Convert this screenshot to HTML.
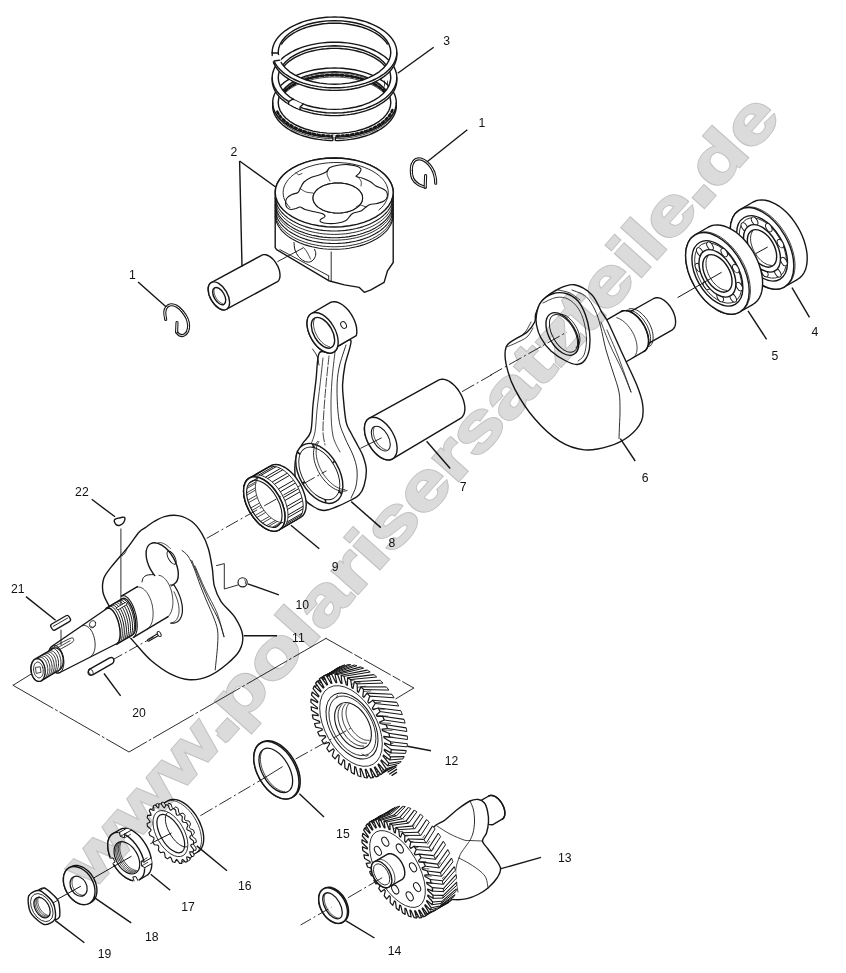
<!DOCTYPE html>
<html><head><meta charset="utf-8"><title>Crankshaft and piston - exploded view</title>
<style>
html,body{margin:0;padding:0;background:#fff;}
body{width:846px;height:973px;overflow:hidden;font-family:"Liberation Sans",sans-serif;}
svg{display:block;font-family:"Liberation Sans",sans-serif;}
</style></head><body>
<svg width="846" height="973" viewBox="0 0 846 973">
<rect width="846" height="973" fill="#fff"/>
<!-- piston_rings -->
<path d="M272.7 102.6 L272.8 100.3 L273.2 98.1 L273.9 95.8 L274.8 93.6 L276 91.5 L277.4 89.4 L279.1 87.3 L281 85.3 L283.1 83.4 L285.5 81.5 L288 79.8 L290.8 78.1 L293.8 76.6 L296.9 75.1 L300.2 73.8 L303.6 72.6 L307.2 71.6 L310.9 70.6 L314.6 69.8 L318.5 69.2 L322.4 68.7 L326.4 68.3 L330.5 68.1 L334.5 68 L338.5 68.1 L342.6 68.3 L346.6 68.7 L350.5 69.2 L354.4 69.8 L358.1 70.6 L361.8 71.6 L365.4 72.6 L368.8 73.8 L372.1 75.1 L375.2 76.6 L378.2 78.1 L381 79.8 L383.5 81.5 L385.9 83.4 L388 85.3 L389.9 87.3 L391.6 89.4 L393 91.5 L394.2 93.6 L395.1 95.8 L395.8 98.1 L396.2 100.3 L396.3 102.6 L396.3 106 L396.2 108.3 L395.8 110.5 L395.1 112.8 L394.2 115 L393 117.1 L391.6 119.2 L389.9 121.3 L388 123.3 L385.9 125.2 L383.5 127.1 L381 128.8 L378.2 130.5 L375.2 132 L372.1 133.5 L368.8 134.8 L365.4 136 L361.8 137 L358.1 138 L354.4 138.8 L350.5 139.4 L346.6 139.9 L342.6 140.3 L338.5 140.5 L334.5 140.6 L330.5 140.5 L326.4 140.3 L322.4 139.9 L318.5 139.4 L314.6 138.8 L310.9 138 L307.2 137 L303.6 136 L300.2 134.8 L296.9 133.5 L293.8 132 L290.8 130.5 L288 128.8 L285.5 127.1 L283.1 125.2 L281 123.3 L279.1 121.3 L277.4 119.2 L276 117.1 L274.8 115 L273.9 112.8 L273.2 110.5 L272.8 108.3 L272.7 106 Z M390.8 102.6 L390.3 106.6 L388.9 110.6 L386.5 114.4 L383.3 118 L379.2 121.3 L374.3 124.4 L368.8 127 L362.6 129.3 L356 131.1 L349.1 132.4 L341.8 133.1 L334.5 133.4 L327.2 133.1 L319.9 132.4 L313 131.1 L306.4 129.3 L300.2 127 L294.7 124.4 L289.8 121.3 L285.7 118 L282.5 114.4 L280.1 110.6 L278.7 106.6 L278.2 102.6 L278.7 98.6 L280.1 94.6 L282.5 90.8 L285.7 87.2 L289.8 83.9 L294.7 80.8 L300.2 78.2 L306.3 75.9 L313 74.1 L319.9 72.8 L327.2 72.1 L334.5 71.8 L341.8 72.1 L349.1 72.8 L356 74.1 L362.6 75.9 L368.8 78.2 L374.3 80.8 L379.2 83.9 L383.3 87.2 L386.5 90.8 L388.9 94.6 L390.3 98.6 L390.8 102.6 Z" fill="#fff" stroke="#161616" stroke-width="1.4" stroke-linejoin="round" stroke-linecap="round" fill-rule="evenodd"/>
<path d="M396.3 102.6 L396.2 104.9 L395.8 107.1 L395.1 109.4 L394.2 111.6 L393 113.7 L391.6 115.8 L389.9 117.9 L388 119.9 L385.9 121.8 L383.5 123.7 L381 125.4 L378.2 127.1 L375.2 128.6 L372.1 130.1 L368.8 131.4 L365.4 132.6 L361.8 133.6 L358.1 134.6 L354.4 135.4 L350.5 136 L346.6 136.5 L342.6 136.9 L338.5 137.1 L334.5 137.2 L330.5 137.1 L326.4 136.9 L322.4 136.5 L318.5 136 L314.6 135.4 L310.9 134.6 L307.2 133.6 L303.6 132.6 L300.2 131.4 L296.9 130.1 L293.8 128.6 L290.8 127.1 L288 125.4 L285.5 123.7 L283.1 121.8 L281 119.9 L279.1 117.9 L277.4 115.8 L276 113.7 L274.8 111.6 L273.9 109.4 L273.2 107.1 L272.8 104.9 L272.7 102.6" fill="none" stroke="#161616" stroke-width="1.4" stroke-linejoin="round" stroke-linecap="round" />
<path d="M395.4 109.1 L394.8 111.1 L394 113.1 L392.9 115.1 L391.7 117 L390.2 118.9 L388.5 120.7 L386.7 122.5 L384.7 124.2 L382.5 125.8 L380.1 127.4 L377.5 128.9 L374.8 130.3 L372 131.6 L369 132.8 L365.9 133.9 L362.7 134.9 L359.4 135.7 L356 136.5 L352.6 137.2 L349 137.7 L345.4 138.2 L341.8 138.5 L338.2 138.6 L334.5 138.7 L330.8 138.6 L327.2 138.5 L323.6 138.2 L320 137.7 L316.4 137.2 L313 136.5 L309.6 135.7 L306.3 134.9 L303.1 133.9 L300 132.8 L297 131.6 L294.2 130.3 L291.5 128.9 L288.9 127.4 L286.5 125.8 L284.3 124.2 L282.3 122.5 L280.5 120.7 L278.8 118.9 L277.3 117 L276.1 115.1 L275 113.1 L274.2 111.1 L273.6 109.1" fill="none" stroke="#161616" stroke-width="0.8" stroke-linejoin="round" stroke-linecap="round" />
<path d="M392.4 110 L391.6 111.8 L390.6 113.6 L389.5 115.4 L388.2 117.1 L386.6 118.7 L385 120.3 L383.1 121.9 L381.2 123.4 L379 124.8 L376.7 126.2 L374.3 127.5 L371.8 128.7 L369.1 129.8 L366.3 130.9 L363.4 131.8 L360.5 132.7 L357.4 133.4 L354.3 134.1 L351.1 134.7 L347.8 135.2 L344.5 135.5 L341.2 135.8 L337.9 135.9 L334.5 136 L331.1 135.9 L327.8 135.8 L324.5 135.5 L321.2 135.2 L317.9 134.7 L314.7 134.1 L311.6 133.4 L308.5 132.7 L305.6 131.8 L302.7 130.9 L299.9 129.8 L297.2 128.7 L294.7 127.5 L292.3 126.2 L290 124.8 L287.8 123.4 L285.9 121.9 L284 120.3 L282.4 118.7 L280.8 117.1 L279.5 115.4 L278.4 113.6 L277.4 111.8 L276.6 110" fill="none" stroke="#161616" stroke-width="2.6" stroke-linejoin="round" stroke-linecap="round" stroke-dasharray="2.2 2.6"/>
<path d="M281.6 95.3 L282.6 93.8 L283.8 92.4 L285.1 91 L286.6 89.6 L288.1 88.3 L289.8 87.1 L291.6 85.8 L293.5 84.7 L295.6 83.6 L297.7 82.5 L299.9 81.5 L302.2 80.6 L304.6 79.7 L307.1 78.9 L309.6 78.2 L312.2 77.5 L314.9 76.9 L317.6 76.4 L320.3 76 L323.1 75.6 L325.9 75.4 L328.8 75.2 L331.6 75 L334.5 75 L337.4 75 L340.2 75.2 L343.1 75.4 L345.9 75.6 L348.7 76 L351.4 76.4 L354.1 76.9 L356.8 77.5 L359.4 78.2 L361.9 78.9 L364.4 79.7 L366.8 80.6 L369.1 81.5 L371.3 82.5 L373.4 83.6 L375.5 84.7 L377.4 85.8 L379.2 87.1 L380.9 88.3 L382.4 89.6 L383.9 91 L385.2 92.4 L386.4 93.8 L387.4 95.3" fill="none" stroke="#161616" stroke-width="2.8" stroke-linejoin="round" stroke-linecap="round" stroke-dasharray="2.6 2.4"/>
<path d="M280.1 95.6 L281 94 L282 92.4 L283.2 90.9 L284.6 89.4 L286.1 87.9 L287.7 86.5 L289.5 85.1 L291.4 83.8 L293.4 82.5 L295.6 81.4 L297.8 80.2 L300.2 79.2 L302.7 78.2 L305.3 77.3 L308 76.4 L310.7 75.7 L313.5 75 L316.4 74.4 L319.3 73.9 L322.3 73.5 L325.3 73.2 L328.4 73 L331.4 72.8 L334.5 72.8 L337.6 72.8 L340.6 73 L343.7 73.2 L346.7 73.5 L349.7 73.9 L352.6 74.4 L355.5 75 L358.3 75.7 L361 76.4 L363.7 77.3 L366.3 78.2 L368.8 79.2 L371.2 80.2 L373.4 81.4 L375.6 82.5 L377.6 83.8 L379.5 85.1 L381.3 86.5 L382.9 87.9 L384.4 89.4 L385.8 90.9 L387 92.4 L388 94 L388.9 95.6" fill="none" stroke="#161616" stroke-width="0.8" stroke-linejoin="round" stroke-linecap="round" />
<path d="M281 98.3 L281.9 96.8 L283.1 95.3 L284.3 93.8 L285.7 92.4 L287.3 91 L289 89.7 L290.7 88.4 L292.7 87.2 L294.7 86 L296.8 84.9 L299.1 83.9 L301.4 82.9 L303.8 82 L306.3 81.1 L308.9 80.4 L311.6 79.7 L314.3 79 L317.1 78.5 L319.9 78 L322.8 77.7 L325.7 77.4 L328.6 77.2 L331.6 77 L334.5 77 L337.4 77 L340.4 77.2 L343.3 77.4 L346.2 77.7 L349.1 78 L351.9 78.5 L354.7 79 L357.4 79.7 L360.1 80.4 L362.6 81.1 L365.2 82 L367.6 82.9 L369.9 83.9 L372.2 84.9 L374.3 86 L376.3 87.2 L378.3 88.4 L380 89.7 L381.7 91 L383.3 92.4 L384.7 93.8 L385.9 95.3 L387.1 96.8 L388 98.3" fill="none" stroke="#161616" stroke-width="0.8" stroke-linejoin="round" stroke-linecap="round" />
<line x1="384.5" y1="80.6" x2="384.5" y2="86.6" stroke="#161616" stroke-width="0.8"/>
<line x1="387.5" y1="80.6" x2="387.5" y2="86.6" stroke="#161616" stroke-width="0.8"/>
<line x1="390" y1="80.6" x2="390" y2="86.6" stroke="#161616" stroke-width="0.8"/>
<rect x="332.9" y="135.2" width="2.4" height="7" fill="#fff"/>
<line x1="332.9" y1="136.7" x2="332.9" y2="140.8" stroke="#161616" stroke-width="1.4"/>
<line x1="335.3" y1="136.7" x2="335.3" y2="140.8" stroke="#161616" stroke-width="1.4"/>
<path d="M272.2 77.6 L272.3 75.3 L272.7 73 L273.4 70.7 L274.3 68.4 L275.5 66.2 L276.9 64.1 L278.6 61.9 L280.5 59.9 L282.7 57.9 L285.1 56 L287.7 54.3 L290.4 52.6 L293.4 51 L296.6 49.5 L299.9 48.2 L303.3 46.9 L306.9 45.9 L310.7 44.9 L314.5 44.1 L318.4 43.4 L322.3 42.9 L326.4 42.5 L330.4 42.3 L334.5 42.2 L338.6 42.3 L342.6 42.5 L346.7 42.9 L350.6 43.4 L354.5 44.1 L358.3 44.9 L362.1 45.9 L365.6 46.9 L369.1 48.2 L372.4 49.5 L375.6 51 L378.6 52.6 L381.3 54.3 L383.9 56 L386.3 57.9 L388.5 59.9 L390.4 61.9 L392.1 64.1 L393.5 66.2 L394.7 68.4 L395.6 70.7 L396.3 73 L396.7 75.3 L396.8 77.6 L396.8 80.2 L396.7 82.5 L396.3 84.8 L395.6 87.1 L394.7 89.4 L393.5 91.6 L392.1 93.7 L390.4 95.9 L388.5 97.9 L386.3 99.9 L383.9 101.8 L381.3 103.5 L378.6 105.2 L375.6 106.8 L372.4 108.3 L369.1 109.6 L365.6 110.9 L362.1 111.9 L358.3 112.9 L354.5 113.7 L350.6 114.4 L346.7 114.9 L342.6 115.3 L338.6 115.5 L334.5 115.6 L330.4 115.5 L326.4 115.3 L322.3 114.9 L318.4 114.4 L314.5 113.7 L310.7 112.9 L306.9 111.9 L303.4 110.9 L299.9 109.6 L296.6 108.3 L293.4 106.8 L290.4 105.2 L287.7 103.5 L285.1 101.8 L282.7 99.9 L280.5 97.9 L278.6 95.9 L276.9 93.7 L275.5 91.6 L274.3 89.4 L273.4 87.1 L272.7 84.8 L272.3 82.5 L272.2 80.2 Z M390.8 77.6 L390.3 81.8 L388.9 85.8 L386.5 89.8 L383.3 93.5 L379.2 97 L374.3 100.1 L368.8 102.8 L362.6 105.2 L356 107 L349.1 108.3 L341.8 109.1 L334.5 109.4 L327.2 109.1 L319.9 108.3 L313 107 L306.4 105.2 L300.2 102.8 L294.7 100.1 L289.8 97 L285.7 93.5 L282.5 89.8 L280.1 85.8 L278.7 81.8 L278.2 77.6 L278.7 73.4 L280.1 69.4 L282.5 65.4 L285.7 61.7 L289.8 58.2 L294.7 55.1 L300.2 52.4 L306.3 50 L313 48.2 L319.9 46.9 L327.2 46.1 L334.5 45.8 L341.8 46.1 L349.1 46.9 L356 48.2 L362.6 50 L368.8 52.4 L374.3 55.1 L379.2 58.2 L383.3 61.7 L386.5 65.4 L388.9 69.4 L390.3 73.4 L390.8 77.6 Z" fill="#fff" stroke="#161616" stroke-width="1.4" stroke-linejoin="round" stroke-linecap="round" fill-rule="evenodd"/>
<path d="M396.8 77.6 L396.7 79.9 L396.3 82.2 L395.6 84.5 L394.7 86.8 L393.5 89 L392.1 91.1 L390.4 93.3 L388.5 95.3 L386.3 97.3 L383.9 99.2 L381.3 100.9 L378.6 102.6 L375.6 104.2 L372.4 105.7 L369.1 107 L365.6 108.3 L362.1 109.3 L358.3 110.3 L354.5 111.1 L350.6 111.8 L346.7 112.3 L342.6 112.7 L338.6 112.9 L334.5 113 L330.4 112.9 L326.4 112.7 L322.3 112.3 L318.4 111.8 L314.5 111.1 L310.7 110.3 L306.9 109.3 L303.4 108.3 L299.9 107 L296.6 105.7 L293.4 104.2 L290.4 102.6 L287.7 100.9 L285.1 99.2 L282.7 97.3 L280.5 95.3 L278.6 93.3 L276.9 91.1 L275.5 89 L274.3 86.8 L273.4 84.5 L272.7 82.2 L272.3 79.9 L272.2 77.6" fill="none" stroke="#161616" stroke-width="1.4" stroke-linejoin="round" stroke-linecap="round" />
<path d="M281.6 69.3 L282.6 67.8 L283.8 66.3 L285.1 64.9 L286.6 63.5 L288.1 62.1 L289.8 60.8 L291.6 59.6 L293.5 58.4 L295.6 57.2 L297.7 56.1 L299.9 55.1 L302.2 54.1 L304.6 53.2 L307.1 52.4 L309.6 51.7 L312.2 51 L314.9 50.4 L317.6 49.9 L320.3 49.4 L323.1 49 L325.9 48.8 L328.8 48.5 L331.6 48.4 L334.5 48.4 L337.4 48.4 L340.2 48.5 L343.1 48.8 L345.9 49 L348.7 49.4 L351.4 49.9 L354.1 50.4 L356.8 51 L359.4 51.7 L361.9 52.4 L364.4 53.2 L366.8 54.1 L369.1 55.1 L371.3 56.1 L373.4 57.2 L375.5 58.4 L377.4 59.6 L379.2 60.8 L380.9 62.1 L382.4 63.5 L383.9 64.9 L385.2 66.3 L386.4 67.8 L387.4 69.3" fill="none" stroke="#161616" stroke-width="1.4" stroke-linejoin="round" stroke-linecap="round" />
<path d="M299 108.8 L287.1 102.9 L294.5 100.3 L304.5 105.1 Z" fill="#fff" stroke="none"/>
<path d="M300.1 109.7 L300.1 107.1 L303.4 104.1" fill="none" stroke="#161616" stroke-width="1.4" stroke-linejoin="round" stroke-linecap="round" />
<path d="M288.6 104.1 L288.6 101.5 L293 99.1" fill="none" stroke="#161616" stroke-width="1.4" stroke-linejoin="round" stroke-linecap="round" />
<path d="M272.2 52.4 L272.3 50.1 L272.7 47.8 L273.4 45.5 L274.3 43.2 L275.5 41 L276.9 38.9 L278.6 36.7 L280.5 34.7 L282.7 32.7 L285.1 30.8 L287.7 29.1 L290.4 27.4 L293.4 25.8 L296.6 24.3 L299.9 23 L303.3 21.7 L306.9 20.7 L310.7 19.7 L314.5 18.9 L318.4 18.2 L322.3 17.7 L326.4 17.3 L330.4 17.1 L334.5 17 L338.6 17.1 L342.6 17.3 L346.7 17.7 L350.6 18.2 L354.5 18.9 L358.3 19.7 L362.1 20.7 L365.6 21.7 L369.1 23 L372.4 24.3 L375.6 25.8 L378.6 27.4 L381.3 29.1 L383.9 30.8 L386.3 32.7 L388.5 34.7 L390.4 36.7 L392.1 38.9 L393.5 41 L394.7 43.2 L395.6 45.5 L396.3 47.8 L396.7 50.1 L396.8 52.4 L396.8 55 L396.7 57.3 L396.3 59.6 L395.6 61.9 L394.7 64.2 L393.5 66.4 L392.1 68.5 L390.4 70.7 L388.5 72.7 L386.3 74.7 L383.9 76.6 L381.3 78.3 L378.6 80 L375.6 81.6 L372.4 83.1 L369.1 84.4 L365.6 85.7 L362.1 86.7 L358.3 87.7 L354.5 88.5 L350.6 89.2 L346.7 89.7 L342.6 90.1 L338.6 90.3 L334.5 90.4 L330.4 90.3 L326.4 90.1 L322.3 89.7 L318.4 89.2 L314.5 88.5 L310.7 87.7 L306.9 86.7 L303.4 85.7 L299.9 84.4 L296.6 83.1 L293.4 81.6 L290.4 80 L287.7 78.3 L285.1 76.6 L282.7 74.7 L280.5 72.7 L278.6 70.7 L276.9 68.5 L275.5 66.4 L274.3 64.2 L273.4 61.9 L272.7 59.6 L272.3 57.3 L272.2 55 Z M390.8 52.4 L390.3 56.6 L388.9 60.6 L386.5 64.6 L383.3 68.3 L379.2 71.8 L374.3 74.9 L368.8 77.6 L362.6 80 L356 81.8 L349.1 83.1 L341.8 83.9 L334.5 84.2 L327.2 83.9 L319.9 83.1 L313 81.8 L306.4 80 L300.2 77.6 L294.7 74.9 L289.8 71.8 L285.7 68.3 L282.5 64.6 L280.1 60.6 L278.7 56.6 L278.2 52.4 L278.7 48.2 L280.1 44.2 L282.5 40.2 L285.7 36.5 L289.8 33 L294.7 29.9 L300.2 27.2 L306.3 24.8 L313 23 L319.9 21.7 L327.2 20.9 L334.5 20.6 L341.8 20.9 L349.1 21.7 L356 23 L362.6 24.8 L368.8 27.2 L374.3 29.9 L379.2 33 L383.3 36.5 L386.5 40.2 L388.9 44.2 L390.3 48.2 L390.8 52.4 Z" fill="#fff" stroke="#161616" stroke-width="1.4" stroke-linejoin="round" stroke-linecap="round" fill-rule="evenodd"/>
<path d="M396.8 52.4 L396.7 54.7 L396.3 57 L395.6 59.3 L394.7 61.6 L393.5 63.8 L392.1 65.9 L390.4 68.1 L388.5 70.1 L386.3 72.1 L383.9 74 L381.3 75.7 L378.6 77.4 L375.6 79 L372.4 80.5 L369.1 81.8 L365.6 83.1 L362.1 84.1 L358.3 85.1 L354.5 85.9 L350.6 86.6 L346.7 87.1 L342.6 87.5 L338.6 87.7 L334.5 87.8 L330.4 87.7 L326.4 87.5 L322.3 87.1 L318.4 86.6 L314.5 85.9 L310.7 85.1 L306.9 84.1 L303.4 83.1 L299.9 81.8 L296.6 80.5 L293.4 79 L290.4 77.4 L287.7 75.7 L285.1 74 L282.7 72.1 L280.5 70.1 L278.6 68.1 L276.9 65.9 L275.5 63.8 L274.3 61.6 L273.4 59.3 L272.7 57 L272.3 54.7 L272.2 52.4" fill="none" stroke="#161616" stroke-width="1.4" stroke-linejoin="round" stroke-linecap="round" />
<path d="M281.6 44.1 L282.6 42.6 L283.8 41.1 L285.1 39.7 L286.6 38.3 L288.1 36.9 L289.8 35.6 L291.6 34.4 L293.5 33.2 L295.6 32 L297.7 30.9 L299.9 29.9 L302.2 28.9 L304.6 28 L307.1 27.2 L309.6 26.5 L312.2 25.8 L314.9 25.2 L317.6 24.7 L320.3 24.2 L323.1 23.8 L325.9 23.6 L328.8 23.3 L331.6 23.2 L334.5 23.2 L337.4 23.2 L340.2 23.3 L343.1 23.6 L345.9 23.8 L348.7 24.2 L351.4 24.7 L354.1 25.2 L356.8 25.8 L359.4 26.5 L361.9 27.2 L364.4 28 L366.8 28.9 L369.1 29.9 L371.3 30.9 L373.4 32 L375.5 33.2 L377.4 34.4 L379.2 35.6 L380.9 36.9 L382.4 38.3 L383.9 39.7 L385.2 41.1 L386.4 42.6 L387.4 44.1" fill="none" stroke="#161616" stroke-width="1.4" stroke-linejoin="round" stroke-linecap="round" />
<path d="M272.1 61.4 L270.2 53.1 L280.2 55.5 L281.8 62.2 Z" fill="#fff" stroke="none"/>
<path d="M274.1 63.6 L274.1 61 L279.9 60.1" fill="none" stroke="#161616" stroke-width="1.4" stroke-linejoin="round" stroke-linecap="round" />
<path d="M272.2 55.6 L272.2 53 L278.2 53" fill="none" stroke="#161616" stroke-width="1.4" stroke-linejoin="round" stroke-linecap="round" />
<!-- wrist_pin -->
<path d="M226.6 309.2 L225.7 309.6 L224.7 309.9 L223.7 309.9 L222.6 309.8 L221.5 309.5 L220.3 309 L219.1 308.4 L217.9 307.6 L216.7 306.6 L215.5 305.6 L214.4 304.4 L213.4 303.1 L212.4 301.7 L211.5 300.2 L210.6 298.7 L209.9 297.1 L209.3 295.6 L208.8 294 L208.5 292.4 L208.3 290.9 L208.2 289.5 L208.2 288.2 L208.4 286.9 L208.7 285.7 L209.2 284.7 L209.7 283.9 L210.4 283.1 L211.2 282.6 L261.6 255.3 L262.5 254.9 L263.5 254.6 L264.5 254.6 L265.6 254.7 L266.7 255 L267.9 255.5 L269.1 256.1 L270.3 256.9 L271.5 257.9 L272.7 258.9 L273.8 260.1 L274.8 261.4 L275.8 262.8 L276.7 264.3 L277.6 265.8 L278.3 267.4 L278.9 268.9 L279.4 270.5 L279.7 272.1 L279.9 273.6 L280 275 L280 276.3 L279.8 277.6 L279.5 278.8 L279 279.8 L278.5 280.6 L277.8 281.4 L277 281.9 Z" fill="#fff" stroke="#161616" stroke-width="1.4" stroke-linejoin="round" stroke-linecap="round" />
<ellipse cx="218.9" cy="295.9" rx="8.6" ry="15.4" transform="rotate(-30 218.9 295.9)" fill="#fff" stroke="#161616" stroke-width="1.4" />
<ellipse cx="219.2" cy="296.1" rx="5.2" ry="9.5" transform="rotate(-30 219.2 296.1)" fill="none" stroke="#161616" stroke-width="1.4" />
<path d="M222.4 303.6 L221.9 303.4 L221.4 303.1 L220.8 302.8 L220.3 302.5 L219.8 302.1 L219.3 301.7 L218.7 301.2 L218.2 300.7 L217.7 300.1 L217.3 299.5 L216.8 298.9 L216.4 298.3 L216 297.6 L215.6 296.9 L215.3 296.3 L215 295.6 L214.7 294.9 L214.5 294.2 L214.3 293.5 L214.2 292.8 L214 292.1 L214 291.5 L214 290.8 L214 290.2 L214 289.7 L214.2 289.2 L214.3 288.7 L214.5 288.2" fill="none" stroke="#161616" stroke-width="0.8" stroke-linejoin="round" stroke-linecap="round" />
<!-- piston -->
<path d="M275.2 192.5 L275.2 247.6 L276.6 249.6 L328.7 280.7 L344.4 284.9 L359.3 287.4 L364.3 292.3 L370.9 289.8 L384.1 282.4 L387.5 270.8 L393.2 262.5 L393.2 192.5 L393.2 192.5 L393.1 190.2 L392.7 188 L392.1 185.8 L391.2 183.6 L390.1 181.4 L388.7 179.3 L387.1 177.2 L385.3 175.2 L383.3 173.3 L381 171.5 L378.6 169.8 L375.9 168.1 L373.1 166.6 L370.1 165.1 L367 163.8 L363.7 162.6 L360.3 161.6 L356.8 160.6 L353.2 159.8 L349.5 159.2 L345.7 158.7 L341.9 158.3 L338.1 158.1 L334.2 158 L330.3 158.1 L326.5 158.3 L322.7 158.7 L318.9 159.2 L315.2 159.8 L311.6 160.6 L308.1 161.6 L304.7 162.6 L301.4 163.8 L298.3 165.1 L295.3 166.6 L292.5 168.1 L289.8 169.8 L287.4 171.5 L285.1 173.3 L283.1 175.2 L281.3 177.2 L279.7 179.3 L278.3 181.4 L277.2 183.6 L276.3 185.8 L275.7 188 L275.3 190.2 L275.2 192.5 Z" fill="#fff" stroke="#161616" stroke-width="1.4" stroke-linejoin="round" stroke-linecap="round" />
<path d="M393.2 192.5 L392.7 197 L391.2 201.4 L388.7 205.7 L385.3 209.8 L381 213.5 L375.9 216.9 L370.1 219.9 L363.7 222.4 L356.8 224.4 L349.5 225.8 L341.9 226.7 L334.2 227 L326.5 226.7 L318.9 225.8 L311.6 224.4 L304.7 222.4 L298.3 219.9 L292.5 216.9 L287.4 213.5 L283.1 209.8 L279.7 205.7 L277.2 201.4 L275.7 197 L275.2 192.5 L275.7 188 L277.2 183.6 L279.7 179.3 L283.1 175.2 L287.4 171.5 L292.5 168.1 L298.3 165.1 L304.7 162.6 L311.6 160.6 L318.9 159.2 L326.5 158.3 L334.2 158 L341.9 158.3 L349.5 159.2 L356.8 160.6 L363.7 162.6 L370.1 165.1 L375.9 168.1 L381 171.5 L385.3 175.2 L388.7 179.3 L391.2 183.6 L392.7 188 L393.2 192.5 Z" fill="#fff" stroke="#161616" stroke-width="1.4" stroke-linejoin="round" stroke-linecap="round" />
<path d="M393.2 197.7 L392.9 199.9 L392.4 202.1 L391.7 204.3 L390.7 206.4 L389.5 208.5 L388.1 210.5 L386.5 212.5 L384.6 214.4 L382.5 216.3 L380.3 218.1 L377.8 219.7 L375.2 221.3 L372.4 222.8 L369.4 224.2 L366.3 225.4 L363.1 226.6 L359.8 227.6 L356.3 228.5 L352.8 229.2 L349.1 229.9 L345.5 230.4 L341.7 230.7 L338 230.9 L334.2 231 L330.4 230.9 L326.7 230.7 L322.9 230.4 L319.3 229.9 L315.6 229.2 L312.1 228.5 L308.6 227.6 L305.3 226.6 L302.1 225.4 L299 224.2 L296 222.8 L293.2 221.3 L290.6 219.7 L288.1 218.1 L285.9 216.3 L283.8 214.4 L281.9 212.5 L280.3 210.5 L278.9 208.5 L277.7 206.4 L276.7 204.3 L276 202.1 L275.5 199.9 L275.2 197.7" fill="none" stroke="#161616" stroke-width="1.1" stroke-linejoin="round" stroke-linecap="round" />
<path d="M393.2 201.1 L392.9 203.3 L392.4 205.5 L391.7 207.7 L390.7 209.8 L389.5 211.9 L388.1 213.9 L386.5 215.9 L384.6 217.8 L382.5 219.7 L380.3 221.5 L377.8 223.1 L375.2 224.7 L372.4 226.2 L369.4 227.6 L366.3 228.8 L363.1 230 L359.8 231 L356.3 231.9 L352.8 232.6 L349.1 233.3 L345.5 233.8 L341.7 234.1 L338 234.3 L334.2 234.4 L330.4 234.3 L326.7 234.1 L322.9 233.8 L319.3 233.3 L315.6 232.6 L312.1 231.9 L308.6 231 L305.3 230 L302.1 228.8 L299 227.6 L296 226.2 L293.2 224.7 L290.6 223.1 L288.1 221.5 L285.9 219.7 L283.8 217.8 L281.9 215.9 L280.3 213.9 L278.9 211.9 L277.7 209.8 L276.7 207.7 L276 205.5 L275.5 203.3 L275.2 201.1" fill="none" stroke="#161616" stroke-width="0.9" stroke-linejoin="round" stroke-linecap="round" />
<path d="M393.2 204.4 L392.9 206.6 L392.4 208.8 L391.7 211 L390.7 213.1 L389.5 215.2 L388.1 217.2 L386.5 219.2 L384.6 221.1 L382.5 223 L380.3 224.8 L377.8 226.4 L375.2 228 L372.4 229.5 L369.4 230.9 L366.3 232.1 L363.1 233.3 L359.8 234.3 L356.3 235.2 L352.8 235.9 L349.1 236.6 L345.5 237.1 L341.7 237.4 L338 237.6 L334.2 237.7 L330.4 237.6 L326.7 237.4 L322.9 237.1 L319.3 236.6 L315.6 235.9 L312.1 235.2 L308.6 234.3 L305.3 233.3 L302.1 232.1 L299 230.9 L296 229.5 L293.2 228 L290.6 226.4 L288.1 224.8 L285.9 223 L283.8 221.1 L281.9 219.2 L280.3 217.2 L278.9 215.2 L277.7 213.1 L276.7 211 L276 208.8 L275.5 206.6 L275.2 204.4" fill="none" stroke="#161616" stroke-width="1.1" stroke-linejoin="round" stroke-linecap="round" />
<path d="M393.2 206.9 L392.9 209.1 L392.4 211.3 L391.7 213.5 L390.7 215.6 L389.5 217.7 L388.1 219.7 L386.5 221.7 L384.6 223.6 L382.5 225.5 L380.3 227.3 L377.8 228.9 L375.2 230.5 L372.4 232 L369.4 233.4 L366.3 234.6 L363.1 235.8 L359.8 236.8 L356.3 237.7 L352.8 238.4 L349.1 239.1 L345.5 239.6 L341.7 239.9 L338 240.1 L334.2 240.2 L330.4 240.1 L326.7 239.9 L322.9 239.6 L319.3 239.1 L315.6 238.4 L312.1 237.7 L308.6 236.8 L305.3 235.8 L302.1 234.6 L299 233.4 L296 232 L293.2 230.5 L290.6 228.9 L288.1 227.3 L285.9 225.5 L283.8 223.6 L281.9 221.7 L280.3 219.7 L278.9 217.7 L277.7 215.6 L276.7 213.5 L276 211.3 L275.5 209.1 L275.2 206.9" fill="none" stroke="#161616" stroke-width="0.9" stroke-linejoin="round" stroke-linecap="round" />
<path d="M393.2 210.2 L392.9 212.4 L392.4 214.6 L391.7 216.8 L390.7 218.9 L389.5 221 L388.1 223 L386.5 225 L384.6 226.9 L382.5 228.8 L380.3 230.6 L377.8 232.2 L375.2 233.8 L372.4 235.3 L369.4 236.7 L366.3 237.9 L363.1 239.1 L359.8 240.1 L356.3 241 L352.8 241.7 L349.1 242.4 L345.5 242.9 L341.7 243.2 L338 243.4 L334.2 243.5 L330.4 243.4 L326.7 243.2 L322.9 242.9 L319.3 242.4 L315.6 241.7 L312.1 241 L308.6 240.1 L305.3 239.1 L302.1 237.9 L299 236.7 L296 235.3 L293.2 233.8 L290.6 232.2 L288.1 230.6 L285.9 228.8 L283.8 226.9 L281.9 225 L280.3 223 L278.9 221 L277.7 218.9 L276.7 216.8 L276 214.6 L275.5 212.4 L275.2 210.2" fill="none" stroke="#161616" stroke-width="1.1" stroke-linejoin="round" stroke-linecap="round" />
<path d="M393.2 213.5 L392.9 215.7 L392.4 217.9 L391.7 220.1 L390.7 222.2 L389.5 224.3 L388.1 226.3 L386.5 228.3 L384.6 230.2 L382.5 232.1 L380.3 233.9 L377.8 235.5 L375.2 237.1 L372.4 238.6 L369.4 240 L366.3 241.2 L363.1 242.4 L359.8 243.4 L356.3 244.3 L352.8 245 L349.1 245.7 L345.5 246.2 L341.7 246.5 L338 246.7 L334.2 246.8 L330.4 246.7 L326.7 246.5 L322.9 246.2 L319.3 245.7 L315.6 245 L312.1 244.3 L308.6 243.4 L305.3 242.4 L302.1 241.2 L299 240 L296 238.6 L293.2 237.1 L290.6 235.5 L288.1 233.9 L285.9 232.1 L283.8 230.2 L281.9 228.3 L280.3 226.3 L278.9 224.3 L277.7 222.2 L276.7 220.1 L276 217.9 L275.5 215.7 L275.2 213.5" fill="none" stroke="#161616" stroke-width="0.9" stroke-linejoin="round" stroke-linecap="round" />
<path d="M393.2 216 L392.9 218.2 L392.4 220.4 L391.7 222.6 L390.7 224.7 L389.5 226.8 L388.1 228.8 L386.5 230.8 L384.6 232.7 L382.5 234.6 L380.3 236.4 L377.8 238 L375.2 239.6 L372.4 241.1 L369.4 242.5 L366.3 243.7 L363.1 244.9 L359.8 245.9 L356.3 246.8 L352.8 247.5 L349.1 248.2 L345.5 248.7 L341.7 249 L338 249.2 L334.2 249.3 L330.4 249.2 L326.7 249 L322.9 248.7 L319.3 248.2 L315.6 247.5 L312.1 246.8 L308.6 245.9 L305.3 244.9 L302.1 243.7 L299 242.5 L296 241.1 L293.2 239.6 L290.6 238 L288.1 236.4 L285.9 234.6 L283.8 232.7 L281.9 230.8 L280.3 228.8 L278.9 226.8 L277.7 224.7 L276.7 222.6 L276 220.4 L275.5 218.2 L275.2 216" fill="none" stroke="#161616" stroke-width="1.1" stroke-linejoin="round" stroke-linecap="round" />
<line x1="276.7" y1="198.5" x2="276.7" y2="218.5" stroke="#161616" stroke-width="0.8"/>
<line x1="391.7" y1="198.5" x2="391.7" y2="216.5" stroke="#161616" stroke-width="0.8"/>
<path d="M279.9 249.6 L328.7 275.8" fill="none" stroke="#161616" stroke-width="0.9" stroke-linejoin="round" stroke-linecap="round" />
<line x1="331.2" y1="251.5" x2="331.2" y2="281" stroke="#161616" stroke-width="0.9"/>
<line x1="328.7" y1="275.8" x2="328.7" y2="280.7" stroke="#161616" stroke-width="0.9"/>
<path d="M294 242.5 C294.2 243.8 294.2 247.7 295 250 C295.8 252.3 297 254.7 298.5 256.5 C300 258.3 302.1 260.1 304 261 C305.9 261.9 308 262.3 309.7 262 C311.4 261.7 313 260.3 314 259 C315 257.7 315.7 255.6 315.8 254 C315.9 252.4 314.8 250.1 314.6 249.3" fill="none" stroke="#161616" stroke-width="1" stroke-linejoin="round" stroke-linecap="round" />
<path d="M303 247 C303.7 247.8 305.8 250 307 252 C308.2 254 309.9 257.8 310.5 259" fill="none" stroke="#161616" stroke-width="0.8" stroke-linejoin="round" stroke-linecap="round" />
<path d="M290.1 207.8 L288 205.4 L286.2 202.9 L284.8 200.4 L283.8 197.7 L283.3 195.1 L283.1 192.4 L283.4 189.7 L284 187 L285.1 184.4 L286.6 181.9 L288.5 179.4 L290.7 177 L293.3 174.8 L296.3 172.7 L299.5 170.8 L303.1 169 L306.9 167.4 L310.9 166.1 L315.1 164.9 L319.5 164 L324 163.3 L328.6 162.8 L333.3 162.5 L338 162.5 L342.7 162.8 L347.3 163.2 L351.8 163.9 L356.2 164.9 L360.4 166 L364.4 167.4 L368.2 169 L371.8 170.7 L375.1 172.7 L378 174.8 L380.6 177 L382.9 179.3 L384.8 181.8 L386.3 184.4 L387.3 187 L388 189.6 L388.3 192.3 L388.1 195 L387.6 197.7 L386.6 200.3 L385.2 202.9 L383.5 205.4 L381.3 207.8 L378.8 210" fill="none" stroke="#161616" stroke-width="0.9" stroke-linejoin="round" stroke-linecap="round" />
<path d="M362.6 198 L362.4 200 L361.8 201.9 L360.7 203.7 L359.3 205.5 L357.5 207.1 L355.3 208.6 L352.9 209.9 L350.2 211 L347.3 211.9 L344.2 212.5 L341 212.9 L337.8 213 L334.6 212.9 L331.4 212.5 L328.3 211.9 L325.4 211 L322.7 209.9 L320.3 208.6 L318.1 207.1 L316.3 205.5 L314.9 203.7 L313.8 201.9 L313.2 200 L313 198 L313.2 196 L313.8 194.1 L314.9 192.3 L316.3 190.5 L318.1 188.9 L320.3 187.4 L322.7 186.1 L325.4 185 L328.3 184.1 L331.4 183.5 L334.6 183.1 L337.8 183 L341 183.1 L344.2 183.5 L347.3 184.1 L350.2 185 L352.9 186.1 L355.3 187.4 L357.5 188.9 L359.3 190.5 L360.7 192.3 L361.8 194.1 L362.4 196 L362.6 198 Z" fill="#fff" stroke="#161616" stroke-width="1.1" stroke-linejoin="round" stroke-linecap="round" />
<path d="M285.5 203 C285.5 201.4 285.9 199.4 287 198 C288.1 196.6 290.2 195.4 292 194.5 C293.8 193.6 296.6 193.6 298 192.5 C299.4 191.4 299.5 189.8 300.5 188 C301.5 186.2 302.2 183.8 304 182 C305.8 180.2 308.5 178.7 311 177.5 C313.5 176.3 316.5 175.9 319 175 C321.5 174.1 324.2 173.2 326 172 C327.8 170.8 328 168.6 330 167.5 C332 166.4 335 165.7 338 165.2 C341 164.7 345 164.5 348 164.6 C351 164.7 353.8 165.3 356 166 C358.2 166.7 360.5 167.8 361 169 C361.5 170.2 359.8 172.2 359 173.5 C358.2 174.8 355.5 175.8 356 176.5 C356.5 177.2 359.7 177.2 362 178 C364.3 178.8 367.7 180.2 370 181.5 C372.3 182.8 374.2 184.9 376 186 C377.8 187.1 379.3 187.2 381 188 C382.7 188.8 384.9 189.7 386 191 C387.1 192.3 387.8 194.3 387.5 196 C387.2 197.7 385.8 199.8 384 201 C382.2 202.2 379.3 202.9 377 203.5 C374.7 204.1 371.8 203.9 370 204.5 C368.2 205.1 367.5 205.9 366 207 C364.5 208.1 363.2 210 361 211 C358.8 212 354.8 212.4 353 213.2 C351.2 214 351.2 214.8 350 216 C348.8 217.2 348 219.3 346 220.5 C344 221.7 341 222.5 338 223 C335 223.5 330.8 223.7 328 223.5 C325.2 223.3 322.2 222.7 321 222 C319.8 221.3 319.8 220.4 320.5 219.5 C321.2 218.6 324.8 217.5 325 216.5 C325.2 215.5 324 214.3 322 213.5 C320 212.7 315.8 212.2 313 211.5 C310.2 210.8 307.2 210.2 305 209.5 C302.8 208.8 301.5 207.2 300 207 C298.5 206.8 297.5 208.1 296 208.5 C294.5 208.9 292.5 209.7 291 209.5 C289.5 209.3 287.9 208.6 287 207.5 C286.1 206.4 285.5 204.6 285.5 203 Z" fill="none" stroke="#161616" stroke-width="1.1" stroke-linejoin="round" stroke-linecap="round" />
<path d="M362.6 198 L362.4 200 L361.8 201.9 L360.7 203.7 L359.3 205.5 L357.5 207.1 L355.3 208.6 L352.9 209.9 L350.2 211 L347.3 211.9 L344.2 212.5 L341 212.9 L337.8 213 L334.6 212.9 L331.4 212.5 L328.3 211.9 L325.4 211 L322.7 209.9 L320.3 208.6 L318.1 207.1 L316.3 205.5 L314.9 203.7 L313.8 201.9 L313.2 200 L313 198 L313.2 196 L313.8 194.1 L314.9 192.3 L316.3 190.5 L318.1 188.9 L320.3 187.4 L322.7 186.1 L325.4 185 L328.3 184.1 L331.4 183.5 L334.6 183.1 L337.8 183 L341 183.1 L344.2 183.5 L347.3 184.1 L350.2 185 L352.9 186.1 L355.3 187.4 L357.5 188.9 L359.3 190.5 L360.7 192.3 L361.8 194.1 L362.4 196 L362.6 198 Z" fill="#fff" stroke="#161616" stroke-width="1.1" stroke-linejoin="round" stroke-linecap="round" />
<path d="M300 188.5 C301 189.1 303.8 191.2 306 192 C308.2 192.8 311.8 192.8 313 193" fill="none" stroke="#161616" stroke-width="0.8" stroke-linejoin="round" stroke-linecap="round" />
<path d="M329 168 C328.7 169 326.8 171.8 327 174 C327.2 176.2 329.5 179.8 330 181" fill="none" stroke="#161616" stroke-width="0.8" stroke-linejoin="round" stroke-linecap="round" />
<path d="M357 176 C357.7 176.8 360.3 179.3 361 181 C361.7 182.7 361 185.2 361 186" fill="none" stroke="#161616" stroke-width="0.8" stroke-linejoin="round" stroke-linecap="round" />
<path d="M366 207 C365 206.7 361.7 205 360 205 C358.3 205 356.7 206.7 356 207" fill="none" stroke="#161616" stroke-width="0.8" stroke-linejoin="round" stroke-linecap="round" />
<path d="M296 172.5 L298.5 175 L302 173.5" fill="none" stroke="#161616" stroke-width="0.8" stroke-linejoin="round" stroke-linecap="round" />
<!-- circlips -->
<path d="M425.2 187.2 C424.1 186.8 420.6 185.9 418.5 184.5 C416.4 183.1 413.9 181.2 412.7 178.5 C411.5 175.8 411.2 170.9 411.4 168 C411.6 165.1 412.8 162.5 414 161 C415.2 159.5 416.9 159 418.6 158.9 C420.3 158.8 422.2 159.3 424 160.3 C425.8 161.3 427.9 163.1 429.5 165 C431.1 166.9 432.5 169.3 433.5 171.5 C434.5 173.7 434.9 176 435.3 178 C435.7 180 435.6 182.4 435.7 183.3" fill="none" stroke="#161616" stroke-width="3.1" stroke-linejoin="round" stroke-linecap="round" />
<path d="M425.2 187.2 C424.1 186.8 420.6 185.9 418.5 184.5 C416.4 183.1 413.9 181.2 412.7 178.5 C411.5 175.8 411.2 170.9 411.4 168 C411.6 165.1 412.8 162.5 414 161 C415.2 159.5 416.9 159 418.6 158.9 C420.3 158.8 422.2 159.3 424 160.3 C425.8 161.3 427.9 163.1 429.5 165 C431.1 166.9 432.5 169.3 433.5 171.5 C434.5 173.7 434.9 176 435.3 178 C435.7 180 435.6 182.4 435.7 183.3" fill="none" stroke="#fff" stroke-width="1" stroke-linejoin="round" stroke-linecap="round" />
<path d="M425.6 175.6 L425.2 187.2" fill="none" stroke="#161616" stroke-width="3.1" stroke-linejoin="round" stroke-linecap="round" />
<path d="M425.6 175.6 L425.2 187.2" fill="none" stroke="#fff" stroke-width="1" stroke-linejoin="round" stroke-linecap="round" />
<path d="M165.7 319.4 C165.5 318.2 164.6 314.1 164.8 312 C165 309.9 165.7 308.2 166.7 307 C167.7 305.8 169.4 304.9 171 304.8 C172.6 304.7 174.6 305.1 176.5 306.2 C178.4 307.3 180.8 309.4 182.5 311.5 C184.2 313.6 186 316.2 187 318.5 C188 320.8 188.5 323.3 188.6 325.5 C188.7 327.7 188.3 329.9 187.5 331.5 C186.7 333.1 185.1 334.6 183.8 335.2 C182.5 335.8 180.7 335.5 179.5 335 C178.3 334.5 177.1 332.5 176.6 332" fill="none" stroke="#161616" stroke-width="3.1" stroke-linejoin="round" stroke-linecap="round" />
<path d="M165.7 319.4 C165.5 318.2 164.6 314.1 164.8 312 C165 309.9 165.7 308.2 166.7 307 C167.7 305.8 169.4 304.9 171 304.8 C172.6 304.7 174.6 305.1 176.5 306.2 C178.4 307.3 180.8 309.4 182.5 311.5 C184.2 313.6 186 316.2 187 318.5 C188 320.8 188.5 323.3 188.6 325.5 C188.7 327.7 188.3 329.9 187.5 331.5 C186.7 333.1 185.1 334.6 183.8 335.2 C182.5 335.8 180.7 335.5 179.5 335 C178.3 334.5 177.1 332.5 176.6 332" fill="none" stroke="#fff" stroke-width="1" stroke-linejoin="round" stroke-linecap="round" />
<path d="M176.6 332 L177 322.6" fill="none" stroke="#161616" stroke-width="3.1" stroke-linejoin="round" stroke-linecap="round" />
<path d="M176.6 332 L177 322.6" fill="none" stroke="#fff" stroke-width="1" stroke-linejoin="round" stroke-linecap="round" />
<!-- bearings -->
<path d="M784.3 287 L781.6 288.2 L778.7 289 L775.6 289.2 L772.2 288.9 L768.8 288.1 L765.3 286.8 L761.7 285 L758.2 282.7 L754.7 280 L751.2 277 L747.9 273.5 L744.8 269.8 L741.9 265.7 L739.3 261.5 L737 257.1 L734.9 252.6 L733.2 248 L731.9 243.4 L730.9 238.9 L730.4 234.6 L730.2 230.4 L730.4 226.4 L731 222.7 L732.1 219.3 L733.5 216.3 L735.2 213.7 L737.3 211.5 L739.7 209.8 L753.1 202 L755.8 200.8 L758.7 200.1 L761.9 199.9 L765.2 200.2 L768.6 201 L772.1 202.3 L775.7 204.1 L779.3 206.3 L782.8 209 L786.2 212.1 L789.5 215.5 L792.6 219.3 L795.5 223.3 L798.1 227.6 L800.5 232 L802.5 236.5 L804.2 241 L805.5 245.6 L806.5 250.1 L807.1 254.5 L807.2 258.7 L807 262.7 L806.4 266.4 L805.4 269.8 L804 272.8 L802.2 275.4 L800.1 277.6 L797.7 279.3 Z" fill="#fff" stroke="#161616" stroke-width="1.4" stroke-linejoin="round" stroke-linecap="round" />
<ellipse cx="762" cy="248.4" rx="26.2" ry="44.6" transform="rotate(-30 762 248.4)" fill="#fff" stroke="#161616" stroke-width="1.4" />
<path d="M747.5 207 L750.3 206.9 L753.1 207.2 L756.1 207.9 L759.1 209 L762.2 210.4 L765.3 212.2 L768.3 214.3 L771.3 216.7 L774.2 219.4 L777.1 222.4 L779.8 225.6 L782.3 229 L784.7 232.6 L786.8 236.3 L788.8 240.1 L790.5 244 L791.9 248 L793.1 251.9 L794 255.8 L794.6 259.6 L795 263.3 L795 266.9 L794.7 270.3 L794.2 273.4 L793.3 276.4 L792.2 279 L790.8 281.4 L789.1 283.5" fill="none" stroke="#161616" stroke-width="0.8" stroke-linejoin="round" stroke-linecap="round" />
<ellipse cx="762" cy="248.4" rx="21" ry="35.7" transform="rotate(-30 762 248.4)" fill="#fff" stroke="#161616" stroke-width="1.4" />
<ellipse cx="762.8" cy="248" rx="19.4" ry="33" transform="rotate(-30 762.8 248)" fill="none" stroke="#161616" stroke-width="0.8" />
<ellipse cx="780.4" cy="243.6" rx="2.6" ry="4.6" transform="rotate(-30 780.4 243.6)" fill="#fff" stroke="#161616" stroke-width="0.9" />
<ellipse cx="783.9" cy="261.6" rx="2.6" ry="4.6" transform="rotate(-30 783.9 261.6)" fill="#fff" stroke="#161616" stroke-width="0.9" />
<ellipse cx="777.8" cy="273" rx="2.6" ry="4.6" transform="rotate(-30 777.8 273)" fill="#fff" stroke="#161616" stroke-width="0.9" />
<ellipse cx="764.8" cy="272.6" rx="2.6" ry="4.6" transform="rotate(-30 764.8 272.6)" fill="#fff" stroke="#161616" stroke-width="0.9" />
<ellipse cx="751.1" cy="260.5" rx="2.6" ry="4.6" transform="rotate(-30 751.1 260.5)" fill="#fff" stroke="#161616" stroke-width="0.9" />
<ellipse cx="743" cy="242.5" rx="2.6" ry="4.6" transform="rotate(-30 743 242.5)" fill="#fff" stroke="#161616" stroke-width="0.9" />
<ellipse cx="744.4" cy="226.9" rx="2.6" ry="4.6" transform="rotate(-30 744.4 226.9)" fill="#fff" stroke="#161616" stroke-width="0.9" />
<ellipse cx="754.6" cy="221" rx="2.6" ry="4.6" transform="rotate(-30 754.6 221)" fill="#fff" stroke="#161616" stroke-width="0.9" />
<ellipse cx="768.8" cy="227.6" rx="2.6" ry="4.6" transform="rotate(-30 768.8 227.6)" fill="#fff" stroke="#161616" stroke-width="0.9" />
<ellipse cx="762" cy="248.4" rx="15.2" ry="25.9" transform="rotate(-30 762 248.4)" fill="#fff" stroke="#161616" stroke-width="1.4" />
<ellipse cx="762" cy="248.4" rx="12.1" ry="20.5" transform="rotate(-30 762 248.4)" fill="#fff" stroke="#161616" stroke-width="1.4" />
<path d="M771.3 265.4 L770 265.2 L768.8 265 L767.5 264.6 L766.2 264 L764.8 263.3 L763.5 262.5 L762.2 261.5 L760.9 260.4 L759.7 259.2 L758.5 257.9 L757.3 256.5 L756.3 255 L755.3 253.4 L754.3 251.8 L753.5 250.2 L752.7 248.5 L752.1 246.8 L751.6 245.1 L751.1 243.5 L750.8 241.8 L750.6 240.2 L750.6 238.6 L750.6 237.1 L750.8 235.7 L751.1 234.4 L751.5 233.1 L752 232 L752.6 231" fill="none" stroke="#161616" stroke-width="0.9" stroke-linejoin="round" stroke-linecap="round" />
<path d="M739.7 312 L737 313.2 L734.1 314 L731 314.2 L727.6 313.9 L724.2 313.1 L720.7 311.8 L717.1 310 L713.6 307.7 L710.1 305 L706.6 302 L703.3 298.5 L700.2 294.8 L697.3 290.7 L694.7 286.5 L692.4 282.1 L690.3 277.6 L688.6 273 L687.3 268.4 L686.3 263.9 L685.8 259.6 L685.6 255.4 L685.8 251.4 L686.4 247.7 L687.5 244.3 L688.9 241.3 L690.6 238.7 L692.7 236.5 L695.1 234.8 L708.5 227 L711.2 225.8 L714.1 225.1 L717.3 224.9 L720.6 225.2 L724 226 L727.5 227.3 L731.1 229.1 L734.7 231.3 L738.2 234 L741.6 237.1 L744.9 240.5 L748 244.3 L750.9 248.3 L753.5 252.5 L755.9 257 L757.9 261.5 L759.6 266 L760.9 270.6 L761.9 275.1 L762.5 279.5 L762.6 283.7 L762.4 287.7 L761.8 291.4 L760.8 294.8 L759.4 297.8 L757.6 300.4 L755.5 302.6 L753.1 304.3 Z" fill="#fff" stroke="#161616" stroke-width="1.4" stroke-linejoin="round" stroke-linecap="round" />
<ellipse cx="717.4" cy="273.4" rx="26.2" ry="44.6" transform="rotate(-30 717.4 273.4)" fill="#fff" stroke="#161616" stroke-width="1.4" />
<path d="M702.9 232 L705.7 231.9 L708.5 232.2 L711.5 232.9 L714.5 234 L717.6 235.4 L720.7 237.2 L723.7 239.3 L726.7 241.7 L729.6 244.4 L732.5 247.4 L735.2 250.6 L737.7 254 L740.1 257.6 L742.2 261.3 L744.2 265.1 L745.9 269 L747.3 273 L748.5 276.9 L749.4 280.8 L750 284.6 L750.4 288.3 L750.4 291.9 L750.1 295.3 L749.6 298.4 L748.7 301.4 L747.6 304 L746.2 306.4 L744.5 308.5" fill="none" stroke="#161616" stroke-width="0.8" stroke-linejoin="round" stroke-linecap="round" />
<ellipse cx="717.4" cy="273.4" rx="21" ry="35.7" transform="rotate(-30 717.4 273.4)" fill="#fff" stroke="#161616" stroke-width="1.4" />
<ellipse cx="718.2" cy="273" rx="19.4" ry="33" transform="rotate(-30 718.2 273)" fill="none" stroke="#161616" stroke-width="0.8" />
<ellipse cx="735.8" cy="268.6" rx="2.6" ry="4.6" transform="rotate(-30 735.8 268.6)" fill="#fff" stroke="#161616" stroke-width="0.9" />
<ellipse cx="739.3" cy="286.6" rx="2.6" ry="4.6" transform="rotate(-30 739.3 286.6)" fill="#fff" stroke="#161616" stroke-width="0.9" />
<ellipse cx="733.2" cy="298" rx="2.6" ry="4.6" transform="rotate(-30 733.2 298)" fill="#fff" stroke="#161616" stroke-width="0.9" />
<ellipse cx="720.2" cy="297.6" rx="2.6" ry="4.6" transform="rotate(-30 720.2 297.6)" fill="#fff" stroke="#161616" stroke-width="0.9" />
<ellipse cx="706.5" cy="285.5" rx="2.6" ry="4.6" transform="rotate(-30 706.5 285.5)" fill="#fff" stroke="#161616" stroke-width="0.9" />
<ellipse cx="698.4" cy="267.5" rx="2.6" ry="4.6" transform="rotate(-30 698.4 267.5)" fill="#fff" stroke="#161616" stroke-width="0.9" />
<ellipse cx="699.8" cy="251.9" rx="2.6" ry="4.6" transform="rotate(-30 699.8 251.9)" fill="#fff" stroke="#161616" stroke-width="0.9" />
<ellipse cx="710" cy="246" rx="2.6" ry="4.6" transform="rotate(-30 710 246)" fill="#fff" stroke="#161616" stroke-width="0.9" />
<ellipse cx="724.2" cy="252.6" rx="2.6" ry="4.6" transform="rotate(-30 724.2 252.6)" fill="#fff" stroke="#161616" stroke-width="0.9" />
<ellipse cx="717.4" cy="273.4" rx="15.2" ry="25.9" transform="rotate(-30 717.4 273.4)" fill="#fff" stroke="#161616" stroke-width="1.4" />
<ellipse cx="717.4" cy="273.4" rx="12.1" ry="20.5" transform="rotate(-30 717.4 273.4)" fill="#fff" stroke="#161616" stroke-width="1.4" />
<path d="M726.7 290.4 L725.4 290.2 L724.2 290 L722.9 289.6 L721.6 289 L720.2 288.3 L718.9 287.5 L717.6 286.5 L716.3 285.4 L715.1 284.2 L713.9 282.9 L712.7 281.5 L711.7 280 L710.7 278.4 L709.7 276.8 L708.9 275.2 L708.1 273.5 L707.5 271.8 L707 270.1 L706.5 268.5 L706.2 266.8 L706 265.2 L706 263.6 L706 262.1 L706.2 260.7 L706.5 259.4 L706.9 258.1 L707.4 257 L708 256" fill="none" stroke="#161616" stroke-width="0.9" stroke-linejoin="round" stroke-linecap="round" />
<!-- crank_half_6 -->
<path d="M641.6 347.3 L640.5 347.7 L639.4 348 L638.1 348.1 L636.8 348 L635.4 347.6 L634 347.1 L632.6 346.3 L631.1 345.4 L629.7 344.3 L628.3 343 L627 341.6 L625.7 340.1 L624.6 338.4 L623.5 336.7 L622.5 334.9 L621.7 333.1 L621 331.2 L620.4 329.3 L620 327.5 L619.8 325.7 L619.7 324 L619.8 322.4 L620 320.9 L620.4 319.6 L620.9 318.3 L621.6 317.3 L622.4 316.4 L623.4 315.7 L653.7 298.5 L654.8 298.1 L655.9 297.8 L657.2 297.7 L658.5 297.8 L659.9 298.2 L661.3 298.7 L662.7 299.5 L664.2 300.4 L665.6 301.5 L667 302.8 L668.3 304.2 L669.6 305.7 L670.7 307.4 L671.8 309.1 L672.8 310.9 L673.6 312.7 L674.3 314.6 L674.9 316.5 L675.3 318.3 L675.5 320.1 L675.6 321.8 L675.5 323.4 L675.3 324.9 L674.9 326.2 L674.4 327.5 L673.7 328.5 L672.9 329.4 L671.9 330.1 Z" fill="#fff" stroke="#161616" stroke-width="1.4" stroke-linejoin="round" stroke-linecap="round" />
<path d="M626.6 310.3 L628 310.1 L629.4 310.2 L630.8 310.4 L632.3 310.9 L633.9 311.5 L635.4 312.3 L637 313.4 L638.5 314.6 L640 316 L641.5 317.5 L642.9 319.1 L644.2 320.9 L645.4 322.8 L646.6 324.7 L647.6 326.7 L648.4 328.7 L649.2 330.7 L649.7 332.8 L650.2 334.8 L650.4 336.7 L650.6 338.6 L650.5 340.3 L650.3 342 L649.9 343.5 L649.4 344.9 L648.7 346.1 L647.9 347.2 L647 348" fill="none" stroke="#161616" stroke-width="0.9" stroke-linejoin="round" stroke-linecap="round" />
<path d="M629.2 308.8 L630.6 308.6 L632 308.7 L633.4 308.9 L634.9 309.4 L636.5 310 L638 310.8 L639.6 311.9 L641.1 313.1 L642.6 314.5 L644.1 316 L645.5 317.6 L646.8 319.4 L648 321.3 L649.2 323.2 L650.2 325.2 L651 327.2 L651.8 329.2 L652.3 331.3 L652.8 333.3 L653 335.2 L653.1 337.1 L653.1 338.8 L652.9 340.5 L652.5 342 L652 343.4 L651.3 344.6 L650.5 345.7 L649.6 346.5" fill="none" stroke="#161616" stroke-width="0.9" stroke-linejoin="round" stroke-linecap="round" />
<path d="M621.5 364.5 L620.2 365.1 L618.7 365.5 L617.1 365.5 L615.5 365.4 L613.7 364.9 L612 364.2 L610.2 363.3 L608.4 362.1 L606.6 360.7 L604.8 359.1 L603.2 357.3 L601.6 355.4 L600.1 353.3 L598.7 351.1 L597.5 348.8 L596.5 346.5 L595.6 344.2 L594.9 341.8 L594.3 339.5 L594 337.3 L593.9 335.1 L594 333.1 L594.3 331.2 L594.8 329.5 L595.4 327.9 L596.3 326.6 L597.3 325.5 L598.5 324.7 L621 311.6 L622.3 311 L623.8 310.6 L625.4 310.6 L627 310.7 L628.8 311.2 L630.5 311.9 L632.3 312.8 L634.1 314 L635.9 315.4 L637.7 317 L639.3 318.8 L640.9 320.7 L642.4 322.8 L643.8 325 L645 327.3 L646 329.6 L646.9 331.9 L647.6 334.3 L648.2 336.6 L648.5 338.8 L648.6 341 L648.5 343 L648.2 344.9 L647.7 346.6 L647.1 348.2 L646.2 349.5 L645.2 350.6 L644 351.4 Z" fill="#fff" stroke="#161616" stroke-width="1.4" stroke-linejoin="round" stroke-linecap="round" />
<path d="M621 311.6 L622.3 311 L623.8 310.6 L625.4 310.6 L627 310.7 L628.8 311.2 L630.5 311.9 L632.3 312.8 L634.1 314 L635.9 315.4 L637.7 317 L639.3 318.8 L640.9 320.7 L642.4 322.8 L643.8 325 L645 327.3 L646 329.6 L646.9 331.9 L647.6 334.3 L648.2 336.6 L648.5 338.8 L648.6 341 L648.5 343 L648.2 344.9 L647.7 346.6 L647.1 348.2 L646.2 349.5 L645.2 350.6 L644 351.4" fill="none" stroke="#161616" stroke-width="1.4" stroke-linejoin="round" stroke-linecap="round" />
<path d="M616.7 317.7 L618.1 318.2 L619.6 318.8 L621.1 319.7 L622.6 320.6 L624 321.8 L625.5 323 L626.9 324.4 L628.2 325.9 L629.5 327.6 L630.7 329.3 L631.9 331.1 L632.9 332.9 L633.9 334.8 L634.7 336.7 L635.4 338.6 L636 340.6 L636.5 342.5 L636.8 344.4 L637 346.2 L637.1 347.9 L637 349.6 L636.8 351.2 L636.5 352.6 L636 354 L635.4 355.2 L634.7 356.2 L633.8 357.1 L632.9 357.9" fill="none" stroke="#161616" stroke-width="0.8" stroke-linejoin="round" stroke-linecap="round" />
<path d="M535.9 313.4 C537.3 309.7 539.5 303.8 543.4 299.7 C547.3 295.6 554.3 291 559.5 288.5 C564.7 286 569 283.8 574.4 284.8 C579.8 285.8 587.2 290.1 591.8 294.7 C596.3 299.2 599 307.6 601.7 312.1 C604.4 316.7 604.6 315.4 607.9 322 C611.2 328.6 616.8 341.4 621.5 351.8 C626.2 362.2 632.9 375.4 636.4 384.1 C639.9 392.8 641.8 397.8 642.6 404 C643.4 410.2 643.7 415.9 641.4 421.3 C639.1 426.7 634.4 432.1 629 436.2 C623.6 440.3 616.6 443.9 609.1 446.2 C601.6 448.5 592.6 450.7 584.3 449.9 C576 449.1 567.8 446.4 559.5 441.2 C551.2 436 542.2 427.5 534.7 418.8 C527.2 410.1 519.6 398.2 514.8 389.1 C510 380 507.6 371.2 506.1 364.2 C504.7 357.2 504.7 351 506.1 346.9 C507.6 342.8 511.3 341.9 514.8 339.4 C518.3 336.9 523.9 334.9 527.2 332 C530.5 329.1 533.2 325.1 534.7 322 C536.2 318.9 534.5 317.1 535.9 313.4 Z" fill="#fff" stroke="#161616" stroke-width="1.4" stroke-linejoin="round" stroke-linecap="round" />
<path d="M572 290 C574.3 291.1 582.2 293.2 586 296.5 C589.8 299.8 592.6 305.1 595 310 C597.4 314.9 598.7 319.3 600.5 326 C602.3 332.7 603.9 342.3 606 350 C608.1 357.7 610.8 365 613 372 C615.2 379 617.8 385.7 619 392 C620.2 398.3 619.9 404.5 620 410 C620.1 415.5 619.7 420.2 619.5 425 C619.3 429.8 619.1 436.2 619 438.5" fill="none" stroke="#161616" stroke-width="0.9" stroke-linejoin="round" stroke-linecap="round" />
<path d="M601 322 C602.5 325.8 606.5 337 610 345 C613.5 353 618.5 362.2 622 370 C625.5 377.8 629.5 388.3 631 392" fill="none" stroke="#161616" stroke-width="0.8" stroke-linejoin="round" stroke-linecap="round" />
<path d="M607 330 C608.8 334.3 614 345.7 618 356 C622 366.3 628.8 386 631 392" fill="none" stroke="#161616" stroke-width="0.8" stroke-linejoin="round" stroke-linecap="round" />
<path d="M558 290 C560 290.5 566.3 291.3 570 293 C573.7 294.7 578.3 298.8 580 300" fill="none" stroke="#161616" stroke-width="0.8" stroke-linejoin="round" stroke-linecap="round" />
<path d="M506.5 347 C508.1 346.3 512.6 344.7 516 343 C519.4 341.3 524.2 339.5 527 337 C529.8 334.5 532 329.5 533 328" fill="none" stroke="#161616" stroke-width="0.8" stroke-linejoin="round" stroke-linecap="round" />
<path d="M520 337 C521 336 524.2 333.5 526 331 C527.8 328.5 530.2 323.5 531 322" fill="none" stroke="#161616" stroke-width="0.8" stroke-linejoin="round" stroke-linecap="round" />
<path d="M536.5 314 C537.2 310.2 538.4 305.3 541 302 C543.6 298.7 547.8 295.4 552 294 C556.2 292.6 561.7 292.3 566 293.5 C570.3 294.7 574.8 297.4 578 301 C581.2 304.6 583.6 309.8 585.5 315 C587.4 320.2 588.8 326.5 589.5 332 C590.2 337.5 590.2 343.3 589.5 348 C588.8 352.7 587.1 357.2 585 360 C582.9 362.8 580.2 364.3 577 364.5 C573.8 364.7 570.3 363.2 566 361 C561.7 358.8 555.2 354.8 551 351 C546.8 347.2 543.4 342.3 541 338 C538.6 333.7 537.2 329 536.5 325 C535.8 321 535.8 317.8 536.5 314 Z" fill="#fff" stroke="#161616" stroke-width="1.4" stroke-linejoin="round" stroke-linecap="round" />
<path d="M543 303 C545.2 302.1 551.8 298.2 556 297.5 C560.2 296.8 564.3 297.2 568 299 C571.7 300.8 575.3 304.2 578 308 C580.7 311.8 582.6 316.7 584 322 C585.4 327.3 586.5 334.5 586.5 340 C586.5 345.5 585.4 351.5 584 355 C582.6 358.5 579 360 578 361" fill="none" stroke="#161616" stroke-width="0.8" stroke-linejoin="round" stroke-linecap="round" />
<ellipse cx="562.3" cy="334" rx="13.2" ry="23.4" transform="rotate(-30 562.3 334)" fill="#fff" stroke="#161616" stroke-width="1.4" />
<ellipse cx="563.5" cy="333.4" rx="11" ry="20.8" transform="rotate(-30 563.5 333.4)" fill="none" stroke="#161616" stroke-width="0.9" />
<path d="M559.8 314.4 L560.9 314.3 L562.1 314.4 L563.3 314.7 L564.6 315.2 L566 315.8 L567.3 316.7 L568.7 317.7 L570 318.9 L571.3 320.2 L572.6 321.7 L573.8 323.2 L574.9 324.9 L575.9 326.6 L576.9 328.4 L577.7 330.2 L578.4 332 L579 333.8 L579.4 335.6 L579.7 337.3 L579.9 339 L579.9 340.5 L579.7 342 L579.4 343.3 L579 344.4 L578.4 345.4 L577.7 346.3 L576.9 346.9 L576 347.4" fill="none" stroke="#161616" stroke-width="0.9" stroke-linejoin="round" stroke-linecap="round" />
<!-- crank_pin_7 -->
<path d="M392.5 458.9 L391.1 459.5 L389.7 459.8 L388.1 459.9 L386.4 459.7 L384.6 459.3 L382.8 458.6 L381 457.6 L379.2 456.4 L377.3 455 L375.6 453.3 L373.9 451.5 L372.3 449.5 L370.8 447.4 L369.4 445.2 L368.1 442.9 L367.1 440.5 L366.1 438.1 L365.4 435.8 L364.9 433.4 L364.6 431.1 L364.4 428.9 L364.5 426.9 L364.8 425 L365.3 423.2 L366 421.7 L366.8 420.3 L367.9 419.2 L369.1 418.3 L438.5 380.2 L439.8 379.7 L441.2 379.3 L442.7 379.3 L444.2 379.4 L445.9 379.9 L447.6 380.5 L449.3 381.4 L451 382.6 L452.7 383.9 L454.4 385.4 L456 387.2 L457.5 389 L458.9 391 L460.2 393.1 L461.4 395.3 L462.4 397.5 L463.3 399.7 L463.9 402 L464.4 404.2 L464.8 406.3 L464.9 408.4 L464.8 410.3 L464.5 412.1 L464.1 413.8 L463.4 415.2 L462.6 416.5 L461.6 417.5 L460.5 418.4 Z" fill="#fff" stroke="#161616" stroke-width="1.4" stroke-linejoin="round" stroke-linecap="round" />
<ellipse cx="380.8" cy="438.6" rx="13.2" ry="23.4" transform="rotate(-30 380.8 438.6)" fill="#fff" stroke="#161616" stroke-width="1.4" />
<ellipse cx="380.8" cy="438.6" rx="7.6" ry="13.6" transform="rotate(-30 380.8 438.6)" fill="none" stroke="#161616" stroke-width="1.1" />
<path d="M386.2 449.9 L385.4 449.7 L384.7 449.4 L383.9 449.1 L383.1 448.7 L382.3 448.2 L381.5 447.6 L380.7 447 L379.9 446.2 L379.2 445.5 L378.5 444.6 L377.8 443.8 L377.1 442.8 L376.5 441.9 L375.9 440.9 L375.4 439.9 L374.9 438.8 L374.5 437.8 L374.2 436.8 L373.9 435.7 L373.6 434.7 L373.5 433.7 L373.4 432.7 L373.3 431.8 L373.4 430.9 L373.5 430 L373.6 429.2 L373.9 428.5 L374.2 427.8" fill="none" stroke="#161616" stroke-width="0.8" stroke-linejoin="round" stroke-linecap="round" />
<!-- con_rod_8 -->
<path d="M319 353.5 C317 358.2 317 371.4 316 380 C315 388.6 313.9 396.4 313 405 C312.1 413.6 312.4 425.5 310.7 431.8 C309 438.1 305.4 439.1 303 443 C300.6 446.9 297.9 451 296.5 455.5 C295.1 460 294.7 464.9 294.8 470 C294.9 475.1 295.5 481.2 297 486 C298.5 490.8 301.2 495.5 304 499 C306.8 502.5 310.7 505.1 314 507 C317.3 508.9 320.3 510.5 324 510.5 C327.7 510.5 331.7 508.7 336 507 C340.3 505.3 346.2 502.5 350 500.5 C353.8 498.5 356.7 497.4 359 495 C361.3 492.6 362.8 490.2 364 486 C365.2 481.8 366.5 474.7 366.3 469.7 C366.1 464.7 364.4 459.9 363 456 C361.6 452.1 360 449.8 358 446 C356 442.2 353 436.9 351 433 C349 429.1 347.4 427.9 346.2 422.4 C344.9 416.9 344.1 406.3 343.5 400 C342.9 393.7 342.4 390.4 342.6 384.6 C342.9 378.8 343.6 372.3 345 365 C346.4 357.7 351.8 344.1 351 340.8 C350.2 337.5 343.8 343.1 340 345 C336.2 346.9 331.5 350.6 328 352 C324.5 353.4 321 348.8 319 353.5 Z" fill="#fff" stroke="#161616" stroke-width="1.4" stroke-linejoin="round" stroke-linecap="round" />
<path d="M346 345 C344.8 348.8 340.5 360.5 339 368 C337.5 375.5 337 381.3 337 390 C337 398.7 337.7 412 339 420 C340.3 428 342.7 432.2 345 438 C347.3 443.8 351 449.7 353 455 C355 460.3 356.5 464.8 357 470 C357.5 475.2 357 481.3 356 486 C355 490.7 351.8 496 351 498" fill="none" stroke="#161616" stroke-width="0.9" stroke-linejoin="round" stroke-linecap="round" />
<path d="M323 358 C322.5 362.5 321 376.3 320 385 C319 393.7 317.8 402.2 317 410 C316.2 417.8 316 426.3 315 432 C314 437.7 311.7 442 311 444" fill="none" stroke="#161616" stroke-width="0.8" stroke-linejoin="round" stroke-linecap="round" />
<path d="M329 356 C328.5 360.8 326.8 376 326 385 C325.2 394 324.5 402.2 324 410 C323.5 417.8 322.8 426.2 323 432 C323.2 437.8 324.7 442.8 325 445" fill="none" stroke="#161616" stroke-width="0.8" stroke-linejoin="round" stroke-linecap="round" stroke-dasharray="9 2"/>
<path d="M335 352 C334.5 356.7 332.7 370.3 332 380 C331.3 389.7 330.8 400.7 331 410 C331.2 419.3 331.5 429 333 436 C334.5 443 338.8 449.3 340 452" fill="none" stroke="#161616" stroke-width="0.8" stroke-linejoin="round" stroke-linecap="round" />
<ellipse cx="319.3" cy="473.4" rx="19.6" ry="32.7" transform="rotate(-30 319.3 473.4)" fill="#fff" stroke="#161616" stroke-width="1.4" />
<ellipse cx="319.3" cy="473.4" rx="16.9" ry="28.8" transform="rotate(-30 319.3 473.4)" fill="#fff" stroke="#161616" stroke-width="0.9" />
<path d="M347.1 490.5 L345.4 491 L343.5 491.2 L341.6 491.1 L339.6 490.8 L337.5 490.2 L335.4 489.3 L333.2 488.1 L331.1 486.7 L329 485.1 L327 483.2 L325 481.1 L323.2 478.9 L321.4 476.5 L319.8 474 L318.3 471.4 L317.1 468.7 L316 466 L315 463.2 L314.3 460.5 L313.9 457.8 L313.6 455.2 L313.5 452.7 L313.7 450.4 L314.1 448.2 L314.7 446.2 L315.5 444.3 L316.5 442.7 L317.7 441.4" fill="none" stroke="#161616" stroke-width="0.9" stroke-linejoin="round" stroke-linecap="round" />
<path d="M345.1 489.7 L343.4 489.5 L341.7 489.2 L339.8 488.6 L338 487.8 L336.2 486.8 L334.3 485.6 L332.5 484.3 L330.7 482.7 L328.9 481 L327.3 479.2 L325.6 477.2 L324.1 475.2 L322.7 473 L321.4 470.7 L320.2 468.4 L319.2 466.1 L318.3 463.7 L317.5 461.3 L316.9 459 L316.5 456.6 L316.2 454.4 L316.1 452.2 L316.2 450.1 L316.4 448.1 L316.8 446.2 L317.4 444.5 L318.1 442.9 L318.9 441.5" fill="none" stroke="#161616" stroke-width="0.8" stroke-linejoin="round" stroke-linecap="round" />
<line x1="300.1" y1="454.4" x2="297.3" y2="451.9" stroke="#161616" stroke-width="1.6"/>
<line x1="313.4" y1="447.4" x2="312.8" y2="443.8" stroke="#161616" stroke-width="1.6"/>
<line x1="332.6" y1="462.8" x2="334.8" y2="461.2" stroke="#161616" stroke-width="1.6"/>
<line x1="338.9" y1="491.4" x2="341.7" y2="493.8" stroke="#161616" stroke-width="1.6"/>
<line x1="325.2" y1="499.4" x2="325.8" y2="503" stroke="#161616" stroke-width="1.6"/>
<line x1="304.7" y1="481.8" x2="302.3" y2="483.2" stroke="#161616" stroke-width="1.6"/>
<path d="M337.7 346.4 L337.1 348.2 L336.2 349.8 L335.1 351.1 L333.8 352.1 L332.2 352.8 L330.5 353.1 L328.7 353.1 L326.8 352.7 L324.8 352 L322.8 350.9 L320.7 349.6 L318.7 347.9 L316.8 346 L314.9 343.9 L313.2 341.6 L311.7 339.1 L310.3 336.5 L309.2 333.9 L308.3 331.2 L307.6 328.6 L307.2 326 L307 323.6 L307.1 321.3 L307.5 319.2 L308.1 317.4 L309 315.8 L310.1 314.5 L311.5 313.5 L330.1 302.7 L331.1 302.2 L332.3 301.9 L333.5 301.7 L334.8 301.8 L336.2 302 L337.6 302.3 L339 302.9 L340.5 303.6 L341.9 304.5 L343.4 305.5 L344.8 306.7 L346.2 308 L347.6 309.4 L348.9 311 L350.1 312.6 L351.3 314.3 L352.3 316.1 L353.3 318 L354.2 319.8 L354.9 321.7 L355.6 323.6 L356.1 325.5 L356.5 327.4 L356.7 329.2 L356.8 330.9 L356.8 332.6 L356.6 334.2 L356.3 335.6 Z" fill="#fff" stroke="#161616" stroke-width="1.4" stroke-linejoin="round" stroke-linecap="round" />
<ellipse cx="322.6" cy="332.8" rx="12.6" ry="22.3" transform="rotate(-30 322.6 332.8)" fill="#fff" stroke="#161616" stroke-width="1.4" />
<ellipse cx="323" cy="332.8" rx="9.3" ry="16.9" transform="rotate(-30 323 332.8)" fill="#fff" stroke="#161616" stroke-width="1.4" />
<path d="M329.5 346.7 L328.5 346.5 L327.6 346.1 L326.6 345.7 L325.6 345.2 L324.6 344.5 L323.7 343.8 L322.7 343 L321.7 342.1 L320.8 341.1 L319.9 340.1 L319.1 339 L318.2 337.9 L317.5 336.7 L316.8 335.4 L316.1 334.2 L315.5 332.9 L315 331.6 L314.6 330.3 L314.2 329 L313.9 327.7 L313.7 326.5 L313.5 325.3 L313.5 324.1 L313.5 323 L313.6 321.9 L313.8 320.9 L314.1 320 L314.5 319.2" fill="none" stroke="#161616" stroke-width="0.8" stroke-linejoin="round" stroke-linecap="round" />
<ellipse cx="343.6" cy="325" rx="2.6" ry="3.6" transform="rotate(-30 343.6 325)" fill="#fff" stroke="#161616" stroke-width="1" />
<path d="M312.5 349 C313.2 350.2 315.9 353.3 317 356 C318.1 358.7 318.7 363.5 319 365" fill="none" stroke="#161616" stroke-width="0.9" stroke-linejoin="round" stroke-linecap="round" />
<!-- needle_bearing_9 -->
<path d="M279.2 529.8 L277.6 530.6 L275.7 531 L273.7 531.1 L271.6 530.8 L269.4 530.2 L267.1 529.3 L264.8 528 L262.4 526.5 L260.2 524.7 L257.9 522.6 L255.8 520.2 L253.7 517.7 L251.8 515 L250 512.1 L248.4 509.2 L247 506.2 L245.9 503.1 L244.9 500.1 L244.2 497.1 L243.8 494.2 L243.6 491.4 L243.7 488.8 L244 486.4 L244.6 484.1 L245.5 482.2 L246.5 480.5 L247.8 479.1 L249.4 478 L270.6 465.8 L272.3 465 L274.1 464.6 L276.1 464.5 L278.2 464.7 L280.5 465.3 L282.7 466.3 L285.1 467.5 L287.4 469.1 L289.7 470.9 L291.9 473 L294.1 475.3 L296.1 477.8 L298 480.6 L299.8 483.4 L301.4 486.4 L302.8 489.4 L303.9 492.4 L304.9 495.5 L305.6 498.4 L306 501.3 L306.2 504.1 L306.1 506.8 L305.8 509.2 L305.2 511.4 L304.3 513.4 L303.3 515.1 L302 516.5 L300.5 517.5 Z" fill="#fff" stroke="#161616" stroke-width="1.4" stroke-linejoin="round" stroke-linecap="round" />
<ellipse cx="264.3" cy="503.9" rx="16.5" ry="29.9" transform="rotate(-30 264.3 503.9)" fill="#fff" stroke="#161616" stroke-width="1.4" />
<line x1="253.1" y1="475.9" x2="268.3" y2="467.1" stroke="#161616" stroke-width="1"/>
<line x1="254.9" y1="475.3" x2="270" y2="466.5" stroke="#161616" stroke-width="1"/>
<line x1="258.8" y1="475" x2="273.9" y2="466.3" stroke="#161616" stroke-width="1"/>
<line x1="260.9" y1="475.4" x2="276.1" y2="466.7" stroke="#161616" stroke-width="1"/>
<line x1="265.4" y1="477.2" x2="280.5" y2="468.4" stroke="#161616" stroke-width="1"/>
<line x1="267.7" y1="478.5" x2="282.8" y2="469.8" stroke="#161616" stroke-width="1"/>
<line x1="272.2" y1="482" x2="287.3" y2="473.2" stroke="#161616" stroke-width="1"/>
<line x1="274.4" y1="484.2" x2="289.5" y2="475.4" stroke="#161616" stroke-width="1"/>
<line x1="278.4" y1="489" x2="293.6" y2="480.3" stroke="#161616" stroke-width="1"/>
<line x1="280.3" y1="491.8" x2="295.5" y2="483" stroke="#161616" stroke-width="1"/>
<line x1="283.5" y1="497.5" x2="298.7" y2="488.7" stroke="#161616" stroke-width="1"/>
<line x1="284.9" y1="500.5" x2="300" y2="491.8" stroke="#161616" stroke-width="1"/>
<line x1="286.8" y1="506.5" x2="302" y2="497.7" stroke="#161616" stroke-width="1"/>
<line x1="287.5" y1="509.4" x2="302.6" y2="500.7" stroke="#161616" stroke-width="1"/>
<line x1="288" y1="515" x2="303.2" y2="506.2" stroke="#161616" stroke-width="1"/>
<line x1="287.9" y1="517.6" x2="303.1" y2="508.8" stroke="#161616" stroke-width="1"/>
<line x1="286.9" y1="522.1" x2="302.1" y2="513.3" stroke="#161616" stroke-width="1"/>
<line x1="286.1" y1="524" x2="301.2" y2="515.3" stroke="#161616" stroke-width="1"/>
<line x1="283.7" y1="527" x2="298.9" y2="518.3" stroke="#161616" stroke-width="1"/>
<line x1="282.2" y1="528.1" x2="297.4" y2="519.3" stroke="#161616" stroke-width="1"/>
<path d="M252.4 476.3 L254.1 475.5 L255.9 475.1 L257.9 475 L260.1 475.2 L262.3 475.8 L264.6 476.8 L266.9 478 L269.2 479.6 L271.5 481.4 L273.7 483.5 L275.9 485.8 L277.9 488.3 L279.9 491.1 L281.6 493.9 L283.2 496.9 L284.6 499.9 L285.8 502.9 L286.7 506 L287.4 508.9 L287.8 511.8 L288 514.6 L287.9 517.3 L287.6 519.7 L287 521.9 L286.2 523.9 L285.1 525.6 L283.8 527 L282.3 528" fill="none" stroke="#161616" stroke-width="0.9" stroke-linejoin="round" stroke-linecap="round" />
<path d="M267.5 467.5 L269.2 466.7 L271.1 466.3 L273.1 466.2 L275.2 466.5 L277.4 467.1 L279.7 468 L282 469.3 L284.3 470.8 L286.6 472.6 L288.9 474.7 L291 477.1 L293.1 479.6 L295 482.3 L296.8 485.1 L298.4 488.1 L299.7 491.1 L300.9 494.2 L301.8 497.2 L302.5 500.2 L303 503.1 L303.2 505.9 L303.1 508.5 L302.7 510.9 L302.2 513.2 L301.3 515.1 L300.2 516.8 L298.9 518.2 L297.4 519.3" fill="none" stroke="#161616" stroke-width="0.9" stroke-linejoin="round" stroke-linecap="round" />
<ellipse cx="264.3" cy="503.9" rx="16.5" ry="29.9" transform="rotate(-30 264.3 503.9)" fill="#fff" stroke="#161616" stroke-width="1.5" />
<ellipse cx="264.3" cy="503.9" rx="13.9" ry="26" transform="rotate(-30 264.3 503.9)" fill="#fff" stroke="#161616" stroke-width="1.1" />
<line x1="273.8" y1="527.5" x2="282.4" y2="522.5" stroke="#161616" stroke-width="0.8"/>
<line x1="272.1" y1="527.4" x2="280.8" y2="522.4" stroke="#161616" stroke-width="0.8"/>
<line x1="268.4" y1="526.5" x2="277" y2="521.5" stroke="#161616" stroke-width="0.8"/>
<line x1="266.5" y1="525.6" x2="275.2" y2="520.6" stroke="#161616" stroke-width="0.8"/>
<line x1="262.5" y1="523" x2="271.2" y2="518" stroke="#161616" stroke-width="0.8"/>
<line x1="260.7" y1="521.4" x2="269.4" y2="516.4" stroke="#161616" stroke-width="0.8"/>
<line x1="256.9" y1="517.5" x2="265.6" y2="512.5" stroke="#161616" stroke-width="0.8"/>
<line x1="255.3" y1="515.4" x2="263.9" y2="510.4" stroke="#161616" stroke-width="0.8"/>
<line x1="252.1" y1="510.4" x2="260.7" y2="505.4" stroke="#161616" stroke-width="0.8"/>
<line x1="250.8" y1="508" x2="259.5" y2="503" stroke="#161616" stroke-width="0.8"/>
<line x1="248.6" y1="502.7" x2="257.2" y2="497.7" stroke="#161616" stroke-width="0.8"/>
<line x1="247.8" y1="500.3" x2="256.5" y2="495.3" stroke="#161616" stroke-width="0.8"/>
<line x1="246.8" y1="495.1" x2="255.4" y2="490.1" stroke="#161616" stroke-width="0.8"/>
<line x1="246.6" y1="492.9" x2="255.3" y2="487.9" stroke="#161616" stroke-width="0.8"/>
<line x1="246.9" y1="488.5" x2="255.6" y2="483.5" stroke="#161616" stroke-width="0.8"/>
<line x1="247.3" y1="486.7" x2="256" y2="481.7" stroke="#161616" stroke-width="0.8"/>
<line x1="248.9" y1="483.5" x2="257.6" y2="478.5" stroke="#161616" stroke-width="0.8"/>
<line x1="249.9" y1="482.4" x2="258.6" y2="477.4" stroke="#161616" stroke-width="0.8"/>
<path d="M282.6 522.5 L281.1 522.4 L279.6 522.2 L278.1 521.8 L276.5 521.1 L274.8 520.3 L273.2 519.3 L271.5 518.1 L269.9 516.8 L268.3 515.2 L266.7 513.6 L265.2 511.8 L263.7 509.9 L262.4 507.9 L261.1 505.8 L260 503.7 L258.9 501.5 L258 499.3 L257.2 497.1 L256.5 494.9 L256 492.8 L255.7 490.7 L255.5 488.7 L255.4 486.7 L255.5 484.9 L255.8 483.2 L256.2 481.6 L256.8 480.2 L257.5 478.9" fill="none" stroke="#161616" stroke-width="0.8" stroke-linejoin="round" stroke-linecap="round" />
<!-- crank_half_11 -->
<path d="M145.9 527.3 C148.2 525.7 151.2 523.1 154 521.5 C156.8 519.9 160.9 517.5 164.5 516.6 C168.1 515.7 174 514.9 178.1 515.6 C182.2 516.3 188.3 518.9 191.8 521.5 C195.3 524.1 199.1 529.1 201.6 533.2 C204.1 537.3 206.8 543.5 208.4 548.8 C210 554.1 211.4 562.8 212.3 568.4 C213.2 574 213 580.9 214.3 585.9 C215.6 590.9 218 596.9 221.1 601.6 C224.2 606.3 231.6 612.2 234.8 617.2 C238 622.2 241.9 629.8 242.6 634.8 C243.3 639.8 241.9 646 239.6 650.4 C237.3 654.8 231.5 660.2 227 664 C222.5 667.8 215 673.4 209.4 675.8 C203.8 678.2 195.7 680 189.8 679.7 C183.9 679.4 176.2 676.7 170.3 673.8 C164.5 670.9 155.8 664.4 150.8 660.2 C145.8 656 141.7 650.8 137.1 645.5 C132.5 640.2 124.4 631.3 120 625 C115.6 618.7 110.4 608.5 107.8 603.5 C105.2 598.5 103.5 595.6 102.9 591.8 C102.3 588 102.6 581.9 103.9 578.1 C105.2 574.3 108.2 570.9 111.7 566.4 C115.2 561.9 123.2 553 127.3 547.9 C131.4 542.8 136.2 535.3 139 532.2 C141.8 529.1 143.7 528.9 145.9 527.3 Z" fill="#fff" stroke="#161616" stroke-width="1.4" stroke-linejoin="round" stroke-linecap="round" />
<path d="M182 550.5 C183 551.4 186 553.1 188 556 C190 558.9 191.9 563 194 568 C196.1 573 198.3 580.3 200.5 586 C202.7 591.7 204.8 596.8 207 602 C209.2 607.2 211.8 612.3 213.5 617 C215.2 621.7 216.8 625.3 217.5 630 C218.2 634.7 218 638.4 217.6 645 C217.2 651.6 215.6 665.8 215.2 669.9" fill="none" stroke="#161616" stroke-width="0.9" stroke-linejoin="round" stroke-linecap="round" />
<path d="M191.8 560.5 C193.4 564.4 198.7 577.1 201.6 584 C204.5 590.9 206.5 595.4 209.4 601.6 C212.3 607.8 216.7 615.2 219.1 621.1 C221.5 627 223.2 634.1 224 636.7" fill="none" stroke="#161616" stroke-width="0.9" stroke-linejoin="round" stroke-linecap="round" />
<path d="M195 566 C196.8 570 201.8 582.2 205.5 590 C209.2 597.8 213.9 605.2 217 613 C220.1 620.8 222.8 632.8 224 636.7" fill="none" stroke="#161616" stroke-width="0.8" stroke-linejoin="round" stroke-linecap="round" />
<path d="M127.3 547.9 C126.9 548.8 125.9 551.6 125 553 C124.1 554.4 122.5 555.5 122 556" fill="none" stroke="#161616" stroke-width="0.8" stroke-linejoin="round" stroke-linecap="round" />
<path d="M172.4 582.8 L173.8 584.6 L175 586.6 L176.2 588.6 L177.3 590.6 L178.3 592.7 L179.2 594.8 L180 596.9 L180.7 599 L181.3 601.1 L181.7 603.1 L182.1 605.1 L182.3 607.1 L182.4 609 L182.4 610.8 L182.3 612.5 L182 614.1 L181.6 615.6 L181.1 617 L180.5 618.3 L179.8 619.4 L179 620.4 L178.1 621.3 L177 622 L175.9 622.5 L174.7 622.9 L173.5 623.1 L172.1 623.2 L170.7 623.1" fill="none" stroke="#161616" stroke-width="1.2" stroke-linejoin="round" stroke-linecap="round" />
<path d="M174 591.8 L174.7 593.3 L175.4 594.8 L176 596.4 L176.6 597.9 L177.2 599.4 L177.6 600.9 L178 602.5 L178.4 603.9 L178.6 605.4 L178.8 606.9 L179 608.3 L179 609.6 L179 610.9 L179 612.2 L178.8 613.4 L178.6 614.6 L178.3 615.7 L178 616.8 L177.6 617.7 L177.1 618.6 L176.6 619.5 L176 620.2 L175.4 620.9 L174.7 621.4 L173.9 621.9 L173.1 622.4 L172.3 622.7 L171.4 622.9" fill="none" stroke="#161616" stroke-width="0.8" stroke-linejoin="round" stroke-linecap="round" />
<ellipse cx="162.2" cy="564" rx="12.8" ry="23.4" transform="rotate(-30 162.2 564)" fill="#fff" stroke="#161616" stroke-width="1.4" />
<ellipse cx="171.6" cy="557.6" rx="3.2" ry="7.4" transform="rotate(-30 171.6 557.6)" fill="none" stroke="#161616" stroke-width="0.9" />
<path d="M158.8 542.5 L159.2 542.5 L159.6 542.5 L160 542.5 L160.4 542.6 L160.8 542.6 L161.2 542.7 L161.6 542.8 L162 542.9 L162.4 543.1 L162.8 543.2 L163.3 543.4 L163.7 543.6 L164.1 543.8 L164.6 544 L165 544.3 L165.5 544.5 L165.9 544.8 L166.3 545.1 L166.8 545.4 L167.2 545.7 L167.7 546.1 L168.1 546.4 L168.5 546.8 L169 547.2 L169.4 547.6 L169.8 548 L170.3 548.4 L170.7 548.8" fill="none" stroke="#161616" stroke-width="0.8" stroke-linejoin="round" stroke-linecap="round" />
<path d="M142 582 C142.2 581.3 142.6 578.7 143.4 577.6 C144.2 576.5 145.4 575.7 146.9 575.2 C148.4 574.7 151.7 574.7 152.7 574.6" fill="none" stroke="#161616" stroke-width="1" stroke-linejoin="round" stroke-linecap="round" />
<path d="M164.5 586.4 C165.2 586.5 167.5 587.2 169 587 C170.5 586.8 172.7 585.3 173.4 585" fill="none" stroke="#161616" stroke-width="0.9" stroke-linejoin="round" stroke-linecap="round" />
<path d="M133.4 637.4 L132.5 637.8 L131.5 637.9 L130.5 637.7 L129.4 637.3 L128.3 636.6 L127.2 635.7 L126.1 634.5 L125 633.2 L124 631.6 L123 629.8 L122 627.8 L121.2 625.7 L120.4 623.5 L119.6 621.3 L119 618.9 L118.5 616.5 L118.1 614.2 L117.8 611.8 L117.7 609.6 L117.6 607.4 L117.7 605.3 L117.9 603.4 L118.3 601.6 L118.7 600.1 L119.3 598.7 L119.9 597.6 L120.7 596.7 L121.5 596.1 L155.9 575.6 L157.1 575.1 L158.3 574.8 L159.6 574.8 L161 575 L162.3 575.6 L163.6 576.4 L165 577.4 L166.2 578.7 L167.4 580.2 L168.6 581.9 L169.6 583.8 L170.6 585.8 L171.5 588 L172.2 590.3 L172.8 592.6 L173.2 595 L173.6 597.4 L173.7 599.8 L173.7 602.2 L173.6 604.5 L173.3 606.6 L172.9 608.7 L172.3 610.6 L171.6 612.3 L170.8 613.8 L169.9 615.1 L168.8 616.1 L167.7 616.9 Z" fill="#fff" stroke="#fff" stroke-width="0" stroke-linejoin="round" stroke-linecap="round" />
<line x1="121.5" y1="596.1" x2="137.8" y2="586.4" stroke="#161616" stroke-width="1.4"/>
<line x1="133.4" y1="637.4" x2="168.6" y2="616.4" stroke="#161616" stroke-width="1.4"/>
<path d="M135.6 587.7 L136.8 587.2 L138.1 587 L139.3 587.1 L140.6 587.4 L142 588 L143.3 588.8 L144.5 589.9 L145.8 591.2 L147 592.7 L148.1 594.3 L149.1 596.2 L150 598.2 L150.9 600.3 L151.6 602.6 L152.2 604.9 L152.6 607.2 L152.9 609.6 L153.1 611.9 L153.1 614.2 L153 616.5 L152.8 618.6 L152.4 620.6 L151.9 622.5 L151.2 624.2 L150.4 625.7 L149.5 627.1 L148.5 628.1 L147.5 629" fill="none" stroke="#161616" stroke-width="0.8" stroke-linejoin="round" stroke-linecap="round" />
<path d="M158.9 575.3 L160.1 575.6 L161.3 576 L162.4 576.7 L163.6 577.5 L164.7 578.5 L165.8 579.7 L166.9 581.1 L167.9 582.7 L168.8 584.3 L169.6 586.1 L170.4 588 L171.1 590 L171.7 592 L172.1 594.1 L172.5 596.2 L172.7 598.3 L172.9 600.4 L172.9 602.5 L172.8 604.5 L172.6 606.4 L172.3 608.3 L171.8 610 L171.3 611.6 L170.6 613.1 L169.9 614.4 L169.1 615.5 L168.2 616.5 L167.2 617.2" fill="none" stroke="#161616" stroke-width="0.8" stroke-linejoin="round" stroke-linecap="round" />
<path d="M121.2 596.3 L122.1 595.8 L123.1 595.6 L124.2 595.7 L125.2 596.1 L126.3 596.7 L127.5 597.6 L128.6 598.8 L129.7 600.2 L130.8 601.8 L131.8 603.6 L132.8 605.5 L133.7 607.7 L134.5 609.9 L135.2 612.3 L135.9 614.6 L136.4 617.1 L136.8 619.5 L137 621.9 L137.2 624.2 L137.2 626.4 L137.1 628.5 L136.9 630.4 L136.5 632.2 L136 633.7 L135.5 635.1 L134.8 636.2 L134 637 L133.1 637.6" fill="none" stroke="#161616" stroke-width="1.1" stroke-linejoin="round" stroke-linecap="round" />
<path d="M117.2 644 L116.4 644.3 L115.6 644.4 L114.7 644.2 L113.9 643.9 L113 643.2 L112 642.4 L111.1 641.4 L110.2 640.1 L109.3 638.7 L108.4 637.1 L107.6 635.4 L106.9 633.6 L106.2 631.7 L105.6 629.7 L105 627.6 L104.6 625.6 L104.2 623.5 L104 621.5 L103.8 619.5 L103.7 617.6 L103.8 615.8 L103.9 614.1 L104.2 612.6 L104.5 611.3 L105 610.1 L105.5 609.2 L106.1 608.4 L106.8 607.9 L122.3 598.7 L123 598.4 L123.8 598.3 L124.7 598.5 L125.5 598.9 L126.5 599.5 L127.4 600.3 L128.3 601.4 L129.2 602.6 L130.1 604 L131 605.6 L131.8 607.3 L132.5 609.1 L133.2 611.1 L133.8 613.1 L134.4 615.1 L134.8 617.2 L135.2 619.2 L135.5 621.3 L135.6 623.2 L135.7 625.1 L135.6 626.9 L135.5 628.6 L135.2 630.1 L134.9 631.4 L134.4 632.6 L133.9 633.5 L133.3 634.3 L132.6 634.8 Z" fill="#fff" stroke="#161616" stroke-width="1.4" stroke-linejoin="round" stroke-linecap="round" />
<path d="M106.6 608 L107.3 607.7 L108.1 607.5 L109 607.6 L109.9 608 L110.8 608.6 L111.8 609.4 L112.7 610.4 L113.6 611.6 L114.5 613.1 L115.4 614.6 L116.3 616.4 L117 618.3 L117.7 620.2 L118.4 622.3 L118.9 624.4 L119.4 626.5 L119.8 628.6 L120 630.7 L120.2 632.7 L120.2 634.6 L120.2 636.4 L120 638.1 L119.7 639.6 L119.3 640.9 L118.9 642.1 L118.3 643 L117.7 643.7 L116.9 644.2" fill="none" stroke="#161616" stroke-width="1" stroke-linejoin="round" stroke-linecap="round" />
<path d="M108.6 606.8 L109.4 606.4 L110.2 606.3 L111 606.4 L111.9 606.7 L112.9 607.3 L113.8 608.1 L114.8 609.2 L115.7 610.4 L116.6 611.8 L117.5 613.4 L118.3 615.2 L119.1 617 L119.8 619 L120.4 621 L121 623.1 L121.5 625.2 L121.8 627.4 L122.1 629.4 L122.2 631.4 L122.3 633.4 L122.2 635.2 L122 636.8 L121.8 638.4 L121.4 639.7 L120.9 640.8 L120.4 641.8 L119.7 642.5 L119 642.9" fill="none" stroke="#161616" stroke-width="1" stroke-linejoin="round" stroke-linecap="round" />
<path d="M110.7 605.6 L111.4 605.2 L112.3 605.1 L113.1 605.2 L114 605.5 L114.9 606.1 L115.9 606.9 L116.8 607.9 L117.8 609.2 L118.7 610.6 L119.5 612.2 L120.4 613.9 L121.2 615.8 L121.9 617.8 L122.5 619.8 L123.1 621.9 L123.5 624 L123.9 626.1 L124.1 628.2 L124.3 630.2 L124.3 632.1 L124.3 633.9 L124.1 635.6 L123.8 637.1 L123.5 638.5 L123 639.6 L122.4 640.5 L121.8 641.2 L121.1 641.7" fill="none" stroke="#161616" stroke-width="1" stroke-linejoin="round" stroke-linecap="round" />
<path d="M112.8 604.4 L113.5 604 L114.3 603.8 L115.2 603.9 L116.1 604.3 L117 604.9 L117.9 605.7 L118.9 606.7 L119.8 607.9 L120.7 609.4 L121.6 611 L122.4 612.7 L123.2 614.6 L123.9 616.5 L124.6 618.6 L125.1 620.7 L125.6 622.8 L125.9 624.9 L126.2 627 L126.4 629 L126.4 630.9 L126.3 632.7 L126.2 634.4 L125.9 635.9 L125.5 637.2 L125 638.4 L124.5 639.3 L123.8 640 L123.1 640.5" fill="none" stroke="#161616" stroke-width="1" stroke-linejoin="round" stroke-linecap="round" />
<path d="M114.8 603.1 L115.6 602.7 L116.4 602.6 L117.2 602.7 L118.1 603.1 L119.1 603.6 L120 604.5 L120.9 605.5 L121.9 606.7 L122.8 608.1 L123.7 609.7 L124.5 611.5 L125.3 613.3 L126 615.3 L126.6 617.4 L127.2 619.4 L127.6 621.6 L128 623.7 L128.3 625.7 L128.4 627.7 L128.5 629.7 L128.4 631.5 L128.2 633.2 L128 634.7 L127.6 636 L127.1 637.1 L126.5 638.1 L125.9 638.8 L125.2 639.2" fill="none" stroke="#161616" stroke-width="1" stroke-linejoin="round" stroke-linecap="round" />
<path d="M116.9 601.9 L117.6 601.5 L118.4 601.4 L119.3 601.5 L120.2 601.8 L121.1 602.4 L122.1 603.2 L123 604.3 L123.9 605.5 L124.9 606.9 L125.7 608.5 L126.6 610.2 L127.3 612.1 L128.1 614.1 L128.7 616.1 L129.2 618.2 L129.7 620.3 L130.1 622.4 L130.3 624.5 L130.5 626.5 L130.5 628.4 L130.5 630.3 L130.3 631.9 L130 633.4 L129.6 634.8 L129.2 635.9 L128.6 636.8 L128 637.5 L127.2 638" fill="none" stroke="#161616" stroke-width="1" stroke-linejoin="round" stroke-linecap="round" />
<path d="M118.9 600.7 L119.7 600.3 L120.5 600.1 L121.4 600.3 L122.3 600.6 L123.2 601.2 L124.1 602 L125.1 603 L126 604.3 L126.9 605.7 L127.8 607.3 L128.6 609 L129.4 610.9 L130.1 612.9 L130.8 614.9 L131.3 617 L131.8 619.1 L132.1 621.2 L132.4 623.3 L132.5 625.3 L132.6 627.2 L132.5 629 L132.4 630.7 L132.1 632.2 L131.7 633.5 L131.2 634.7 L130.7 635.6 L130 636.3 L129.3 636.8" fill="none" stroke="#161616" stroke-width="1" stroke-linejoin="round" stroke-linecap="round" />
<path d="M120.8 599.5 L121.6 599.2 L122.4 599 L123.2 599.1 L124.1 599.5 L125.1 600.1 L126 600.9 L127 601.9 L127.9 603.1 L128.8 604.6 L129.7 606.1 L130.5 607.9 L131.3 609.8 L132 611.7 L132.6 613.8 L133.2 615.9 L133.7 618 L134 620.1 L134.3 622.2 L134.4 624.2 L134.5 626.1 L134.4 627.9 L134.2 629.6 L134 631.1 L133.6 632.4 L133.1 633.6 L132.6 634.5 L131.9 635.2 L131.2 635.7" fill="none" stroke="#161616" stroke-width="1" stroke-linejoin="round" stroke-linecap="round" />
<path d="M116.2 607.8 L125.6 602.4 L127.4 604.2 L118.2 609.8 Z" fill="#fff" stroke="#161616" stroke-width="0.9" stroke-linejoin="round" stroke-linecap="round" />
<path d="M59.9 672.5 L59.2 672.9 L58.3 673 L57.5 673.1 L56.6 672.9 L55.8 672.6 L54.9 672.1 L54.1 671.4 L53.2 670.6 L52.4 669.6 L51.7 668.5 L51 667.3 L50.4 666 L49.9 664.6 L49.4 663.1 L49 661.6 L48.7 660.1 L48.5 658.5 L48.4 657 L48.4 655.5 L48.5 654 L48.7 652.6 L49 651.3 L49.3 650.1 L49.8 649 L50.3 648 L50.9 647.2 L51.6 646.5 L52.3 646 L107 608.5 L107.7 608.2 L108.5 608.1 L109.4 608.2 L110.2 608.6 L111.1 609.2 L112 610 L113 611 L113.9 612.2 L114.7 613.5 L115.6 615 L116.4 616.7 L117.1 618.5 L117.8 620.3 L118.4 622.3 L118.9 624.3 L119.3 626.3 L119.7 628.3 L119.9 630.2 L120.1 632.1 L120.1 634 L120.1 635.7 L119.9 637.3 L119.6 638.8 L119.3 640.1 L118.8 641.3 L118.3 642.2 L117.7 642.9 L117 643.5 Z" fill="#fff" stroke="#161616" stroke-width="1.4" stroke-linejoin="round" stroke-linecap="round" />
<path d="M82.5 625.8 L83.4 625.6 L84.4 625.5 L85.3 625.6 L86.3 625.9 L87.2 626.4 L88.2 627 L89.1 627.9 L90 628.8 L90.9 630 L91.7 631.2 L92.4 632.6 L93 634 L93.6 635.6 L94.1 637.2 L94.5 638.9 L94.8 640.6 L95 642.3 L95.1 644 L95.1 645.7 L95 647.3 L94.8 648.8 L94.5 650.3 L94.1 651.6 L93.6 652.9 L93 654 L92.4 654.9 L91.6 655.7 L90.8 656.3" fill="none" stroke="#161616" stroke-width="0.9" stroke-linejoin="round" stroke-linecap="round" />
<path d="M95.4 622.5 L95.5 623 L95.6 623.5 L95.5 624.1 L95.4 624.6 L95.2 625.2 L94.9 625.7 L94.6 626.2 L94.2 626.6 L93.8 627 L93.4 627.3 L92.9 627.5 L92.4 627.7 L91.9 627.7 L91.5 627.7 L91 627.6 L90.6 627.4 L90.3 627.1 L90 626.8 L89.7 626.4 L89.6 625.9 L89.5 625.4 L89.4 624.9 L89.5 624.3 L89.6 623.8 L89.8 623.2 L90.1 622.7 L90.4 622.2 L90.8 621.8 L91.2 621.4 L91.6 621.1 L92.1 620.9 L92.6 620.7 L93.1 620.7 L93.5 620.7 L94 620.8 L94.4 621 L94.7 621.3 L95 621.6 L95.3 622 L95.4 622.5 Z" fill="#fff" stroke="#161616" stroke-width="1" stroke-linejoin="round" stroke-linecap="round" />
<path d="M90.4 626 C90.8 626.2 92.1 627.3 93 627.2 C93.9 627.1 95.2 625.9 95.6 625.6" fill="none" stroke="#161616" stroke-width="0.8" stroke-linejoin="round" stroke-linecap="round" />
<path d="M48 652.5 C48.1 651.5 48.3 650.3 52 648 C55.7 645.7 66.4 640 70 638.5 C73.6 637 73.2 638.6 73.5 639.3 C73.8 640 74.4 640.8 71.5 642.8 C68.6 644.8 59.3 649.7 56 651.6 C52.7 653.5 52.8 654.1 51.5 654.2 C50.2 654.4 47.9 653.5 48 652.5 Z" fill="#fff" stroke="#161616" stroke-width="0.9" stroke-linejoin="round" stroke-linecap="round" />
<path d="M51.5 651.2 L70 640.8" fill="none" stroke="#161616" stroke-width="0.8" stroke-linejoin="round" stroke-linecap="round" />
<path d="M41.2 680.8 L40.5 681.1 L39.7 681.3 L38.9 681.4 L38.1 681.3 L37.3 681.1 L36.5 680.7 L35.8 680.2 L35 679.6 L34.3 678.9 L33.7 678 L33.1 677 L32.5 676 L32.1 674.9 L31.7 673.7 L31.4 672.5 L31.2 671.2 L31 669.9 L31 668.7 L31 667.4 L31.2 666.2 L31.4 665 L31.7 663.9 L32.1 662.9 L32.5 661.9 L33.1 661.1 L33.7 660.3 L34.3 659.7 L35 659.2 L53.1 648.5 L53.8 648.1 L54.6 647.9 L55.3 647.9 L56.1 647.9 L56.9 648.2 L57.7 648.5 L58.5 649 L59.2 649.6 L59.9 650.4 L60.6 651.2 L61.2 652.2 L61.7 653.2 L62.2 654.4 L62.5 655.5 L62.9 656.8 L63.1 658 L63.2 659.3 L63.3 660.6 L63.2 661.8 L63.1 663.1 L62.9 664.2 L62.5 665.4 L62.2 666.4 L61.7 667.3 L61.2 668.2 L60.6 668.9 L59.9 669.5 L59.2 670 Z" fill="#fff" stroke="#161616" stroke-width="1.4" stroke-linejoin="round" stroke-linecap="round" />
<path d="M37 658.1 L37.8 657.6 L38.6 657.3 L39.4 657.1 L40.2 657.1 L41.1 657.3 L41.9 657.6 L42.7 658 L43.5 658.6 L44.3 659.4 L45 660.3 L45.6 661.2 L46.2 662.3 L46.7 663.5 L47.1 664.8 L47.4 666.1 L47.6 667.4 L47.8 668.7 L47.8 670.1 L47.7 671.4 L47.5 672.7 L47.3 673.9 L46.9 675 L46.5 676.1 L46 677 L45.4 677.9 L44.7 678.6 L44 679.1 L43.2 679.5" fill="none" stroke="#161616" stroke-width="0.9" stroke-linejoin="round" stroke-linecap="round" />
<path d="M39.2 656.8 L39.9 656.3 L40.7 656 L41.5 655.8 L42.4 655.8 L43.2 656 L44.1 656.3 L44.9 656.7 L45.7 657.4 L46.4 658.1 L47.1 659 L47.8 660 L48.3 661.1 L48.8 662.2 L49.2 663.5 L49.6 664.8 L49.8 666.1 L49.9 667.5 L49.9 668.8 L49.9 670.1 L49.7 671.4 L49.4 672.6 L49.1 673.8 L48.6 674.8 L48.1 675.8 L47.5 676.6 L46.8 677.3 L46.1 677.8 L45.3 678.2" fill="none" stroke="#161616" stroke-width="0.9" stroke-linejoin="round" stroke-linecap="round" />
<path d="M41.3 655.5 L42.1 655 L42.9 654.7 L43.7 654.5 L44.5 654.5 L45.4 654.7 L46.2 655 L47 655.5 L47.8 656.1 L48.6 656.8 L49.3 657.7 L49.9 658.7 L50.5 659.8 L51 661 L51.4 662.2 L51.7 663.5 L51.9 664.8 L52.1 666.2 L52.1 667.5 L52 668.8 L51.8 670.1 L51.6 671.3 L51.2 672.5 L50.8 673.5 L50.2 674.5 L49.6 675.3 L49 676 L48.3 676.5 L47.5 677" fill="none" stroke="#161616" stroke-width="0.9" stroke-linejoin="round" stroke-linecap="round" />
<path d="M43.5 654.2 L44.2 653.7 L45 653.4 L45.8 653.3 L46.7 653.3 L47.5 653.4 L48.4 653.7 L49.2 654.2 L50 654.8 L50.7 655.5 L51.4 656.4 L52.1 657.4 L52.6 658.5 L53.1 659.7 L53.5 660.9 L53.8 662.2 L54.1 663.6 L54.2 664.9 L54.2 666.2 L54.2 667.6 L54 668.8 L53.7 670.1 L53.4 671.2 L52.9 672.3 L52.4 673.2 L51.8 674 L51.1 674.7 L50.4 675.3 L49.6 675.7" fill="none" stroke="#161616" stroke-width="0.9" stroke-linejoin="round" stroke-linecap="round" />
<path d="M45.6 652.9 L46.4 652.5 L47.2 652.1 L48 652 L48.8 652 L49.7 652.1 L50.5 652.4 L51.3 652.9 L52.1 653.5 L52.9 654.3 L53.6 655.1 L54.2 656.1 L54.8 657.2 L55.3 658.4 L55.7 659.6 L56 660.9 L56.2 662.3 L56.3 663.6 L56.4 665 L56.3 666.3 L56.1 667.6 L55.9 668.8 L55.5 669.9 L55.1 671 L54.5 671.9 L53.9 672.7 L53.3 673.4 L52.6 674 L51.8 674.4" fill="none" stroke="#161616" stroke-width="0.9" stroke-linejoin="round" stroke-linecap="round" />
<path d="M47.8 651.7 L48.5 651.2 L49.3 650.9 L50.1 650.7 L51 650.7 L51.8 650.9 L52.6 651.2 L53.5 651.6 L54.3 652.2 L55 653 L55.7 653.9 L56.3 654.8 L56.9 655.9 L57.4 657.1 L57.8 658.4 L58.1 659.7 L58.4 661 L58.5 662.3 L58.5 663.7 L58.5 665 L58.3 666.3 L58 667.5 L57.7 668.6 L57.2 669.7 L56.7 670.6 L56.1 671.5 L55.4 672.2 L54.7 672.7 L53.9 673.1" fill="none" stroke="#161616" stroke-width="0.9" stroke-linejoin="round" stroke-linecap="round" />
<path d="M51.8 646.4 L52.5 645.9 L53.4 645.5 L54.3 645.4 L55.2 645.5 L56.1 645.8 L57 646.2 L57.9 646.8 L58.8 647.6 L59.6 648.6 L60.4 649.7 L61.1 651 L61.8 652.3 L62.4 653.8 L62.9 655.3 L63.3 656.9 L63.6 658.6 L63.8 660.2 L63.9 661.8 L63.9 663.4 L63.7 664.9 L63.5 666.4 L63.2 667.7 L62.7 669 L62.2 670.1 L61.6 671 L60.9 671.8 L60.2 672.4 L59.3 672.8" fill="none" stroke="#161616" stroke-width="1" stroke-linejoin="round" stroke-linecap="round" />
<path d="M49.6 649.2 L50.4 648.8 L51.2 648.4 L52 648.3 L52.9 648.3 L53.8 648.5 L54.6 648.9 L55.5 649.4 L56.3 650.1 L57.1 651 L57.9 652 L58.5 653.1 L59.2 654.3 L59.7 655.6 L60.1 657 L60.5 658.4 L60.8 659.9 L60.9 661.4 L61 662.8 L60.9 664.3 L60.8 665.7 L60.5 667 L60.2 668.2 L59.7 669.4 L59.2 670.4 L58.6 671.3 L57.9 672 L57.2 672.6 L56.4 673" fill="none" stroke="#161616" stroke-width="0.9" stroke-linejoin="round" stroke-linecap="round" />
<path d="M44.5 666.3 L44.9 668 L45.1 669.8 L45.2 671.6 L45.1 673.3 L44.8 675 L44.4 676.5 L43.8 677.9 L43 679.1 L42.2 680.1 L41.2 680.8 L40.1 681.2 L39.1 681.4 L37.9 681.3 L36.8 680.9 L35.8 680.2 L34.7 679.3 L33.8 678.2 L33 676.8 L32.3 675.3 L31.7 673.7 L31.3 672 L31.1 670.2 L31 668.4 L31.1 666.7 L31.4 665 L31.8 663.5 L32.4 662.1 L33.2 660.9 L34 659.9 L35 659.2 L36.1 658.8 L37.1 658.6 L38.3 658.7 L39.4 659.1 L40.4 659.8 L41.5 660.7 L42.4 661.8 L43.2 663.2 L43.9 664.7 L44.5 666.3 Z" fill="#fff" stroke="#161616" stroke-width="1.4" stroke-linejoin="round" stroke-linecap="round" />
<path d="M42.7 667.5 L43 668.7 L43.2 669.9 L43.2 671.2 L43.2 672.4 L43 673.5 L42.7 674.6 L42.3 675.5 L41.8 676.4 L41.2 677 L40.5 677.5 L39.8 677.8 L39.1 677.9 L38.3 677.8 L37.6 677.5 L36.9 677.1 L36.2 676.4 L35.5 675.6 L34.9 674.7 L34.5 673.6 L34.1 672.5 L33.8 671.3 L33.6 670.1 L33.6 668.8 L33.6 667.6 L33.8 666.5 L34.1 665.4 L34.5 664.5 L35 663.6 L35.6 663 L36.3 662.5 L37 662.2 L37.7 662.1 L38.5 662.2 L39.2 662.5 L39.9 662.9 L40.6 663.6 L41.3 664.4 L41.9 665.3 L42.3 666.4 L42.7 667.5 Z" fill="none" stroke="#161616" stroke-width="0.9" stroke-linejoin="round" stroke-linecap="round" />
<path d="M35.8 667.4 L40.2 666.8 L41 672.4 L36.6 673.3 Z" fill="none" stroke="#161616" stroke-width="0.8" stroke-linejoin="round" stroke-linecap="round" />
<path d="M148.5 640.2 L158.4 634.4" fill="none" stroke="#161616" stroke-width="3" stroke-linejoin="round" stroke-linecap="round" />
<path d="M148.5 640.2 L158.4 634.4" fill="none" stroke="#fff" stroke-width="1" stroke-linejoin="round" stroke-linecap="round" />
<ellipse cx="159.2" cy="634" rx="1.6" ry="2.8" transform="rotate(-30 159.2 634)" fill="#fff" stroke="#161616" stroke-width="0.9" />
<!-- small_bits -->
<g transform="translate(60.6 622.8) rotate(-30)">
<rect x="-10.4" y="-3.4" width="20.8" height="6.8" rx="2.2" ry="2.2" fill="#fff" stroke="#161616" stroke-width="1.3"/>
<path d="M-8.6 -0.6 L8.8 -0.6" fill="none" stroke="#161616" stroke-width="0.8"/>
</g>
<path d="M114.4 521.8 Q113.6 519.4 116.4 518.6 L122.4 517.2 Q125 516.8 125 519 Q124.4 523.4 119.8 525.4 Q116 526.4 114.4 521.8 Z" fill="#fff" stroke="#161616" stroke-width="1.4" stroke-linejoin="round" stroke-linecap="round" />
<path d="M90.2 668.8 L109.6 657.8 Q112.8 656.6 113.8 659.4 Q114.4 662.2 112.2 663.6 L92.6 674.8 Q89.2 676 88.2 673.2 Q87.8 670.4 90.2 668.8 Z" fill="#fff" stroke="#161616" stroke-width="1.4" stroke-linejoin="round" stroke-linecap="round" />
<path d="M92.4 670.8 L93 672 L93.1 673.1 L93 674.1 L92.5 674.7 L91.7 674.8 L90.8 674.5 L89.9 673.8 L89.2 672.8 L88.6 671.6 L88.5 670.5 L88.6 669.5 L89.1 668.9 L89.9 668.8 L90.8 669.1 L91.7 669.8 L92.4 670.8" fill="none" stroke="#161616" stroke-width="0.8" stroke-linejoin="round" stroke-linecap="round" />
<circle cx="242.6" cy="582.3" r="4.6" fill="#fff" stroke="#161616" stroke-width="1.15"/>
<path d="M244.8 579.6 Q246 581.6 245.4 584" fill="none" stroke="#161616" stroke-width="0.7" stroke-linejoin="round" stroke-linecap="round" />
<!-- gear_12 -->
<path d="M379.5 775.4 L377.2 776.5 L374.7 777.3 L372.1 777.8 L369.4 778 L366.6 777.8 L363.6 777.4 L360.6 776.6 L357.5 775.5 L354.4 774.1 L351.3 772.4 L348.1 770.4 L345 768.2 L341.9 765.6 L338.9 762.9 L335.9 759.9 L333 756.7 L330.3 753.3 L327.7 749.8 L325.2 746.1 L322.9 742.2 L320.7 738.3 L318.7 734.3 L317 730.3 L315.4 726.2 L314.1 722.1 L313 718.1 L312.1 714.1 L311.5 710.1 L311.1 706.3 L310.9 702.6 L311 699 L311.4 695.6 L312 692.4 L312.8 689.4 L313.9 686.6 L315.2 684.1 L316.7 681.8 L318.4 679.8 L320.4 678.1 L322.5 676.6 L339 667.1 L341.3 666 L343.7 665.2 L346.3 664.7 L349 664.5 L351.9 664.7 L354.8 665.1 L357.9 665.9 L360.9 667 L364.1 668.4 L367.2 670.1 L370.3 672.1 L373.5 674.3 L376.6 676.9 L379.6 679.6 L382.6 682.6 L385.4 685.8 L388.2 689.2 L390.8 692.7 L393.3 696.4 L395.6 700.2 L397.7 704.2 L399.7 708.2 L401.5 712.2 L403 716.3 L404.4 720.4 L405.5 724.4 L406.3 728.4 L407 732.4 L407.4 736.2 L407.5 739.9 L407.4 743.5 L407.1 746.9 L406.5 750.1 L405.6 753.1 L404.6 755.9 L403.3 758.4 L401.7 760.7 L400 762.7 L398.1 764.4 L396 765.9 Z" fill="#fff" stroke="#fff" stroke-width="0" stroke-linejoin="round" stroke-linecap="round" />
<line x1="378.1" y1="708" x2="400.9" y2="710.8" stroke="#161616" stroke-width="1.1"/>
<line x1="380.2" y1="711.6" x2="402.4" y2="714.6" stroke="#161616" stroke-width="1"/>
<line x1="400.9" y1="710.8" x2="402.4" y2="714.6" stroke="#161616" stroke-width="0.9"/>
<line x1="376.7" y1="715.7" x2="388.2" y2="716.2" stroke="#161616" stroke-width="0.7"/>
<line x1="382.6" y1="716.2" x2="404.1" y2="719.4" stroke="#161616" stroke-width="1.1"/>
<line x1="384.3" y1="720" x2="405.1" y2="723.1" stroke="#161616" stroke-width="1"/>
<line x1="404.1" y1="719.4" x2="405.1" y2="723.1" stroke="#161616" stroke-width="0.9"/>
<line x1="379.9" y1="722.8" x2="390.8" y2="723.4" stroke="#161616" stroke-width="0.7"/>
<line x1="386.2" y1="724.8" x2="406.2" y2="727.9" stroke="#161616" stroke-width="1.1"/>
<line x1="387.5" y1="728.5" x2="406.9" y2="731.5" stroke="#161616" stroke-width="1"/>
<line x1="406.2" y1="727.9" x2="406.9" y2="731.5" stroke="#161616" stroke-width="0.9"/>
<line x1="382.4" y1="729.9" x2="392.5" y2="730.4" stroke="#161616" stroke-width="0.7"/>
<line x1="388.9" y1="733.3" x2="407.4" y2="736.1" stroke="#161616" stroke-width="1.1"/>
<line x1="389.7" y1="737.1" x2="407.5" y2="739.5" stroke="#161616" stroke-width="1"/>
<line x1="407.4" y1="736.1" x2="407.5" y2="739.5" stroke="#161616" stroke-width="0.9"/>
<line x1="383.9" y1="737" x2="393.4" y2="737.2" stroke="#161616" stroke-width="0.7"/>
<line x1="390.5" y1="741.7" x2="407.4" y2="743.7" stroke="#161616" stroke-width="1.1"/>
<line x1="390.9" y1="745.3" x2="407.1" y2="746.9" stroke="#161616" stroke-width="1"/>
<line x1="407.4" y1="743.7" x2="407.1" y2="746.9" stroke="#161616" stroke-width="0.9"/>
<line x1="384.6" y1="743.7" x2="393.3" y2="743.5" stroke="#161616" stroke-width="0.7"/>
<line x1="391.1" y1="749.6" x2="406.3" y2="750.6" stroke="#161616" stroke-width="1.1"/>
<line x1="391" y1="752.9" x2="405.5" y2="753.4" stroke="#161616" stroke-width="1"/>
<line x1="406.3" y1="750.6" x2="405.5" y2="753.4" stroke="#161616" stroke-width="0.9"/>
<line x1="384.4" y1="750" x2="392.3" y2="749.2" stroke="#161616" stroke-width="0.7"/>
<line x1="390.5" y1="756.9" x2="404.2" y2="756.6" stroke="#161616" stroke-width="1.1"/>
<line x1="389.9" y1="759.9" x2="403" y2="758.9" stroke="#161616" stroke-width="1"/>
<line x1="404.2" y1="756.6" x2="403" y2="758.9" stroke="#161616" stroke-width="0.9"/>
<line x1="383.2" y1="755.6" x2="390.5" y2="754.1" stroke="#161616" stroke-width="0.7"/>
<line x1="388.9" y1="763.4" x2="401.1" y2="761.5" stroke="#161616" stroke-width="1.1"/>
<line x1="387.9" y1="765.9" x2="399.4" y2="763.3" stroke="#161616" stroke-width="1"/>
<line x1="401.1" y1="761.5" x2="399.4" y2="763.3" stroke="#161616" stroke-width="0.9"/>
<line x1="381.2" y1="760.4" x2="387.8" y2="758.2" stroke="#161616" stroke-width="0.7"/>
<line x1="386.3" y1="768.8" x2="397.1" y2="765.2" stroke="#161616" stroke-width="1.1"/>
<line x1="384.8" y1="770.8" x2="395" y2="766.4" stroke="#161616" stroke-width="1"/>
<line x1="397.1" y1="765.2" x2="395" y2="766.4" stroke="#161616" stroke-width="0.9"/>
<line x1="382.6" y1="773.1" x2="392.2" y2="767.5" stroke="#161616" stroke-width="1.1"/>
<line x1="380.8" y1="774.6" x2="389.9" y2="768.1" stroke="#161616" stroke-width="1"/>
<line x1="392.2" y1="767.5" x2="389.9" y2="768.1" stroke="#161616" stroke-width="0.9"/>
<line x1="378.2" y1="776.1" x2="386.7" y2="768.4" stroke="#161616" stroke-width="1.1"/>
<line x1="376" y1="776.9" x2="384.1" y2="768.4" stroke="#161616" stroke-width="1"/>
<line x1="386.7" y1="768.4" x2="384.1" y2="768.4" stroke="#161616" stroke-width="0.9"/>
<line x1="373" y1="777.7" x2="380.6" y2="768" stroke="#161616" stroke-width="1.1"/>
<line x1="370.5" y1="777.9" x2="377.9" y2="767.3" stroke="#161616" stroke-width="1"/>
<line x1="380.6" y1="768" x2="377.9" y2="767.3" stroke="#161616" stroke-width="0.9"/>
<line x1="367.1" y1="777.9" x2="374.2" y2="766.1" stroke="#161616" stroke-width="1.1"/>
<line x1="364.4" y1="777.5" x2="371.4" y2="764.8" stroke="#161616" stroke-width="1"/>
<line x1="374.2" y1="766.1" x2="371.4" y2="764.8" stroke="#161616" stroke-width="0.9"/>
<line x1="313.1" y1="688.6" x2="333.8" y2="671.5" stroke="#161616" stroke-width="1.1"/>
<line x1="314.1" y1="686.1" x2="335.5" y2="669.7" stroke="#161616" stroke-width="1"/>
<line x1="333.8" y1="671.5" x2="335.5" y2="669.7" stroke="#161616" stroke-width="0.9"/>
<line x1="315.7" y1="683.2" x2="337.9" y2="667.8" stroke="#161616" stroke-width="1.1"/>
<line x1="317.2" y1="681.2" x2="339.9" y2="666.6" stroke="#161616" stroke-width="1"/>
<line x1="337.9" y1="667.8" x2="339.9" y2="666.6" stroke="#161616" stroke-width="0.9"/>
<line x1="319.4" y1="678.9" x2="342.7" y2="665.5" stroke="#161616" stroke-width="1.1"/>
<line x1="321.2" y1="677.4" x2="345" y2="664.9" stroke="#161616" stroke-width="1"/>
<line x1="342.7" y1="665.5" x2="345" y2="664.9" stroke="#161616" stroke-width="0.9"/>
<line x1="323.8" y1="675.9" x2="348.2" y2="664.6" stroke="#161616" stroke-width="1.1"/>
<line x1="326" y1="675.1" x2="350.8" y2="664.6" stroke="#161616" stroke-width="1"/>
<line x1="348.2" y1="664.6" x2="350.8" y2="664.6" stroke="#161616" stroke-width="0.9"/>
<line x1="329" y1="674.3" x2="354.3" y2="665" stroke="#161616" stroke-width="1.1"/>
<line x1="331.5" y1="674.1" x2="357" y2="665.7" stroke="#161616" stroke-width="1"/>
<line x1="354.3" y1="665" x2="357" y2="665.7" stroke="#161616" stroke-width="0.9"/>
<line x1="334.9" y1="674.1" x2="360.7" y2="666.9" stroke="#161616" stroke-width="1.1"/>
<line x1="337.6" y1="674.5" x2="363.6" y2="668.2" stroke="#161616" stroke-width="1"/>
<line x1="360.7" y1="666.9" x2="363.6" y2="668.2" stroke="#161616" stroke-width="0.9"/>
<line x1="341.4" y1="683.3" x2="354.9" y2="679.7" stroke="#161616" stroke-width="0.7"/>
<line x1="341.1" y1="675.3" x2="367.3" y2="670.1" stroke="#161616" stroke-width="1.1"/>
<line x1="344" y1="676.3" x2="370.2" y2="672" stroke="#161616" stroke-width="1"/>
<line x1="367.3" y1="670.1" x2="370.2" y2="672" stroke="#161616" stroke-width="0.9"/>
<line x1="346.9" y1="685.1" x2="360.4" y2="682.5" stroke="#161616" stroke-width="0.7"/>
<line x1="347.6" y1="677.9" x2="373.9" y2="674.6" stroke="#161616" stroke-width="1.1"/>
<line x1="350.6" y1="679.5" x2="376.7" y2="677" stroke="#161616" stroke-width="1"/>
<line x1="373.9" y1="674.6" x2="376.7" y2="677" stroke="#161616" stroke-width="0.9"/>
<line x1="352.4" y1="688" x2="365.9" y2="686.2" stroke="#161616" stroke-width="0.7"/>
<line x1="354.3" y1="681.8" x2="380.3" y2="680.3" stroke="#161616" stroke-width="1.1"/>
<line x1="357.1" y1="683.9" x2="383" y2="683.1" stroke="#161616" stroke-width="1"/>
<line x1="380.3" y1="680.3" x2="383" y2="683.1" stroke="#161616" stroke-width="0.9"/>
<line x1="357.9" y1="692" x2="371.3" y2="690.9" stroke="#161616" stroke-width="0.7"/>
<line x1="360.8" y1="686.9" x2="386.3" y2="686.9" stroke="#161616" stroke-width="1.1"/>
<line x1="363.6" y1="689.5" x2="388.9" y2="690.1" stroke="#161616" stroke-width="1"/>
<line x1="386.3" y1="686.9" x2="388.9" y2="690.1" stroke="#161616" stroke-width="0.9"/>
<line x1="363.3" y1="696.9" x2="376.3" y2="696.4" stroke="#161616" stroke-width="0.7"/>
<line x1="367" y1="693.1" x2="391.9" y2="694.3" stroke="#161616" stroke-width="1.1"/>
<line x1="369.7" y1="696.1" x2="394.1" y2="697.8" stroke="#161616" stroke-width="1"/>
<line x1="391.9" y1="694.3" x2="394.1" y2="697.8" stroke="#161616" stroke-width="0.9"/>
<line x1="368.3" y1="702.6" x2="380.9" y2="702.6" stroke="#161616" stroke-width="0.7"/>
<line x1="372.9" y1="700.2" x2="396.8" y2="702.4" stroke="#161616" stroke-width="1.1"/>
<line x1="375.2" y1="703.5" x2="398.7" y2="706" stroke="#161616" stroke-width="1"/>
<line x1="396.8" y1="702.4" x2="398.7" y2="706" stroke="#161616" stroke-width="0.9"/>
<line x1="372.8" y1="708.9" x2="384.9" y2="709.3" stroke="#161616" stroke-width="0.7"/>
<path d="M373.2 709.6 L378.1 708 L380.2 711.6 L376.3 715 L377.1 716.4 L382.6 716.2 L384.3 720 L379.6 722.1 L380.2 723.5 L386.2 724.8 L387.5 728.5 L382.1 729.2 L382.5 730.6 L388.9 733.3 L389.7 737.1 L383.8 736.3 L384 737.7 L390.5 741.7 L390.9 745.3 L384.6 743.1 L384.6 744.4 L391.1 749.6 L391 752.9 L384.4 749.4 L384.3 750.6 L390.5 756.9 L389.9 759.9 L383.4 755.1 L383.1 756.2 L388.9 763.4 L387.9 765.9 L381.4 760 L380.9 760.9 L386.3 768.8 L384.8 770.8 L378.7 764 L378 764.6 L382.6 773.1 L380.8 774.6 L375.1 766.9 L374.4 767.4 L378.2 776.1 L376 776.9 L371 768.7 L370.1 768.9 L373 777.7 L370.5 777.9 L366.2 769.4 L365.2 769.4 L367.1 777.9 L364.4 777.5 L361.1 768.8 L360 768.6 L360.9 776.7 L358 775.7 L355.7 767.1 L354.6 766.7 L354.4 774.1 L351.4 772.5 L350.1 764.3 L349 763.6 L347.7 770.2 L344.9 768.1 L344.6 760.5 L343.5 759.6 L341.2 765.1 L338.4 762.5 L339.2 755.6 L338.2 754.6 L335 758.9 L332.3 755.9 L334.2 750 L333.3 748.8 L329.1 751.8 L326.8 748.5 L329.7 743.8 L328.8 742.4 L323.9 744 L321.8 740.4 L325.7 737 L324.9 735.6 L319.4 735.8 L317.7 732 L322.4 729.9 L321.8 728.5 L315.8 727.2 L314.5 723.5 L319.9 722.8 L319.5 721.4 L313.1 718.7 L312.3 714.9 L318.2 715.7 L318 714.3 L311.5 710.3 L311.1 706.7 L317.4 708.9 L317.4 707.6 L310.9 702.4 L311 699.1 L317.6 702.6 L317.7 701.4 L311.5 695.1 L312.1 692.1 L318.6 696.9 L318.9 695.8 L313.1 688.6 L314.1 686.1 L320.6 692 L321.1 691.1 L315.7 683.2 L317.2 681.2 L323.3 688 L324 687.4 L319.4 678.9 L321.2 677.4 L326.9 685.1 L327.6 684.6 L323.8 675.9 L326 675.1 L331 683.3 L331.9 683.1 L329 674.3 L331.5 674.1 L335.8 682.6 L336.8 682.6 L334.9 674.1 L337.6 674.5 L340.9 683.2 L342 683.4 L341.1 675.3 L344 676.3 L346.3 684.9 L347.4 685.3 L347.6 677.9 L350.6 679.5 L351.9 687.7 L353 688.4 L354.3 681.8 L357.1 683.9 L357.4 691.5 L358.5 692.4 L360.8 686.9 L363.6 689.5 L362.8 696.4 L363.8 697.4 L367 693.1 L369.7 696.1 L367.8 702 L368.7 703.2 L372.9 700.2 L375.2 703.5 L372.3 708.2 Z" fill="#fff" stroke="#161616" stroke-width="1.2" stroke-linejoin="round" stroke-linecap="round" />
<ellipse cx="351" cy="726" rx="25.6" ry="44.2" transform="rotate(-30 351 726)" fill="none" stroke="#161616" stroke-width="0.8" />
<ellipse cx="352" cy="726" rx="21.7" ry="36" transform="rotate(-30 352 726)" fill="none" stroke="#161616" stroke-width="1" />
<ellipse cx="352.4" cy="725.8" rx="19.6" ry="32.5" transform="rotate(-30 352.4 725.8)" fill="none" stroke="#161616" stroke-width="0.8" />
<ellipse cx="353" cy="725.6" rx="15.6" ry="25" transform="rotate(-30 353 725.6)" fill="#fff" stroke="#161616" stroke-width="1.1" />
<path d="M363.8 746.1 L362.3 746.1 L360.7 746 L359 745.6 L357.3 745.1 L355.6 744.3 L353.9 743.4 L352.2 742.2 L350.5 740.9 L348.9 739.5 L347.3 737.9 L345.8 736.1 L344.5 734.2 L343.2 732.3 L342 730.2 L341 728.1 L340.1 726 L339.4 723.9 L338.8 721.7 L338.4 719.6 L338.1 717.5 L338 715.5 L338.1 713.5 L338.3 711.7 L338.8 710 L339.3 708.4 L340.1 707 L340.9 705.7 L341.9 704.6" fill="none" stroke="#161616" stroke-width="0.9" stroke-linejoin="round" stroke-linecap="round" />
<path d="M366.5 743.2 L365 743.2 L363.5 743.1 L361.9 742.8 L360.3 742.2 L358.7 741.5 L357.1 740.6 L355.4 739.5 L353.9 738.3 L352.3 736.9 L350.9 735.3 L349.5 733.7 L348.2 731.9 L347 730.1 L345.9 728.1 L344.9 726.1 L344 724.1 L343.3 722.1 L342.8 720 L342.4 718 L342.1 716 L342 714.1 L342.1 712.3 L342.3 710.5 L342.7 708.9 L343.2 707.4 L343.9 706.1 L344.7 704.9 L345.7 703.8" fill="none" stroke="#161616" stroke-width="0.8" stroke-linejoin="round" stroke-linecap="round" />
<path d="M369.1 740.3 L367.7 740.3 L366.3 740.2 L364.8 739.9 L363.3 739.4 L361.8 738.7 L360.2 737.8 L358.7 736.8 L357.2 735.6 L355.8 734.3 L354.4 732.8 L353.1 731.3 L351.9 729.6 L350.7 727.8 L349.7 726 L348.8 724.1 L348 722.2 L347.3 720.3 L346.8 718.3 L346.4 716.4 L346.1 714.6 L346 712.8 L346.1 711 L346.3 709.4 L346.6 707.9 L347.1 706.5 L347.8 705.2 L348.5 704 L349.4 703.1" fill="none" stroke="#161616" stroke-width="0.8" stroke-linejoin="round" stroke-linecap="round" />
<path d="M362 754 l3 1.6 M366 756.4 l2.4 -1.2" fill="none" stroke="#161616" stroke-width="0.8" stroke-linejoin="round" stroke-linecap="round" />
<path d="M337.4 695.6 l-1 2.4" fill="none" stroke="#161616" stroke-width="0.8" stroke-linejoin="round" stroke-linecap="round" />
<path d="M388 772 l8 -5 M389.6 774 l7 -4.6 M392 775.4 l4.6 -3" fill="none" stroke="#161616" stroke-width="1.3" stroke-linejoin="round" stroke-linecap="round" />
<!-- washer_15 -->
<path d="M292.1 797.4 L290.2 798.3 L288.1 798.8 L285.8 799 L283.5 798.8 L281 798.2 L278.5 797.3 L276 796.1 L273.5 794.5 L271 792.6 L268.5 790.5 L266.2 788.1 L264 785.4 L262 782.6 L260.1 779.6 L258.5 776.5 L257 773.3 L255.8 770.1 L254.9 766.9 L254.3 763.7 L253.9 760.6 L253.8 757.6 L254 754.8 L254.4 752.2 L255.2 749.8 L256.2 747.6 L257.5 745.8 L259 744.2 L260.7 743 L261.9 742.3 L263.8 741.4 L265.9 740.9 L268.2 740.7 L270.5 740.9 L273 741.5 L275.5 742.4 L278 743.6 L280.6 745.2 L283 747.1 L285.5 749.2 L287.8 751.6 L290 754.3 L292 757.1 L293.9 760.1 L295.5 763.2 L297 766.4 L298.2 769.6 L299.1 772.8 L299.8 776 L300.1 779.1 L300.2 782.1 L300 784.9 L299.6 787.5 L298.8 789.9 L297.8 792.1 L296.5 793.9 L295 795.5 L293.3 796.7 Z" fill="#fff" stroke="#161616" stroke-width="1.5" stroke-linejoin="round" stroke-linecap="round" />
<ellipse cx="276.4" cy="770.2" rx="18.8" ry="31.4" transform="rotate(-30 276.4 770.2)" fill="#fff" stroke="#161616" stroke-width="1.5" />
<ellipse cx="275.8" cy="770.4" rx="13.4" ry="24.4" transform="rotate(-30 275.8 770.4)" fill="#fff" stroke="#161616" stroke-width="1.3" />
<path d="M284.7 791.7 L283.3 791.6 L281.9 791.2 L280.4 790.7 L278.9 790 L277.4 789.1 L275.8 788.1 L274.3 786.9 L272.8 785.6 L271.4 784.1 L270 782.6 L268.6 780.9 L267.4 779.1 L266.2 777.3 L265.1 775.4 L264.1 773.4 L263.2 771.4 L262.4 769.4 L261.7 767.4 L261.2 765.4 L260.8 763.5 L260.5 761.6 L260.4 759.8 L260.4 758 L260.5 756.4 L260.8 754.8 L261.2 753.4 L261.7 752.1 L262.4 750.9" fill="none" stroke="#161616" stroke-width="0.8" stroke-linejoin="round" stroke-linecap="round" />
<!-- sprocket_16 -->
<path d="M188.2 857.5 L186.5 858.3 L184.6 858.7 L182.6 858.8 L180.5 858.6 L178.2 858 L175.9 857.1 L173.6 855.9 L171.3 854.4 L169 852.6 L166.7 850.5 L164.6 848.2 L162.5 845.7 L160.6 843.1 L158.9 840.2 L157.3 837.3 L156 834.3 L154.8 831.3 L153.9 828.3 L153.2 825.3 L152.8 822.4 L152.7 819.7 L152.8 817 L153.2 814.6 L153.8 812.4 L154.7 810.4 L155.8 808.7 L157.1 807.3 L158.6 806.2 L168.2 800.7 L169.9 799.9 L171.8 799.5 L173.8 799.4 L175.9 799.6 L178.2 800.2 L180.5 801.1 L182.8 802.3 L185.1 803.8 L187.4 805.6 L189.6 807.7 L191.8 810 L193.8 812.5 L195.8 815.1 L197.5 818 L199.1 820.9 L200.4 823.9 L201.6 826.9 L202.5 829.9 L203.2 832.9 L203.6 835.8 L203.7 838.5 L203.6 841.2 L203.2 843.6 L202.6 845.8 L201.7 847.8 L200.6 849.5 L199.3 850.9 L197.8 852 Z" fill="#fff" stroke="#161616" stroke-width="1.4" stroke-linejoin="round" stroke-linecap="round" />
<path d="M168.7 800.8 L170.5 800.6 L172.4 800.6 L174.4 800.9 L176.5 801.5 L178.6 802.4 L180.7 803.6 L182.8 805 L184.9 806.6 L187 808.4 L189 810.5 L190.9 812.7 L192.7 815.1 L194.4 817.6 L195.9 820.3 L197.3 823 L198.5 825.7 L199.5 828.5 L200.3 831.3 L200.9 834 L201.3 836.6 L201.5 839.2 L201.5 841.6 L201.2 843.9 L200.7 846 L200 848 L199.1 849.7 L198 851.1 L196.8 852.4" fill="none" stroke="#161616" stroke-width="0.8" stroke-linejoin="round" stroke-linecap="round" />
<path d="M185 820 L186.1 820.7 L189 821 L190.6 823.8 L189.5 826.4 L189.4 827.8 L190.5 828.8 L193.5 830.1 L194.5 833.1 L192.7 834.9 L192.3 835.9 L193.3 837.2 L196 839.4 L196.3 842.3 L194 843.1 L193.3 843.7 L194 845.2 L196.2 848 L195.8 850.4 L193.2 850.2 L192.3 850.4 L192.6 851.9 L194.2 855 L193.1 856.8 L190.5 855.5 L189.4 855.3 L189.4 856.6 L190.1 859.8 L188.4 860.8 L186 858.5 L184.9 857.9 L184.5 858.9 L184.4 861.9 L182.2 861.9 L180.3 859 L179.2 857.9 L178.5 858.6 L177.5 861 L175.1 860.2 L173.9 856.8 L172.9 855.5 L172 855.8 L170.2 857.4 L167.8 855.7 L167.3 852.2 L166.7 850.7 L165.6 850.5 L163.1 851.2 L161 848.8 L161.4 845.6 L161 844.2 L159.9 843.5 L157 843.2 L155.4 840.4 L156.5 837.8 L156.6 836.4 L155.4 835.4 L152.5 834.1 L151.5 831.1 L153.3 829.3 L153.7 828.3 L152.7 827 L150 824.8 L149.7 821.9 L152 821.1 L152.7 820.5 L152 819 L149.8 816.2 L150.2 813.8 L152.8 814 L153.7 813.8 L153.4 812.3 L151.8 809.2 L152.9 807.4 L155.5 808.7 L156.6 808.9 L156.6 807.6 L155.9 804.4 L157.6 803.4 L160 805.7 L161.1 806.3 L161.5 805.3 L161.6 802.3 L163.8 802.3 L165.7 805.2 L166.8 806.3 L167.5 805.6 L168.5 803.2 L170.9 804 L172.1 807.4 L173.1 808.7 L174 808.4 L175.8 806.8 L178.2 808.5 L178.7 812 L179.3 813.5 L180.4 813.7 L182.9 813 L185 815.4 L184.6 818.6 Z" fill="#fff" stroke="#161616" stroke-width="1" stroke-linejoin="round" stroke-linecap="round" />
<path d="M182.4 821.5 L183.5 822.2 L186.4 822.5 L188 825.3 L186.9 827.9 L186.8 829.3 L188 830.3 L190.9 831.6 L191.9 834.6 L190.1 836.4 L189.7 837.4 L190.7 838.7 L193.4 840.9 L193.7 843.8 L191.4 844.6 L190.7 845.2 L191.4 846.7 L193.6 849.5 L193.2 851.9 L190.6 851.7 L189.7 851.9 L190 853.4 L191.6 856.5 L190.5 858.3 L187.9 857 L186.8 856.8 L186.8 858.1 L187.5 861.3 L185.8 862.3 L183.4 860 L182.3 859.4 L181.9 860.4 L181.8 863.4 L179.6 863.4 L177.7 860.5 L176.6 859.4 L175.9 860.1 L174.9 862.5 L172.5 861.7 L171.3 858.3 L170.3 857 L169.4 857.3 L167.6 858.9 L165.2 857.2 L164.7 853.7 L164.1 852.2 L163 852 L160.5 852.7 L158.4 850.3 L158.8 847.1 L158.4 845.7 L157.3 845 L154.4 844.7 L152.8 841.9 L153.9 839.3 L154 837.9 L152.8 836.9 L149.9 835.6 L148.9 832.6 L150.7 830.8 L151.1 829.8 L150.1 828.5 L147.4 826.3 L147.1 823.4 L149.4 822.6 L150.1 822 L149.4 820.5 L147.2 817.7 L147.6 815.3 L150.2 815.5 L151.1 815.3 L150.8 813.8 L149.2 810.7 L150.3 808.9 L152.9 810.2 L154 810.4 L154 809.1 L153.3 805.9 L155 804.9 L157.4 807.2 L158.5 807.8 L158.9 806.8 L159 803.8 L161.2 803.8 L163.1 806.7 L164.2 807.8 L164.9 807.1 L165.9 804.7 L168.3 805.5 L169.5 808.9 L170.5 810.2 L171.4 809.9 L173.2 808.3 L175.6 810 L176.1 813.5 L176.7 815 L177.8 815.2 L180.3 814.5 L182.4 816.9 L182 820.1 Z" fill="#fff" stroke="#161616" stroke-width="1.1" stroke-linejoin="round" stroke-linecap="round" />
<ellipse cx="170.4" cy="833.6" rx="13.8" ry="25.4" transform="rotate(-30 170.4 833.6)" fill="none" stroke="#161616" stroke-width="0.8" />
<ellipse cx="170.8" cy="833.6" rx="10.2" ry="21.4" transform="rotate(-30 170.8 833.6)" fill="#fff" stroke="#161616" stroke-width="1.2" />
<path d="M186.5 846.8 L185.5 846.9 L184.4 846.8 L183.2 846.5 L182 846 L180.8 845.4 L179.5 844.6 L178.2 843.6 L176.9 842.5 L175.6 841.3 L174.4 839.9 L173.2 838.4 L172 836.9 L170.9 835.2 L169.9 833.5 L168.9 831.7 L168.1 830 L167.3 828.2 L166.7 826.4 L166.2 824.6 L165.8 822.9 L165.5 821.3 L165.4 819.7 L165.4 818.2 L165.5 816.9 L165.8 815.6 L166.1 814.5 L166.6 813.6 L167.3 812.8" fill="none" stroke="#161616" stroke-width="1" stroke-linejoin="round" stroke-linecap="round" />
<!-- nut_17 -->
<path d="M139.5 879.6 L138 880.3 L136.3 880.7 L134.5 880.8 L132.6 880.6 L130.6 880 L128.6 879.2 L126.5 878.1 L124.5 876.7 L122.4 875.1 L120.4 873.3 L118.5 871.2 L116.7 868.9 L115 866.5 L113.4 864 L112 861.4 L110.7 858.7 L109.7 856 L108.9 853.3 L108.3 850.6 L107.9 848 L107.7 845.5 L107.8 843.2 L108.1 841 L108.7 839.1 L109.4 837.3 L110.4 835.8 L111.5 834.5 L112.9 833.6 L120 829.5 L121.5 828.8 L123.2 828.4 L125 828.3 L126.9 828.5 L128.9 829.1 L130.9 829.9 L133 831 L135 832.4 L137.1 834 L139.1 835.8 L141 837.9 L142.8 840.2 L144.5 842.6 L146.1 845.1 L147.5 847.7 L148.8 850.4 L149.8 853.1 L150.6 855.8 L151.2 858.5 L151.6 861.1 L151.8 863.6 L151.7 865.9 L151.4 868.1 L150.8 870 L150.1 871.8 L149.1 873.3 L148 874.6 L146.6 875.5 Z" fill="#fff" stroke="#161616" stroke-width="1.4" stroke-linejoin="round" stroke-linecap="round" />
<ellipse cx="126.2" cy="856.6" rx="14.8" ry="26.6" transform="rotate(-30 126.2 856.6)" fill="#fff" stroke="#161616" stroke-width="1.4" />
<path d="M119.6 832.6 L120.3 832.7 L121 832.9 L121.7 833.1 L122.4 833.4 L123.2 833.7 L123.9 834" fill="none" stroke="#fff" stroke-width="2.6" stroke-linejoin="round" stroke-linecap="round" />
<path d="M119.3 832.5 L126.4 828.4 L131.4 830.1 L124.3 834.2 L124.6 837.8 L120.4 836.4 Z" fill="#fff" stroke="#fff" stroke-width="0" stroke-linejoin="round" stroke-linecap="round" />
<path d="M119.3 832.5 L126.4 828.4" fill="none" stroke="#161616" stroke-width="1" stroke-linejoin="round" stroke-linecap="round" />
<path d="M124.3 834.2 L131.4 830.1" fill="none" stroke="#161616" stroke-width="1" stroke-linejoin="round" stroke-linecap="round" />
<path d="M119.3 832.5 L120.4 836.4 L124.6 837.8 L124.3 834.2" fill="none" stroke="#161616" stroke-width="1" stroke-linejoin="round" stroke-linecap="round" />
<path d="M120.4 836.4 L126.4 832.9" fill="none" stroke="#161616" stroke-width="0.8" stroke-linejoin="round" stroke-linecap="round" />
<path d="M124.6 837.8 L130.6 834.3" fill="none" stroke="#161616" stroke-width="0.8" stroke-linejoin="round" stroke-linecap="round" />
<path d="M144.1 862.5 L144.3 863.3 L144.4 864.2 L144.5 865 L144.6 865.7 L144.6 866.5 L144.7 867.3" fill="none" stroke="#fff" stroke-width="2.6" stroke-linejoin="round" stroke-linecap="round" />
<path d="M144 862.1 L151.1 858 L151.8 863.6 L144.7 867.7 L141.7 865.9 L141.2 861.2 Z" fill="#fff" stroke="#fff" stroke-width="0" stroke-linejoin="round" stroke-linecap="round" />
<path d="M144 862.1 L151.1 858" fill="none" stroke="#161616" stroke-width="1" stroke-linejoin="round" stroke-linecap="round" />
<path d="M144.7 867.7 L151.8 863.6" fill="none" stroke="#161616" stroke-width="1" stroke-linejoin="round" stroke-linecap="round" />
<path d="M144 862.1 L141.2 861.2 L141.7 865.9 L144.7 867.7" fill="none" stroke="#161616" stroke-width="1" stroke-linejoin="round" stroke-linecap="round" />
<path d="M141.2 861.2 L147.2 857.8" fill="none" stroke="#161616" stroke-width="0.8" stroke-linejoin="round" stroke-linecap="round" />
<path d="M141.7 865.9 L147.7 862.4" fill="none" stroke="#161616" stroke-width="0.8" stroke-linejoin="round" stroke-linecap="round" />
<path d="M137.6 880.4 L137.1 880.6 L136.5 880.7 L136 880.7 L135.5 880.8 L134.9 880.8 L134.3 880.8" fill="none" stroke="#fff" stroke-width="2.6" stroke-linejoin="round" stroke-linecap="round" />
<path d="M137.8 880.4 L136 876.6 L132.8 876.9 L134 880.8" fill="#fff" stroke="#161616" stroke-width="1" stroke-linejoin="round" stroke-linecap="round" />
<path d="M112.7 862.8 L112.3 862.1 L112 861.4 L111.7 860.7 L111.3 860 L111 859.3 L110.7 858.6" fill="none" stroke="#fff" stroke-width="2.6" stroke-linejoin="round" stroke-linecap="round" />
<path d="M112.9 863.2 L115.1 862.1 L113.1 858 L110.5 858.2" fill="#fff" stroke="#161616" stroke-width="1" stroke-linejoin="round" stroke-linecap="round" />
<ellipse cx="126.9" cy="857.8" rx="10.8" ry="17.6" transform="rotate(-30 126.9 857.8)" fill="#fff" stroke="#161616" stroke-width="1.2" />
<path d="M133.1 873.1 L132 872.9 L130.9 872.7 L129.8 872.3 L128.6 871.8 L127.5 871.2 L126.3 870.4 L125.2 869.6 L124.1 868.6 L123 867.6 L122 866.4 L121 865.2 L120.1 863.9 L119.3 862.6 L118.5 861.2 L117.8 859.8 L117.2 858.4 L116.7 856.9 L116.3 855.5 L116 854 L115.8 852.6 L115.6 851.2 L115.6 849.9 L115.7 848.6 L115.9 847.4 L116.2 846.3 L116.6 845.2 L117.1 844.3 L117.7 843.4" fill="none" stroke="#161616" stroke-width="0.8" stroke-linejoin="round" stroke-linecap="round" />
<path d="M134.5 872.3 L133.4 872.1 L132.3 871.9 L131.1 871.5 L130 871 L128.8 870.4 L127.7 869.6 L126.6 868.8 L125.5 867.8 L124.4 866.8 L123.4 865.6 L122.4 864.4 L121.5 863.1 L120.7 861.8 L119.9 860.4 L119.2 859 L118.6 857.6 L118.1 856.1 L117.7 854.7 L117.4 853.2 L117.1 851.8 L117 850.4 L117 849.1 L117.1 847.8 L117.3 846.6 L117.6 845.5 L118 844.4 L118.5 843.5 L119 842.6" fill="none" stroke="#161616" stroke-width="0.8" stroke-linejoin="round" stroke-linecap="round" />
<path d="M135.9 871.5 L134.8 871.3 L133.7 871.1 L132.5 870.7 L131.4 870.2 L130.2 869.6 L129.1 868.8 L128 868 L126.9 867 L125.8 866 L124.8 864.8 L123.8 863.6 L122.9 862.3 L122.1 861 L121.3 859.6 L120.6 858.2 L120 856.8 L119.5 855.3 L119.1 853.9 L118.7 852.4 L118.5 851 L118.4 849.6 L118.4 848.3 L118.5 847 L118.7 845.8 L119 844.7 L119.4 843.6 L119.8 842.7 L120.4 841.8" fill="none" stroke="#161616" stroke-width="0.8" stroke-linejoin="round" stroke-linecap="round" />
<path d="M137.3 870.7 L136.2 870.5 L135.1 870.3 L133.9 869.9 L132.8 869.4 L131.6 868.8 L130.5 868 L129.3 867.2 L128.2 866.2 L127.2 865.2 L126.2 864 L125.2 862.8 L124.3 861.5 L123.4 860.2 L122.7 858.8 L122 857.4 L121.4 856 L120.9 854.5 L120.5 853.1 L120.1 851.6 L119.9 850.2 L119.8 848.8 L119.8 847.5 L119.9 846.2 L120.1 845 L120.4 843.9 L120.7 842.8 L121.2 841.9 L121.8 841" fill="none" stroke="#161616" stroke-width="0.8" stroke-linejoin="round" stroke-linecap="round" />
<!-- washer_18 -->
<path d="M89.4 903.3 L88 903.9 L86.4 904.4 L84.8 904.6 L83.1 904.6 L81.4 904.3 L79.6 903.8 L77.8 903 L76.1 902.1 L74.4 900.9 L72.7 899.6 L71.1 898 L69.6 896.4 L68.3 894.5 L67.1 892.6 L66 890.6 L65.1 888.5 L64.4 886.4 L63.9 884.2 L63.5 882.1 L63.4 880.1 L63.4 878.1 L63.7 876.2 L64.1 874.4 L64.7 872.7 L65.6 871.2 L66.6 869.9 L67.7 868.8 L69 867.9 L70.9 866.8 L72.3 866.2 L73.9 865.7 L75.5 865.5 L77.2 865.5 L78.9 865.8 L80.7 866.3 L82.5 867.1 L84.2 868 L85.9 869.2 L87.6 870.5 L89.2 872.1 L90.7 873.7 L92 875.6 L93.2 877.5 L94.3 879.5 L95.2 881.6 L95.9 883.7 L96.5 885.9 L96.8 888 L96.9 890 L96.9 892 L96.6 893.9 L96.2 895.7 L95.6 897.4 L94.7 898.9 L93.7 900.2 L92.6 901.3 L91.3 902.2 Z" fill="#fff" stroke="#161616" stroke-width="1.4" stroke-linejoin="round" stroke-linecap="round" />
<ellipse cx="79.2" cy="885.6" rx="14" ry="20.4" transform="rotate(-30 79.2 885.6)" fill="#fff" stroke="#161616" stroke-width="1.4" />
<ellipse cx="78.6" cy="886.2" rx="7.8" ry="10.6" transform="rotate(-30 78.6 886.2)" fill="#fff" stroke="#161616" stroke-width="1.2" />
<path d="M84 895.1 L83.2 895.2 L82.4 895.2 L81.7 895.1 L80.9 894.9 L80.1 894.6 L79.3 894.3 L78.5 893.9 L77.7 893.4 L77 892.8 L76.2 892.2 L75.6 891.5 L74.9 890.7 L74.4 889.9 L73.8 889.1 L73.4 888.2 L73 887.3 L72.6 886.4 L72.4 885.5 L72.2 884.5 L72.1 883.6 L72 882.7 L72 881.8 L72.1 881 L72.3 880.1 L72.6 879.4 L72.9 878.6 L73.3 878 L73.7 877.3" fill="none" stroke="#161616" stroke-width="0.8" stroke-linejoin="round" stroke-linecap="round" />
<!-- nut_19 -->
<path d="M28.7 896 C28 896.3 31.7 894.2 33.5 893.3 C35.3 892.3 41.4 887.2 44.3 888 C47.1 888.8 56.1 896.9 57.9 900.2 C59.7 903.5 60.1 914 59.7 916.2 C59.4 918.4 55.7 920.5 55 919 C54.2 917.4 54.9 906.2 53.1 902.9 C51.3 899.6 42.4 891.5 39.5 890.7 C36.7 889.9 29.4 895.7 28.7 896 Z" fill="#fff" stroke="#161616" stroke-width="1.4" stroke-linejoin="round" stroke-linecap="round" />
<line x1="39.5" y1="890.7" x2="44.3" y2="888" stroke="#161616" stroke-width="0.9"/>
<line x1="53.1" y1="902.9" x2="57.9" y2="900.2" stroke="#161616" stroke-width="0.9"/>
<path d="M53.1 902.9 C55.2 906.7 56.2 916.1 55 919 C53.8 921.8 47.4 925.4 44.1 924.5 C40.8 923.6 32.5 916.1 30.5 912.3 C28.4 908.5 27.5 898.9 28.7 896 C29.9 893.1 36.3 889.8 39.5 890.7 C42.8 891.6 51.1 899.2 53.1 902.9 Z" fill="#fff" stroke="#161616" stroke-width="1.4" stroke-linejoin="round" stroke-linecap="round" />
<ellipse cx="41.8" cy="907.6" rx="9.6" ry="15.2" transform="rotate(-30 41.8 907.6)" fill="none" stroke="#161616" stroke-width="0.8" />
<ellipse cx="42" cy="907.6" rx="6.9" ry="11.2" transform="rotate(-30 42 907.6)" fill="#fff" stroke="#161616" stroke-width="1.2" />
<path d="M47 917.1 L46.3 917.1 L45.6 917 L44.9 916.9 L44.1 916.6 L43.3 916.3 L42.5 915.9 L41.7 915.4 L41 914.8 L40.2 914.1 L39.5 913.4 L38.9 912.6 L38.2 911.8 L37.6 910.9 L37.1 910 L36.6 909 L36.1 908.1 L35.8 907.1 L35.5 906.1 L35.3 905.1 L35.1 904.2 L35 903.3 L35 902.3 L35.1 901.5 L35.2 900.7 L35.4 899.9 L35.7 899.2 L36.1 898.6 L36.5 898" fill="none" stroke="#161616" stroke-width="0.8" stroke-linejoin="round" stroke-linecap="round" />
<path d="M48.4 916.3 L47.7 916.3 L47 916.2 L46.2 916.1 L45.5 915.8 L44.7 915.5 L43.9 915.1 L43.1 914.6 L42.4 914 L41.6 913.3 L40.9 912.6 L40.2 911.8 L39.6 911 L39 910.1 L38.5 909.2 L38 908.2 L37.5 907.3 L37.2 906.3 L36.9 905.3 L36.6 904.3 L36.5 903.4 L36.4 902.5 L36.4 901.5 L36.5 900.7 L36.6 899.9 L36.8 899.1 L37.1 898.4 L37.4 897.8 L37.9 897.2" fill="none" stroke="#161616" stroke-width="0.8" stroke-linejoin="round" stroke-linecap="round" />
<path d="M49.8 915.5 L49.1 915.5 L48.4 915.4 L47.6 915.3 L46.9 915 L46.1 914.7 L45.3 914.3 L44.5 913.8 L43.8 913.2 L43 912.5 L42.3 911.8 L41.6 911 L41 910.2 L40.4 909.3 L39.8 908.4 L39.3 907.4 L38.9 906.5 L38.5 905.5 L38.3 904.5 L38 903.5 L37.9 902.6 L37.8 901.7 L37.8 900.7 L37.8 899.9 L38 899.1 L38.2 898.3 L38.5 897.6 L38.8 897 L39.2 896.4" fill="none" stroke="#161616" stroke-width="0.8" stroke-linejoin="round" stroke-linecap="round" />
<!-- balance_shaft_13 -->
<path d="M493.7 824.1 L492.9 824.5 L492.1 824.7 L491.2 824.7 L490.2 824.6 L489.2 824.3 L488.1 823.9 L487.1 823.4 L486 822.7 L485 821.9 L484 821 L483 819.9 L482.1 818.8 L481.2 817.6 L480.4 816.3 L479.7 815 L479.1 813.6 L478.6 812.3 L478.2 810.9 L477.9 809.5 L477.7 808.2 L477.6 807 L477.7 805.8 L477.8 804.7 L478.1 803.7 L478.5 802.8 L479 802 L479.6 801.4 L480.3 800.9 L488.8 796 L489.6 795.6 L490.4 795.4 L491.3 795.4 L492.3 795.5 L493.3 795.8 L494.4 796.2 L495.4 796.7 L496.5 797.4 L497.5 798.2 L498.5 799.1 L499.5 800.2 L500.4 801.3 L501.3 802.5 L502.1 803.8 L502.8 805.1 L503.4 806.5 L503.9 807.8 L504.3 809.2 L504.6 810.6 L504.8 811.9 L504.9 813.1 L504.8 814.3 L504.7 815.4 L504.4 816.4 L504 817.3 L503.5 818.1 L502.9 818.7 L502.2 819.2 Z" fill="#fff" stroke="#161616" stroke-width="1.4" stroke-linejoin="round" stroke-linecap="round" />
<path d="M488.6 796.1 L489.3 795.7 L490.2 795.5 L491.1 795.4 L492.1 795.5 L493.1 795.7 L494.2 796.1 L495.3 796.6 L496.3 797.3 L497.4 798.1 L498.4 799.1 L499.4 800.1 L500.4 801.3 L501.3 802.5 L502.1 803.8 L502.8 805.2 L503.4 806.5 L504 807.9 L504.4 809.3 L504.7 810.7 L504.8 812 L504.9 813.3 L504.8 814.5 L504.6 815.6 L504.3 816.6 L503.9 817.5 L503.3 818.3 L502.7 818.9 L502 819.3" fill="none" stroke="#161616" stroke-width="1.4" stroke-linejoin="round" stroke-linecap="round" />
<path d="M432 830 C433.8 824.2 440.7 823.5 445 820 C449.3 816.5 453.8 812.2 458 809 C462.2 805.8 466.6 802.6 470 801 C473.4 799.4 476.1 799.2 478.5 799.5 C480.9 799.8 483 801.1 484.5 803 C486 804.9 486.8 807.8 487.5 811 C488.2 814.2 488.7 818.3 488.5 822 C488.3 825.7 487.5 829.8 486.5 833 C485.5 836.2 482.2 838.3 482.5 841 C482.8 843.7 486.1 846.3 488 849 C489.9 851.7 491.9 853.8 494 857 C496.1 860.2 500 864.8 500.5 868.3 C501 871.8 499.1 874.7 497 878 C494.9 881.3 491.2 885.2 488 888 C484.8 890.8 481.5 892.7 478 894.5 C474.5 896.3 470.8 897.8 467 898.6 C463.2 899.5 458.5 899.9 455 899.6 C451.5 899.3 448.5 900.3 446 897 C443.5 893.7 442 887 440 880 C438 873 435.3 863.3 434 855 C432.7 846.7 430.2 835.8 432 830 Z" fill="#fff" stroke="#161616" stroke-width="1.4" stroke-linejoin="round" stroke-linecap="round" />
<path d="M470 801 C470.6 802.5 472.8 806.5 473.5 810 C474.2 813.5 474.6 818.2 474.5 822 C474.4 825.8 473.8 829.9 473 833 C472.2 836.1 470.5 839.2 470 840.5" fill="none" stroke="#161616" stroke-width="0.9" stroke-linejoin="round" stroke-linecap="round" />
<path d="M437 826 C439.2 827.3 445.5 831.7 450 834 C454.5 836.3 460.7 838.9 464 840 C467.3 841.1 466.9 840.3 470 840.5 C473.1 840.7 480.4 840.9 482.5 841" fill="none" stroke="#161616" stroke-width="0.8" stroke-linejoin="round" stroke-linecap="round" />
<path d="M470 840.5 C469.3 841.4 467.5 843.9 466 846 C464.5 848.1 462.2 851 461 853 C459.8 855 459.3 857.2 459 858" fill="none" stroke="#161616" stroke-width="0.8" stroke-linejoin="round" stroke-linecap="round" />
<path d="M459 858 C460.8 859 466.5 861.8 470 864 C473.5 866.2 477.3 868.7 480 871 C482.7 873.3 484.7 875.2 486 878 C487.3 880.8 487.7 886.3 488 888" fill="none" stroke="#161616" stroke-width="0.8" stroke-linejoin="round" stroke-linecap="round" />
<path d="M459 858 C458.5 859.7 456.5 864.3 456 868 C455.5 871.7 455.7 876 456 880 C456.3 884 457.7 890 458 892" fill="none" stroke="#161616" stroke-width="0.8" stroke-linejoin="round" stroke-linecap="round" />
<path d="M433.9 911 L432 911.9 L430 912.5 L427.8 912.8 L425.5 912.8 L423.1 912.4 L420.6 911.8 L418 910.9 L415.3 909.7 L412.6 908.2 L409.9 906.4 L407.1 904.4 L404.3 902.1 L401.5 899.6 L398.8 896.9 L396.1 893.9 L393.5 890.8 L390.9 887.5 L388.5 884.1 L386.1 880.5 L383.9 876.9 L381.8 873.1 L379.9 869.3 L378.2 865.4 L376.6 861.6 L375.2 857.8 L374 854 L373 850.2 L372.2 846.6 L371.6 843 L371.2 839.6 L371.1 836.3 L371.2 833.2 L371.5 830.3 L372 827.6 L372.7 825.1 L373.6 822.8 L374.8 820.8 L376.1 819.1 L377.6 817.6 L379.3 816.5 L394 808 L395.9 807.1 L397.9 806.5 L400.1 806.2 L402.4 806.2 L404.8 806.6 L407.3 807.2 L409.9 808.1 L412.6 809.3 L415.3 810.8 L418.1 812.6 L420.8 814.6 L423.6 816.9 L426.4 819.4 L429.1 822.1 L431.8 825.1 L434.5 828.2 L437 831.5 L439.5 834.9 L441.8 838.5 L444 842.1 L446.1 845.9 L448 849.7 L449.8 853.6 L451.3 857.4 L452.7 861.2 L453.9 865 L454.9 868.8 L455.7 872.4 L456.3 876 L456.7 879.4 L456.8 882.7 L456.7 885.8 L456.4 888.7 L455.9 891.4 L455.2 893.9 L454.3 896.2 L453.2 898.2 L451.8 899.9 L450.3 901.4 L448.6 902.5 Z" fill="#fff" stroke="#fff" stroke-width="0" stroke-linejoin="round" stroke-linecap="round" />
<line x1="428.2" y1="848.8" x2="438.3" y2="833.2" stroke="#161616" stroke-width="1.1"/>
<line x1="430.3" y1="852.5" x2="440.6" y2="836.6" stroke="#161616" stroke-width="1"/>
<line x1="438.3" y1="833.2" x2="440.6" y2="836.6" stroke="#161616" stroke-width="0.9"/>
<line x1="427.9" y1="856.1" x2="434.1" y2="847.9" stroke="#161616" stroke-width="0.7"/>
<line x1="432.8" y1="857.2" x2="443.4" y2="841.2" stroke="#161616" stroke-width="1.1"/>
<line x1="434.5" y1="860.9" x2="445.5" y2="844.8" stroke="#161616" stroke-width="1"/>
<line x1="443.4" y1="841.2" x2="445.5" y2="844.8" stroke="#161616" stroke-width="0.9"/>
<line x1="431.4" y1="863.4" x2="437.8" y2="855.1" stroke="#161616" stroke-width="0.7"/>
<line x1="436.5" y1="865.7" x2="447.9" y2="849.5" stroke="#161616" stroke-width="1.1"/>
<line x1="437.9" y1="869.5" x2="449.6" y2="853.3" stroke="#161616" stroke-width="1"/>
<line x1="447.9" y1="849.5" x2="449.6" y2="853.3" stroke="#161616" stroke-width="0.9"/>
<line x1="434" y1="870.7" x2="440.8" y2="862.4" stroke="#161616" stroke-width="0.7"/>
<line x1="439.4" y1="874.2" x2="451.6" y2="858.1" stroke="#161616" stroke-width="1.1"/>
<line x1="440.3" y1="877.9" x2="452.9" y2="861.8" stroke="#161616" stroke-width="1"/>
<line x1="451.6" y1="858.1" x2="452.9" y2="861.8" stroke="#161616" stroke-width="0.9"/>
<line x1="435.8" y1="877.7" x2="443.1" y2="869.6" stroke="#161616" stroke-width="0.7"/>
<line x1="441.3" y1="882.4" x2="454.4" y2="866.6" stroke="#161616" stroke-width="1.1"/>
<line x1="441.7" y1="885.8" x2="455.3" y2="870.2" stroke="#161616" stroke-width="1"/>
<line x1="454.4" y1="866.6" x2="455.3" y2="870.2" stroke="#161616" stroke-width="0.9"/>
<line x1="436.8" y1="884.4" x2="444.4" y2="876.4" stroke="#161616" stroke-width="0.7"/>
<line x1="442.1" y1="890" x2="456.1" y2="874.7" stroke="#161616" stroke-width="1.1"/>
<line x1="442.1" y1="893.1" x2="456.5" y2="878.1" stroke="#161616" stroke-width="1"/>
<line x1="456.1" y1="874.7" x2="456.5" y2="878.1" stroke="#161616" stroke-width="0.9"/>
<line x1="436.8" y1="890.4" x2="444.9" y2="882.7" stroke="#161616" stroke-width="0.7"/>
<line x1="441.8" y1="896.8" x2="456.8" y2="882.2" stroke="#161616" stroke-width="1.1"/>
<line x1="441.3" y1="899.5" x2="456.8" y2="885.3" stroke="#161616" stroke-width="1"/>
<line x1="456.8" y1="882.2" x2="456.8" y2="885.3" stroke="#161616" stroke-width="0.9"/>
<line x1="435.9" y1="895.6" x2="444.5" y2="888.4" stroke="#161616" stroke-width="0.7"/>
<line x1="440.4" y1="902.6" x2="456.4" y2="888.9" stroke="#161616" stroke-width="1.1"/>
<line x1="439.5" y1="904.8" x2="455.9" y2="891.5" stroke="#161616" stroke-width="1"/>
<line x1="456.4" y1="888.9" x2="455.9" y2="891.5" stroke="#161616" stroke-width="0.9"/>
<line x1="434.1" y1="899.8" x2="443.1" y2="893.1" stroke="#161616" stroke-width="0.7"/>
<line x1="438.1" y1="907.2" x2="455" y2="894.6" stroke="#161616" stroke-width="1.1"/>
<line x1="436.7" y1="908.8" x2="454" y2="896.7" stroke="#161616" stroke-width="1"/>
<line x1="455" y1="894.6" x2="454" y2="896.7" stroke="#161616" stroke-width="0.9"/>
<line x1="434.7" y1="910.5" x2="452.5" y2="899.1" stroke="#161616" stroke-width="1.1"/>
<line x1="433" y1="911.5" x2="451.1" y2="900.7" stroke="#161616" stroke-width="1"/>
<line x1="452.5" y1="899.1" x2="451.1" y2="900.7" stroke="#161616" stroke-width="0.9"/>
<line x1="430.6" y1="912.4" x2="449.1" y2="902.3" stroke="#161616" stroke-width="1.1"/>
<line x1="428.5" y1="912.7" x2="447.3" y2="903.2" stroke="#161616" stroke-width="1"/>
<line x1="449.1" y1="902.3" x2="447.3" y2="903.2" stroke="#161616" stroke-width="0.9"/>
<line x1="425.7" y1="912.8" x2="444.8" y2="904" stroke="#161616" stroke-width="1.1"/>
<line x1="423.3" y1="912.5" x2="442.7" y2="904.3" stroke="#161616" stroke-width="1"/>
<line x1="444.8" y1="904" x2="442.7" y2="904.3" stroke="#161616" stroke-width="0.9"/>
<line x1="372.7" y1="824.9" x2="386.2" y2="821.6" stroke="#161616" stroke-width="1.1"/>
<line x1="373.7" y1="822.7" x2="386.7" y2="819" stroke="#161616" stroke-width="1"/>
<line x1="386.2" y1="821.6" x2="386.7" y2="819" stroke="#161616" stroke-width="0.9"/>
<line x1="375.1" y1="820.3" x2="387.7" y2="815.9" stroke="#161616" stroke-width="1.1"/>
<line x1="376.5" y1="818.7" x2="388.6" y2="813.8" stroke="#161616" stroke-width="1"/>
<line x1="387.7" y1="815.9" x2="388.6" y2="813.8" stroke="#161616" stroke-width="0.9"/>
<line x1="378.4" y1="817" x2="390.1" y2="811.4" stroke="#161616" stroke-width="1.1"/>
<line x1="380.2" y1="816" x2="391.5" y2="809.8" stroke="#161616" stroke-width="1"/>
<line x1="390.1" y1="811.4" x2="391.5" y2="809.8" stroke="#161616" stroke-width="0.9"/>
<line x1="382.6" y1="815.1" x2="393.5" y2="808.2" stroke="#161616" stroke-width="1.1"/>
<line x1="384.7" y1="814.8" x2="395.3" y2="807.3" stroke="#161616" stroke-width="1"/>
<line x1="393.5" y1="808.2" x2="395.3" y2="807.3" stroke="#161616" stroke-width="0.9"/>
<line x1="387.5" y1="814.7" x2="397.8" y2="806.5" stroke="#161616" stroke-width="1.1"/>
<line x1="389.9" y1="815" x2="399.9" y2="806.2" stroke="#161616" stroke-width="1"/>
<line x1="397.8" y1="806.5" x2="399.9" y2="806.2" stroke="#161616" stroke-width="0.9"/>
<line x1="393.7" y1="822.4" x2="399.5" y2="817.5" stroke="#161616" stroke-width="0.7"/>
<line x1="393" y1="815.8" x2="402.8" y2="806.3" stroke="#161616" stroke-width="1.1"/>
<line x1="395.6" y1="816.8" x2="405.2" y2="806.6" stroke="#161616" stroke-width="1"/>
<line x1="402.8" y1="806.3" x2="405.2" y2="806.6" stroke="#161616" stroke-width="0.9"/>
<line x1="398.6" y1="824.3" x2="404.3" y2="818.7" stroke="#161616" stroke-width="0.7"/>
<line x1="398.9" y1="818.4" x2="408.3" y2="807.5" stroke="#161616" stroke-width="1.1"/>
<line x1="401.6" y1="819.9" x2="410.9" y2="808.5" stroke="#161616" stroke-width="1"/>
<line x1="408.3" y1="807.5" x2="410.9" y2="808.5" stroke="#161616" stroke-width="0.9"/>
<line x1="403.8" y1="827.3" x2="409.4" y2="821.1" stroke="#161616" stroke-width="0.7"/>
<line x1="405.1" y1="822.3" x2="414.3" y2="810.2" stroke="#161616" stroke-width="1.1"/>
<line x1="407.8" y1="824.4" x2="416.9" y2="811.8" stroke="#161616" stroke-width="1"/>
<line x1="414.3" y1="810.2" x2="416.9" y2="811.8" stroke="#161616" stroke-width="0.9"/>
<line x1="409.1" y1="831.4" x2="414.6" y2="824.7" stroke="#161616" stroke-width="0.7"/>
<line x1="411.2" y1="827.5" x2="420.4" y2="814.2" stroke="#161616" stroke-width="1.1"/>
<line x1="413.9" y1="830.1" x2="423.1" y2="816.4" stroke="#161616" stroke-width="1"/>
<line x1="420.4" y1="814.2" x2="423.1" y2="816.4" stroke="#161616" stroke-width="0.9"/>
<line x1="414.3" y1="836.5" x2="419.9" y2="829.3" stroke="#161616" stroke-width="0.7"/>
<line x1="417.3" y1="833.8" x2="426.6" y2="819.5" stroke="#161616" stroke-width="1.1"/>
<line x1="419.9" y1="836.8" x2="429.3" y2="822.2" stroke="#161616" stroke-width="1"/>
<line x1="426.6" y1="819.5" x2="429.3" y2="822.2" stroke="#161616" stroke-width="0.9"/>
<line x1="419.3" y1="842.5" x2="424.9" y2="834.9" stroke="#161616" stroke-width="0.7"/>
<line x1="423" y1="841" x2="432.6" y2="825.9" stroke="#161616" stroke-width="1.1"/>
<line x1="425.4" y1="844.4" x2="435.1" y2="829" stroke="#161616" stroke-width="1"/>
<line x1="432.6" y1="825.9" x2="435.1" y2="829" stroke="#161616" stroke-width="0.9"/>
<line x1="423.9" y1="849.1" x2="429.7" y2="841.1" stroke="#161616" stroke-width="0.7"/>
<path d="M424.3 849.8 L428.2 848.8 L430.3 852.5 L427.6 855.4 L428.3 856.8 L432.8 857.2 L434.5 860.9 L431.1 862.6 L431.7 864.1 L436.5 865.7 L437.9 869.5 L433.8 869.9 L434.2 871.4 L439.4 874.2 L440.3 877.9 L435.7 877 L436 878.4 L441.3 882.4 L441.7 885.8 L436.7 883.7 L436.8 885 L442.1 890 L442.1 893.1 L436.8 889.8 L436.8 890.9 L441.8 896.8 L441.3 899.5 L436 895.1 L435.8 896.1 L440.4 902.6 L439.5 904.8 L434.3 899.5 L433.9 900.2 L438.1 907.2 L436.7 908.8 L431.8 902.7 L431.2 903.2 L434.7 910.5 L433 911.5 L428.5 904.8 L427.7 905.1 L430.6 912.4 L428.5 912.7 L424.5 905.6 L423.6 905.6 L425.7 912.8 L423.3 912.5 L420 905.2 L419 904.9 L420.2 911.7 L417.6 910.7 L415.1 903.5 L414 903 L414.3 909.1 L411.6 907.6 L409.9 900.6 L408.8 899.8 L408.1 905.2 L405.4 903.1 L404.6 896.5 L403.5 895.6 L401.9 900 L399.3 897.4 L399.4 891.5 L398.3 890.4 L395.9 893.7 L393.3 890.7 L394.4 885.6 L393.4 884.4 L390.2 886.5 L387.8 883.1 L389.7 879.1 L388.9 877.7 L385 878.7 L382.9 875 L385.6 872.1 L384.9 870.7 L380.4 870.3 L378.6 866.6 L382.1 864.9 L381.5 863.4 L376.6 861.8 L375.3 858 L379.4 857.6 L378.9 856.1 L373.8 853.3 L372.8 849.6 L377.5 850.5 L377.2 849.1 L371.9 845.1 L371.4 841.7 L376.5 843.8 L376.4 842.5 L371.1 837.5 L371.1 834.4 L376.3 837.7 L376.4 836.6 L371.4 830.7 L371.9 828 L377.1 832.4 L377.4 831.4 L372.7 824.9 L373.7 822.7 L378.8 828 L379.3 827.3 L375.1 820.3 L376.5 818.7 L381.4 824.8 L382 824.3 L378.4 817 L380.2 816 L384.7 822.7 L385.4 822.4 L382.6 815.1 L384.7 814.8 L388.7 821.9 L389.5 821.9 L387.5 814.7 L389.9 815 L393.2 822.3 L394.2 822.6 L393 815.8 L395.6 816.8 L398.1 824 L399.1 824.5 L398.9 818.4 L401.6 819.9 L403.3 826.9 L404.4 827.7 L405.1 822.3 L407.8 824.4 L408.6 831 L409.6 831.9 L411.2 827.5 L413.9 830.1 L413.8 836 L414.8 837.1 L417.3 833.8 L419.9 836.8 L418.8 841.9 L419.8 843.1 L423 841 L425.4 844.4 L423.5 848.4 Z" fill="#fff" stroke="#161616" stroke-width="1.2" stroke-linejoin="round" stroke-linecap="round" />
<path d="M424.8 916.3 L422.9 917.2 L420.9 917.8 L418.7 918 L416.5 918 L414 917.7 L411.5 917.1 L408.9 916.2 L406.2 915 L403.5 913.5 L400.8 911.7 L398 909.7 L395.2 907.4 L392.4 904.9 L389.7 902.1 L387 899.2 L384.4 896.1 L381.8 892.8 L379.4 889.3 L377 885.8 L374.8 882.1 L372.7 878.3 L370.8 874.5 L369.1 870.7 L367.5 866.8 L366.1 863 L364.9 859.2 L363.9 855.5 L363.1 851.8 L362.5 848.3 L362.2 844.8 L362 841.6 L362.1 838.4 L362.4 835.5 L362.9 832.8 L363.6 830.3 L364.5 828.1 L365.7 826.1 L367 824.3 L368.5 822.9 L370.2 821.7 L380.6 815.7 L382.5 814.8 L384.5 814.2 L386.6 814 L388.9 814 L391.4 814.3 L393.9 814.9 L396.5 815.8 L399.1 817 L401.9 818.5 L404.6 820.3 L407.4 822.3 L410.2 824.6 L413 827.1 L415.7 829.9 L418.4 832.8 L421 835.9 L423.6 839.2 L426 842.7 L428.4 846.2 L430.6 849.9 L432.7 853.7 L434.6 857.5 L436.3 861.3 L437.9 865.2 L439.3 869 L440.5 872.8 L441.5 876.5 L442.3 880.2 L442.9 883.7 L443.2 887.2 L443.4 890.4 L443.3 893.6 L443 896.5 L442.5 899.2 L441.8 901.7 L440.9 903.9 L439.7 905.9 L438.4 907.7 L436.9 909.1 L435.2 910.3 Z" fill="#fff" stroke="#fff" stroke-width="0" stroke-linejoin="round" stroke-linecap="round" />
<line x1="419.1" y1="854.1" x2="433.7" y2="855.6" stroke="#161616" stroke-width="1.1"/>
<line x1="421.2" y1="857.7" x2="435.5" y2="859.3" stroke="#161616" stroke-width="1"/>
<line x1="433.7" y1="855.6" x2="435.5" y2="859.3" stroke="#161616" stroke-width="0.9"/>
<line x1="418.9" y1="861.4" x2="426.3" y2="861.7" stroke="#161616" stroke-width="0.7"/>
<line x1="423.7" y1="862.4" x2="437.5" y2="864.1" stroke="#161616" stroke-width="1.1"/>
<line x1="425.4" y1="866.2" x2="438.9" y2="867.9" stroke="#161616" stroke-width="1"/>
<line x1="437.5" y1="864.1" x2="438.9" y2="867.9" stroke="#161616" stroke-width="0.9"/>
<line x1="422.3" y1="868.6" x2="429.3" y2="868.9" stroke="#161616" stroke-width="0.7"/>
<line x1="427.4" y1="871" x2="440.5" y2="872.6" stroke="#161616" stroke-width="1.1"/>
<line x1="428.8" y1="874.7" x2="441.4" y2="876.3" stroke="#161616" stroke-width="1"/>
<line x1="440.5" y1="872.6" x2="441.4" y2="876.3" stroke="#161616" stroke-width="0.9"/>
<line x1="424.9" y1="875.9" x2="431.6" y2="876.1" stroke="#161616" stroke-width="0.7"/>
<line x1="430.3" y1="879.5" x2="442.4" y2="880.8" stroke="#161616" stroke-width="1.1"/>
<line x1="431.2" y1="883.1" x2="442.9" y2="884.3" stroke="#161616" stroke-width="1"/>
<line x1="442.4" y1="880.8" x2="442.9" y2="884.3" stroke="#161616" stroke-width="0.9"/>
<line x1="426.8" y1="883" x2="433" y2="883" stroke="#161616" stroke-width="0.7"/>
<line x1="432.2" y1="887.6" x2="443.3" y2="888.5" stroke="#161616" stroke-width="1.1"/>
<line x1="432.6" y1="891.1" x2="443.4" y2="891.6" stroke="#161616" stroke-width="1"/>
<line x1="443.3" y1="888.5" x2="443.4" y2="891.6" stroke="#161616" stroke-width="0.9"/>
<line x1="427.7" y1="889.6" x2="433.4" y2="889.3" stroke="#161616" stroke-width="0.7"/>
<line x1="433" y1="895.2" x2="443.2" y2="895.4" stroke="#161616" stroke-width="1.1"/>
<line x1="433" y1="898.3" x2="442.7" y2="898.1" stroke="#161616" stroke-width="1"/>
<line x1="443.2" y1="895.4" x2="442.7" y2="898.1" stroke="#161616" stroke-width="0.9"/>
<line x1="427.7" y1="895.6" x2="433" y2="894.9" stroke="#161616" stroke-width="0.7"/>
<line x1="432.7" y1="902" x2="441.9" y2="901.3" stroke="#161616" stroke-width="1.1"/>
<line x1="432.2" y1="904.7" x2="441" y2="903.5" stroke="#161616" stroke-width="1"/>
<line x1="441.9" y1="901.3" x2="441" y2="903.5" stroke="#161616" stroke-width="0.9"/>
<line x1="426.8" y1="900.8" x2="431.7" y2="899.7" stroke="#161616" stroke-width="0.7"/>
<line x1="431.3" y1="907.8" x2="439.7" y2="906" stroke="#161616" stroke-width="1.1"/>
<line x1="430.4" y1="910" x2="438.3" y2="907.7" stroke="#161616" stroke-width="1"/>
<line x1="439.7" y1="906" x2="438.3" y2="907.7" stroke="#161616" stroke-width="0.9"/>
<line x1="425" y1="905.1" x2="429.5" y2="903.4" stroke="#161616" stroke-width="0.7"/>
<line x1="429" y1="912.4" x2="436.4" y2="909.5" stroke="#161616" stroke-width="1.1"/>
<line x1="427.6" y1="914.1" x2="434.7" y2="910.5" stroke="#161616" stroke-width="1"/>
<line x1="436.4" y1="909.5" x2="434.7" y2="910.5" stroke="#161616" stroke-width="0.9"/>
<line x1="425.7" y1="915.7" x2="432.3" y2="911.5" stroke="#161616" stroke-width="1.1"/>
<line x1="423.9" y1="916.8" x2="430.3" y2="911.9" stroke="#161616" stroke-width="1"/>
<line x1="432.3" y1="911.5" x2="430.3" y2="911.9" stroke="#161616" stroke-width="0.9"/>
<line x1="421.5" y1="917.6" x2="427.5" y2="912.1" stroke="#161616" stroke-width="1.1"/>
<line x1="419.4" y1="918" x2="425.1" y2="911.8" stroke="#161616" stroke-width="1"/>
<line x1="427.5" y1="912.1" x2="425.1" y2="911.8" stroke="#161616" stroke-width="0.9"/>
<line x1="416.6" y1="918" x2="422" y2="911.1" stroke="#161616" stroke-width="1.1"/>
<line x1="414.2" y1="917.7" x2="419.5" y2="910.2" stroke="#161616" stroke-width="1"/>
<line x1="422" y1="911.1" x2="419.5" y2="910.2" stroke="#161616" stroke-width="0.9"/>
<line x1="363.7" y1="830.2" x2="376.1" y2="820" stroke="#161616" stroke-width="1.1"/>
<line x1="364.6" y1="828" x2="377.4" y2="818.3" stroke="#161616" stroke-width="1"/>
<line x1="376.1" y1="820" x2="377.4" y2="818.3" stroke="#161616" stroke-width="0.9"/>
<line x1="366" y1="825.6" x2="379.4" y2="816.5" stroke="#161616" stroke-width="1.1"/>
<line x1="367.4" y1="823.9" x2="381.1" y2="815.5" stroke="#161616" stroke-width="1"/>
<line x1="379.4" y1="816.5" x2="381.1" y2="815.5" stroke="#161616" stroke-width="0.9"/>
<line x1="369.3" y1="822.3" x2="383.5" y2="814.5" stroke="#161616" stroke-width="1.1"/>
<line x1="371.1" y1="821.2" x2="385.5" y2="814.1" stroke="#161616" stroke-width="1"/>
<line x1="383.5" y1="814.5" x2="385.5" y2="814.1" stroke="#161616" stroke-width="0.9"/>
<line x1="373.5" y1="820.4" x2="388.3" y2="813.9" stroke="#161616" stroke-width="1.1"/>
<line x1="375.6" y1="820" x2="390.6" y2="814.2" stroke="#161616" stroke-width="1"/>
<line x1="388.3" y1="813.9" x2="390.6" y2="814.2" stroke="#161616" stroke-width="0.9"/>
<line x1="378.4" y1="820" x2="393.8" y2="814.9" stroke="#161616" stroke-width="1.1"/>
<line x1="380.8" y1="820.3" x2="396.3" y2="815.8" stroke="#161616" stroke-width="1"/>
<line x1="393.8" y1="814.9" x2="396.3" y2="815.8" stroke="#161616" stroke-width="0.9"/>
<line x1="384.6" y1="827.7" x2="392.7" y2="825.3" stroke="#161616" stroke-width="0.7"/>
<line x1="383.9" y1="821.1" x2="399.6" y2="817.3" stroke="#161616" stroke-width="1.1"/>
<line x1="386.5" y1="822" x2="402.3" y2="818.8" stroke="#161616" stroke-width="1"/>
<line x1="399.6" y1="817.3" x2="402.3" y2="818.8" stroke="#161616" stroke-width="0.9"/>
<line x1="389.5" y1="829.5" x2="397.8" y2="827.7" stroke="#161616" stroke-width="0.7"/>
<line x1="389.8" y1="823.6" x2="405.7" y2="821.1" stroke="#161616" stroke-width="1.1"/>
<line x1="392.5" y1="825.2" x2="408.5" y2="823.2" stroke="#161616" stroke-width="1"/>
<line x1="405.7" y1="821.1" x2="408.5" y2="823.2" stroke="#161616" stroke-width="0.9"/>
<line x1="394.7" y1="832.5" x2="403.1" y2="831.3" stroke="#161616" stroke-width="0.7"/>
<line x1="396" y1="827.5" x2="411.9" y2="826.1" stroke="#161616" stroke-width="1.1"/>
<line x1="398.7" y1="829.7" x2="414.6" y2="828.7" stroke="#161616" stroke-width="1"/>
<line x1="411.9" y1="826.1" x2="414.6" y2="828.7" stroke="#161616" stroke-width="0.9"/>
<line x1="400" y1="836.7" x2="408.3" y2="835.9" stroke="#161616" stroke-width="0.7"/>
<line x1="402.2" y1="832.7" x2="418" y2="832.3" stroke="#161616" stroke-width="1.1"/>
<line x1="404.8" y1="835.4" x2="420.6" y2="835.4" stroke="#161616" stroke-width="1"/>
<line x1="418" y1="832.3" x2="420.6" y2="835.4" stroke="#161616" stroke-width="0.9"/>
<line x1="405.2" y1="841.8" x2="413.4" y2="841.4" stroke="#161616" stroke-width="0.7"/>
<line x1="408.2" y1="839" x2="423.7" y2="839.4" stroke="#161616" stroke-width="1.1"/>
<line x1="410.8" y1="842.1" x2="426.1" y2="842.8" stroke="#161616" stroke-width="1"/>
<line x1="423.7" y1="839.4" x2="426.1" y2="842.8" stroke="#161616" stroke-width="0.9"/>
<line x1="410.2" y1="847.7" x2="418.2" y2="847.7" stroke="#161616" stroke-width="0.7"/>
<line x1="413.9" y1="846.2" x2="429" y2="847.3" stroke="#161616" stroke-width="1.1"/>
<line x1="416.3" y1="849.6" x2="431.1" y2="850.9" stroke="#161616" stroke-width="1"/>
<line x1="429" y1="847.3" x2="431.1" y2="850.9" stroke="#161616" stroke-width="0.9"/>
<line x1="414.8" y1="854.3" x2="422.5" y2="854.5" stroke="#161616" stroke-width="0.7"/>
<path d="M415.2 855 L419.1 854.1 L421.2 857.7 L418.5 860.6 L419.2 862.1 L423.7 862.4 L425.4 866.2 L422 867.9 L422.6 869.4 L427.4 871 L428.8 874.7 L424.7 875.2 L425.1 876.6 L430.3 879.5 L431.2 883.1 L426.6 882.3 L426.9 883.7 L432.2 887.6 L432.6 891.1 L427.6 889 L427.7 890.3 L433 895.2 L433 898.3 L427.8 895.1 L427.7 896.2 L432.7 902 L432.2 904.7 L426.9 900.4 L426.7 901.3 L431.3 907.8 L430.4 910 L425.2 904.7 L424.8 905.4 L429 912.4 L427.6 914.1 L422.7 908 L422.1 908.5 L425.7 915.7 L423.9 916.8 L419.4 910 L418.6 910.3 L421.5 917.6 L419.4 918 L415.4 910.9 L414.6 910.9 L416.6 918 L414.2 917.7 L410.9 910.4 L409.9 910.2 L411.1 916.9 L408.5 916 L406 908.7 L404.9 908.2 L405.2 914.4 L402.5 912.8 L400.8 905.8 L399.7 905.1 L399 910.5 L396.3 908.3 L395.5 901.8 L394.4 900.9 L392.8 905.3 L390.2 902.6 L390.3 896.8 L389.3 895.6 L386.8 899 L384.2 895.9 L385.3 890.9 L384.3 889.6 L381.1 891.8 L378.7 888.4 L380.6 884.4 L379.8 883 L375.9 883.9 L373.8 880.3 L376.5 877.4 L375.8 875.9 L371.3 875.6 L369.6 871.8 L373 870.1 L372.4 868.6 L367.6 867 L366.2 863.3 L370.3 862.8 L369.9 861.4 L364.7 858.5 L363.8 854.9 L368.4 855.7 L368.1 854.3 L362.8 850.4 L362.4 846.9 L367.4 849 L367.3 847.7 L362 842.8 L362 839.7 L367.2 842.9 L367.3 841.8 L362.3 836 L362.8 833.3 L368.1 837.6 L368.3 836.7 L363.7 830.2 L364.6 828 L369.8 833.3 L370.2 832.6 L366 825.6 L367.4 823.9 L372.3 830 L372.9 829.5 L369.3 822.3 L371.1 821.2 L375.6 828 L376.4 827.7 L373.5 820.4 L375.6 820 L379.6 827.1 L380.4 827.1 L378.4 820 L380.8 820.3 L384.1 827.6 L385.1 827.8 L383.9 821.1 L386.5 822 L389 829.3 L390.1 829.8 L389.8 823.6 L392.5 825.2 L394.2 832.2 L395.3 832.9 L396 827.5 L398.7 829.7 L399.5 836.2 L400.6 837.1 L402.2 832.7 L404.8 835.4 L404.7 841.2 L405.7 842.4 L408.2 839 L410.8 842.1 L409.7 847.1 L410.7 848.4 L413.9 846.2 L416.3 849.6 L414.4 853.6 Z" fill="#fff" stroke="#161616" stroke-width="1.2" stroke-linejoin="round" stroke-linecap="round" />
<ellipse cx="397.5" cy="869" rx="20.6" ry="42.8" transform="rotate(-30 397.5 869)" fill="none" stroke="#161616" stroke-width="0.8" />
<ellipse cx="413" cy="867.3" rx="2.9" ry="4.9" transform="rotate(-30 413 867.3)" fill="#fff" stroke="#161616" stroke-width="1" />
<ellipse cx="417.1" cy="887.1" rx="2.9" ry="4.9" transform="rotate(-30 417.1 887.1)" fill="#fff" stroke="#161616" stroke-width="1" />
<ellipse cx="409.7" cy="896.3" rx="2.9" ry="4.9" transform="rotate(-30 409.7 896.3)" fill="#fff" stroke="#161616" stroke-width="1" />
<ellipse cx="395.2" cy="889.5" rx="2.9" ry="4.9" transform="rotate(-30 395.2 889.5)" fill="#fff" stroke="#161616" stroke-width="1" />
<ellipse cx="382" cy="870.7" rx="2.9" ry="4.9" transform="rotate(-30 382 870.7)" fill="#fff" stroke="#161616" stroke-width="1" />
<ellipse cx="377.9" cy="850.9" rx="2.9" ry="4.9" transform="rotate(-30 377.9 850.9)" fill="#fff" stroke="#161616" stroke-width="1" />
<ellipse cx="385.3" cy="841.7" rx="2.9" ry="4.9" transform="rotate(-30 385.3 841.7)" fill="#fff" stroke="#161616" stroke-width="1" />
<ellipse cx="399.8" cy="848.5" rx="2.9" ry="4.9" transform="rotate(-30 399.8 848.5)" fill="#fff" stroke="#161616" stroke-width="1" />
<path d="M388.9 887 L388 887.4 L387.1 887.7 L386.1 887.7 L385 887.6 L383.9 887.3 L382.8 886.9 L381.6 886.3 L380.5 885.6 L379.3 884.7 L378.2 883.7 L377.1 882.5 L376.1 881.3 L375.2 880 L374.3 878.6 L373.6 877.2 L372.9 875.7 L372.3 874.2 L371.9 872.7 L371.6 871.2 L371.4 869.8 L371.3 868.4 L371.4 867.1 L371.5 865.9 L371.9 864.8 L372.3 863.9 L372.9 863 L373.5 862.3 L374.3 861.8 L387.2 854.4 L388.1 854 L389 853.7 L390 853.7 L391.1 853.8 L392.2 854.1 L393.3 854.5 L394.5 855.1 L395.6 855.8 L396.8 856.7 L397.9 857.7 L399 858.9 L400 860.1 L400.9 861.4 L401.8 862.8 L402.5 864.2 L403.2 865.7 L403.8 867.2 L404.2 868.7 L404.5 870.2 L404.7 871.6 L404.8 873 L404.7 874.3 L404.6 875.5 L404.2 876.6 L403.8 877.5 L403.2 878.4 L402.6 879.1 L401.8 879.6 Z" fill="#fff" stroke="#161616" stroke-width="1.4" stroke-linejoin="round" stroke-linecap="round" />
<ellipse cx="381.6" cy="874.4" rx="8.4" ry="14.6" transform="rotate(-30 381.6 874.4)" fill="#fff" stroke="#161616" stroke-width="1.4" />
<path d="M377.6 859.9 L378.4 859.6 L379.4 859.4 L380.4 859.4 L381.4 859.5 L382.5 859.8 L383.6 860.3 L384.8 860.9 L385.9 861.6 L387 862.5 L388.1 863.5 L389.1 864.6 L390.1 865.8 L391 867.1 L391.9 868.5 L392.6 869.9 L393.3 871.4 L393.8 872.8 L394.3 874.3 L394.6 875.7 L394.8 877.1 L394.9 878.5 L394.9 879.7 L394.7 880.9 L394.4 882 L394 883 L393.5 883.9 L392.9 884.6 L392.1 885.2" fill="none" stroke="#161616" stroke-width="0.8" stroke-linejoin="round" stroke-linecap="round" />
<ellipse cx="381.6" cy="874.4" rx="6.6" ry="11.6" transform="rotate(-30 381.6 874.4)" fill="none" stroke="#161616" stroke-width="0.8" />
<!-- washer_14 -->
<path d="M342.7 922.2 L341.4 922.8 L340.1 923.2 L338.6 923.3 L337.1 923.3 L335.5 923 L333.9 922.5 L332.3 921.7 L330.7 920.8 L329.1 919.7 L327.6 918.4 L326.1 916.9 L324.8 915.3 L323.5 913.6 L322.4 911.8 L321.4 909.9 L320.5 907.9 L319.8 906 L319.3 904 L318.9 902 L318.7 900.1 L318.7 898.2 L318.9 896.5 L319.3 894.8 L319.8 893.3 L320.5 892 L321.4 890.8 L322.4 889.8 L323.5 889 L324.5 888.4 L325.8 887.8 L327.2 887.4 L328.6 887.3 L330.1 887.3 L331.7 887.6 L333.3 888.1 L334.9 888.9 L336.5 889.8 L338.1 890.9 L339.6 892.2 L341.1 893.7 L342.5 895.3 L343.7 897 L344.9 898.8 L345.9 900.7 L346.7 902.7 L347.4 904.6 L348 906.6 L348.3 908.6 L348.5 910.5 L348.5 912.4 L348.3 914.1 L348 915.8 L347.4 917.3 L346.7 918.6 L345.9 919.8 L344.9 920.8 L343.7 921.6 Z" fill="#fff" stroke="#161616" stroke-width="1.5" stroke-linejoin="round" stroke-linecap="round" />
<ellipse cx="333.1" cy="905.6" rx="12.4" ry="19.2" transform="rotate(-30 333.1 905.6)" fill="#fff" stroke="#161616" stroke-width="1.5" />
<ellipse cx="332.5" cy="905.8" rx="7.6" ry="14.4" transform="rotate(-30 332.5 905.8)" fill="#fff" stroke="#161616" stroke-width="1.3" />
<path d="M338.4 918 L337.6 917.9 L336.8 917.7 L335.9 917.4 L335.1 916.9 L334.2 916.4 L333.3 915.8 L332.4 915.1 L331.6 914.3 L330.7 913.4 L329.9 912.5 L329.1 911.5 L328.4 910.5 L327.7 909.4 L327 908.3 L326.4 907.1 L325.9 905.9 L325.4 904.8 L325 903.6 L324.7 902.4 L324.4 901.3 L324.3 900.2 L324.2 899.1 L324.1 898.1 L324.2 897.1 L324.4 896.2 L324.6 895.4 L324.9 894.6 L325.2 893.9" fill="none" stroke="#161616" stroke-width="0.8" stroke-linejoin="round" stroke-linecap="round" />
<!-- centerlines -->
<line x1="677.6" y1="297.6" x2="721.6" y2="272.3" stroke="#161616" stroke-width="1"/>
<line x1="755.6" y1="253.7" x2="767.7" y2="247" stroke="#161616" stroke-width="1"/>
<line x1="490" y1="375.4" x2="567" y2="332" stroke="#161616" stroke-width="0.9" stroke-dasharray="14 3 2 3"/>
<line x1="462" y1="391.7" x2="492" y2="374.6" stroke="#161616" stroke-width="0.9" stroke-dasharray="14 3 2 3"/>
<line x1="360.4" y1="448.4" x2="381.7" y2="437.8" stroke="#161616" stroke-width="0.9"/>
<line x1="206.7" y1="538.3" x2="326.4" y2="470.8" stroke="#161616" stroke-width="0.9" stroke-dasharray="14 3 2 3"/>
<line x1="277.4" y1="261.7" x2="303" y2="248" stroke="#161616" stroke-width="0.9"/>
<line x1="56.8" y1="899.6" x2="80.9" y2="886.2" stroke="#161616" stroke-width="1"/>
<line x1="94" y1="877.8" x2="131.5" y2="856.2" stroke="#161616" stroke-width="1"/>
<line x1="150.4" y1="843.7" x2="171.5" y2="833" stroke="#161616" stroke-width="1"/>
<line x1="200.4" y1="815.7" x2="262" y2="779.4" stroke="#161616" stroke-width="0.9" stroke-dasharray="14 3 2 3"/>
<line x1="262" y1="779.4" x2="282.6" y2="766.6" stroke="#161616" stroke-width="0.9"/>
<line x1="295.6" y1="759" x2="353" y2="727" stroke="#161616" stroke-width="0.9" stroke-dasharray="14 3 2 3"/>
<line x1="300.6" y1="925" x2="331.4" y2="907.2" stroke="#161616" stroke-width="0.9" stroke-dasharray="12 3 2 3"/>
<line x1="347.9" y1="897.8" x2="382.2" y2="877.7" stroke="#161616" stroke-width="0.9" stroke-dasharray="16 3 2 3"/>
<line x1="113.5" y1="659.3" x2="156" y2="635.7" stroke="#161616" stroke-width="0.9" stroke-dasharray="10 3 2 3"/>
<line x1="120.9" y1="528.5" x2="120.9" y2="604.6" stroke="#161616" stroke-width="0.9"/>
<line x1="61" y1="629.7" x2="61" y2="645.1" stroke="#161616" stroke-width="0.9"/>
<!-- assembly_box -->
<line x1="13" y1="685.3" x2="32" y2="673.5" stroke="#161616" stroke-width="0.9"/>
<path d="M13 685.3 L129 752 L326 638.4" fill="none" stroke="#161616" stroke-width="0.9" stroke-linejoin="round" stroke-linecap="round" stroke-dasharray="46 3 2 3"/>
<path d="M326 638.4 L413.8 688" fill="none" stroke="#161616" stroke-width="0.9" stroke-linejoin="round" stroke-linecap="round" stroke-dasharray="30 3 8 3"/>
<line x1="413.8" y1="688" x2="395.5" y2="699" stroke="#161616" stroke-width="0.9"/>
<path d="M216.5 565.6 L224.3 563.6 L224.3 589 L237.9 585" fill="none" stroke="#161616" stroke-width="0.9" stroke-linejoin="round" stroke-linecap="round" />
<!-- leaders -->
<line x1="427.2" y1="161.7" x2="467.3" y2="129.8" stroke="#161616" stroke-width="1.4"/>
<line x1="138.1" y1="281.9" x2="165.7" y2="306.4" stroke="#161616" stroke-width="1.4"/>
<line x1="239.6" y1="161" x2="275.6" y2="187" stroke="#161616" stroke-width="1.4"/>
<line x1="239.6" y1="161" x2="242" y2="266.6" stroke="#161616" stroke-width="1.4"/>
<line x1="397.7" y1="73.3" x2="433.7" y2="47.2" stroke="#161616" stroke-width="1.4"/>
<line x1="792" y1="287.7" x2="809.5" y2="317.4" stroke="#161616" stroke-width="1.4"/>
<line x1="748" y1="310.8" x2="766.6" y2="339.4" stroke="#161616" stroke-width="1.4"/>
<line x1="620.3" y1="438.7" x2="635.2" y2="461" stroke="#161616" stroke-width="1.4"/>
<line x1="426.6" y1="441.3" x2="450.2" y2="468.5" stroke="#161616" stroke-width="1.4"/>
<line x1="351.2" y1="501.6" x2="380.8" y2="527.6" stroke="#161616" stroke-width="1.4"/>
<line x1="290.9" y1="525.2" x2="319.3" y2="548.8" stroke="#161616" stroke-width="1.4"/>
<line x1="247.7" y1="583.9" x2="278.9" y2="594.8" stroke="#161616" stroke-width="1.4"/>
<line x1="243.8" y1="635.8" x2="277" y2="635.8" stroke="#161616" stroke-width="1.4"/>
<line x1="407.3" y1="746.3" x2="431" y2="750.7" stroke="#161616" stroke-width="1.4"/>
<line x1="501" y1="868.7" x2="541" y2="857.3" stroke="#161616" stroke-width="1.4"/>
<line x1="346.1" y1="920.8" x2="374.5" y2="938" stroke="#161616" stroke-width="1.4"/>
<line x1="299.4" y1="793.7" x2="324" y2="817" stroke="#161616" stroke-width="1.4"/>
<line x1="196.8" y1="845.9" x2="227" y2="870.7" stroke="#161616" stroke-width="1.4"/>
<line x1="150.7" y1="874.3" x2="170.2" y2="890.2" stroke="#161616" stroke-width="1.4"/>
<line x1="94" y1="897.3" x2="131.2" y2="922.8" stroke="#161616" stroke-width="1.4"/>
<line x1="55" y1="920.4" x2="84.4" y2="942.7" stroke="#161616" stroke-width="1.4"/>
<line x1="104" y1="673.5" x2="120.6" y2="695.9" stroke="#161616" stroke-width="1.4"/>
<line x1="26" y1="596.6" x2="55.6" y2="620.3" stroke="#161616" stroke-width="1.4"/>
<line x1="91.7" y1="499.3" x2="115" y2="516.8" stroke="#161616" stroke-width="1.4"/>
<!-- labels -->
<text x="482" y="127.1" font-size="12.2" text-anchor="middle" fill="#111">1</text>
<text x="132.3" y="278.9" font-size="12.2" text-anchor="middle" fill="#111">1</text>
<text x="234" y="156.1" font-size="12.2" text-anchor="middle" fill="#111">2</text>
<text x="446.6" y="45.4" font-size="12.2" text-anchor="middle" fill="#111">3</text>
<text x="815" y="336.1" font-size="12.2" text-anchor="middle" fill="#111">4</text>
<text x="774.8" y="359.6" font-size="12.2" text-anchor="middle" fill="#111">5</text>
<text x="645.1" y="481.6" font-size="12.2" text-anchor="middle" fill="#111">6</text>
<text x="463.2" y="490.6" font-size="12.2" text-anchor="middle" fill="#111">7</text>
<text x="391.9" y="547.3" font-size="12.2" text-anchor="middle" fill="#111">8</text>
<text x="335.1" y="571.4" font-size="12.2" text-anchor="middle" fill="#111">9</text>
<text x="302.3" y="609" font-size="12.2" text-anchor="middle" fill="#111">10</text>
<text x="298.4" y="642.1" font-size="12.2" text-anchor="middle" fill="#111">11</text>
<text x="451.6" y="765.4" font-size="12.2" text-anchor="middle" fill="#111">12</text>
<text x="564.8" y="862.4" font-size="12.2" text-anchor="middle" fill="#111">13</text>
<text x="394.6" y="955.3" font-size="12.2" text-anchor="middle" fill="#111">14</text>
<text x="342.9" y="838.2" font-size="12.2" text-anchor="middle" fill="#111">15</text>
<text x="244.7" y="890.4" font-size="12.2" text-anchor="middle" fill="#111">16</text>
<text x="188" y="910.6" font-size="12.2" text-anchor="middle" fill="#111">17</text>
<text x="151.8" y="941.4" font-size="12.2" text-anchor="middle" fill="#111">18</text>
<text x="104.6" y="958.4" font-size="12.2" text-anchor="middle" fill="#111">19</text>
<text x="139" y="716.9" font-size="12.2" text-anchor="middle" fill="#111">20</text>
<text x="17.7" y="592.8" font-size="12.2" text-anchor="middle" fill="#111">21</text>
<text x="81.9" y="495.9" font-size="12.2" text-anchor="middle" fill="#111">22</text>
<g style="mix-blend-mode:multiply" transform="translate(91.9 890.9) rotate(-48.2) scale(1.308 1)" font-size="65" font-weight="bold"><g fill="#dbdbdb" stroke="#c2c2c2" stroke-width="2.9" stroke-linejoin="miter"><text x="0" y="0">www.polarisersatzteile.de</text><rect x="155.3" y="-13.6" width="11.4" height="14.6"/><rect x="702" y="-13.6" width="11.4" height="14.6"/></g><g fill="#dbdbdb" stroke="#dbdbdb" stroke-width="1.1" stroke-linejoin="miter"><text x="0" y="0">www.polarisersatzteile.de</text><rect x="155.3" y="-13.6" width="11.4" height="14.6"/><rect x="702" y="-13.6" width="11.4" height="14.6"/></g></g>
</svg>
</body></html>
